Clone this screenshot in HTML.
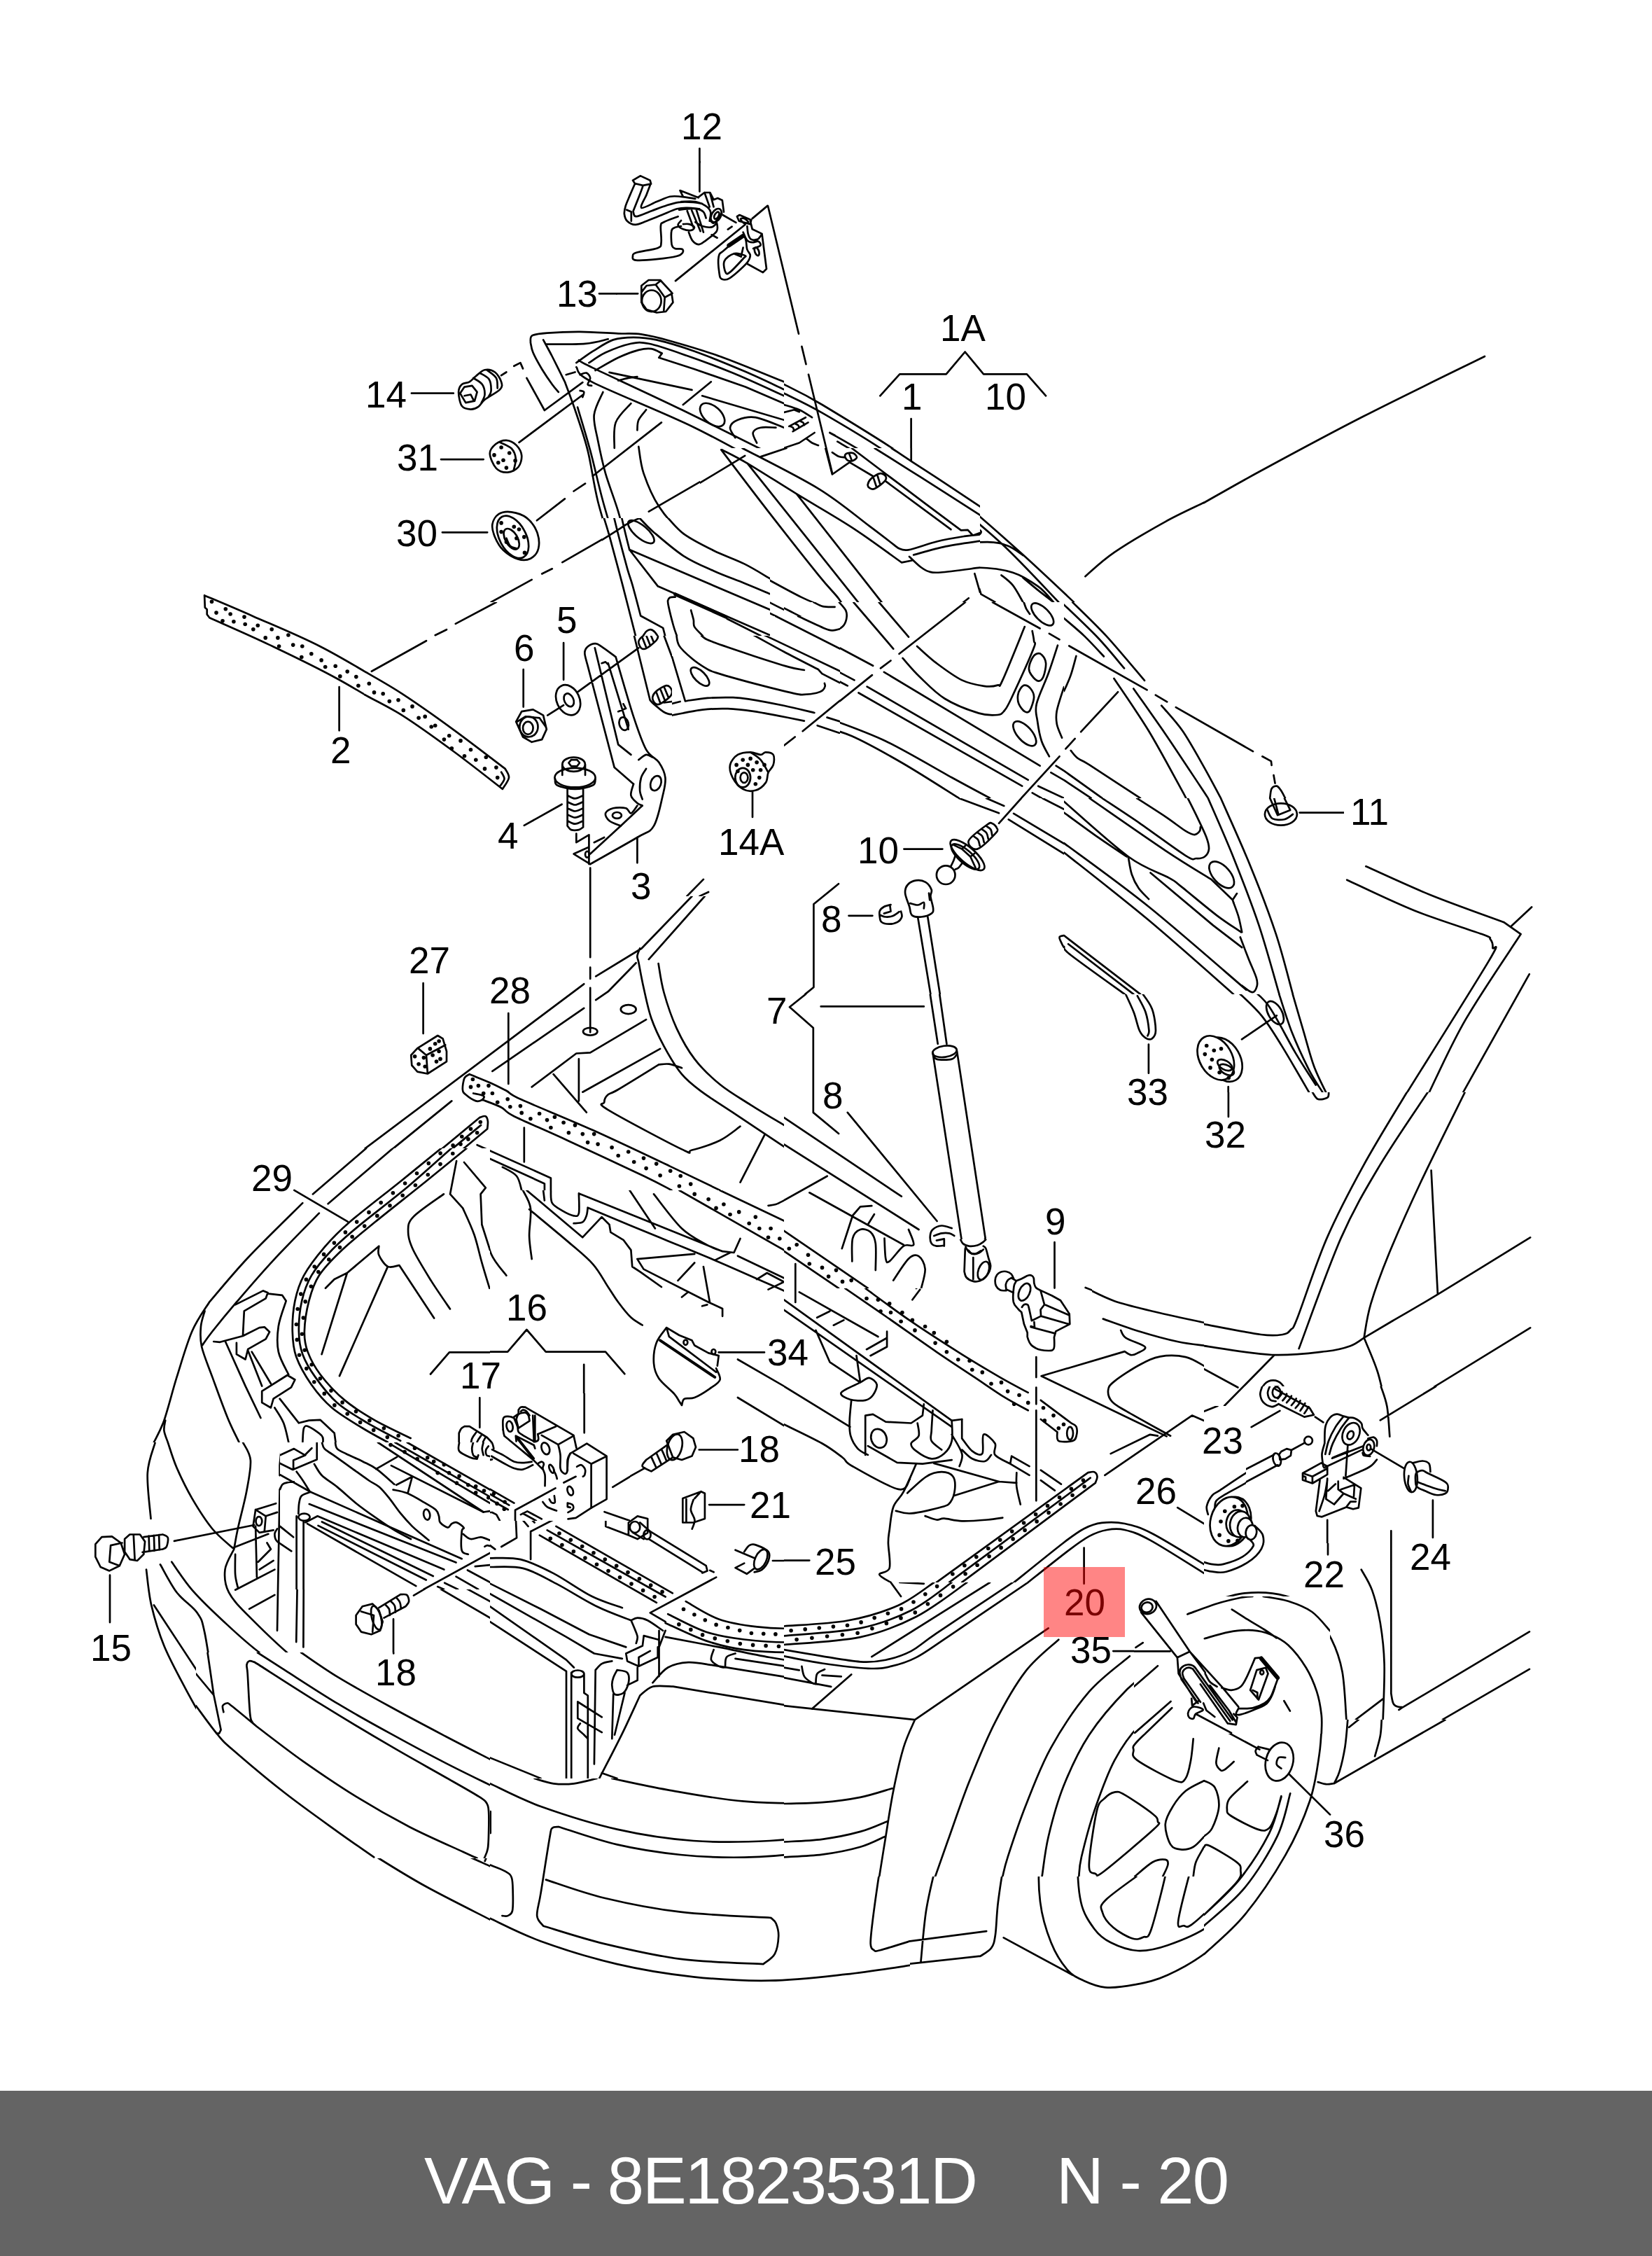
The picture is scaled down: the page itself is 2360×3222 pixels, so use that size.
<!DOCTYPE html>
<html lang="en">
<head>
<meta charset="utf-8">
<title>VAG - 8E1823531D N - 20</title>
<style>
html,body{margin:0;padding:0;background:#fff;}
body{width:2360px;height:3222px;position:relative;overflow:hidden;font-family:"Liberation Sans",sans-serif;}
#diagram{position:absolute;left:0;top:0;width:2360px;height:2986px;display:block;}
#diagram path{fill:none;stroke:#000;stroke-linecap:round;stroke-linejoin:round;}
#diagram text{font-family:"Liberation Sans",sans-serif;font-size:53px;fill:#000;}
#hl{position:absolute;left:1491px;top:2238px;width:116px;height:100px;background:rgba(255,0,0,.48);}
#footer{position:absolute;left:0;top:2986px;width:2360px;height:236px;background:#646464;color:#fff;}
#footer span{position:absolute;top:75px;font-size:94px;line-height:108px;white-space:pre;}
</style>
</head>
<body>
<svg id="diagram" viewBox="0 0 2360 2986" width="2360" height="2986">
<g>
<clipPath id="c0"><rect x="240" y="800" width="400" height="280"/></clipPath>
<rect x="240" y="800" width="400" height="280" fill="#fff" stroke="none"/>
<g clip-path="url(#c0)">
<path d="M292.1 850.4C303.6 855.3 333.4 867.7 361.1 879.9C388.7 892.1 425.6 906.9 457.9 923.5C490.2 940 524.4 961 554.8 979.2C585.1 997.3 625.8 1023.6 640 1032.4M299.3 882.3C313.6 888.8 354.8 906.5 385.3 921.1C415.7 935.6 449.8 951.7 482.1 969.5C514.4 987.2 552.7 1011.3 579 1027.6C605.3 1043.9 629.8 1060.9 640 1067.6M292.1 850.4L292.8 867.8L295.7 870.2L295.7 877.5L299.3 882.3" stroke-width="2.7"/>
<circle cx="302.5" cy="859.3" r="2.8" fill="#000"/>
<circle cx="322.3" cy="869.7" r="2.8" fill="#000"/>
<circle cx="309" cy="875.1" r="2.8" fill="#000"/>
<circle cx="329.1" cy="877" r="2.8" fill="#000"/>
<circle cx="318" cy="886.7" r="2.8" fill="#000"/>
<circle cx="333.9" cy="887.7" r="2.8" fill="#000"/>
<circle cx="349" cy="881.1" r="2.8" fill="#000"/>
<circle cx="350.2" cy="891.5" r="2.8" fill="#000"/>
<circle cx="361.8" cy="898.8" r="2.8" fill="#000"/>
<circle cx="368.3" cy="893.2" r="2.8" fill="#000"/>
<circle cx="388.2" cy="898.8" r="2.8" fill="#000"/>
<circle cx="379.2" cy="910.9" r="2.8" fill="#000"/>
<circle cx="396.9" cy="910.9" r="2.8" fill="#000"/>
<circle cx="411.9" cy="907" r="2.8" fill="#000"/>
<circle cx="398.6" cy="923" r="2.8" fill="#000"/>
<circle cx="418.7" cy="921.1" r="2.8" fill="#000"/>
<circle cx="431.8" cy="923" r="2.8" fill="#000"/>
<circle cx="430.8" cy="938.5" r="2.8" fill="#000"/>
<circle cx="444.8" cy="933.7" r="2.8" fill="#000"/>
<circle cx="459.1" cy="942.9" r="2.8" fill="#000"/>
<circle cx="464.7" cy="952.5" r="2.8" fill="#000"/>
<circle cx="479.2" cy="951.3" r="2.8" fill="#000"/>
<circle cx="485.8" cy="965.9" r="2.8" fill="#000"/>
<circle cx="496.2" cy="959.1" r="2.8" fill="#000"/>
<circle cx="508.8" cy="966.6" r="2.8" fill="#000"/>
<circle cx="511.9" cy="979.2" r="2.8" fill="#000"/>
<circle cx="527.7" cy="975.5" r="2.8" fill="#000"/>
<circle cx="533" cy="991.3" r="2.8" fill="#000"/>
<circle cx="548" cy="991.3" r="2.8" fill="#000"/>
<circle cx="556.7" cy="1002.2" r="2.8" fill="#000"/>
<circle cx="569.8" cy="1000.5" r="2.8" fill="#000"/>
<circle cx="576.6" cy="1014.3" r="2.8" fill="#000"/>
<circle cx="587.9" cy="1008.2" r="2.8" fill="#000"/>
<circle cx="589.4" cy="1021.5" r="2.8" fill="#000"/>
<circle cx="606.8" cy="1023.2" r="2.8" fill="#000"/>
<circle cx="608" cy="1037.8" r="2.8" fill="#000"/>
<circle cx="620.6" cy="1037.8" r="2.8" fill="#000"/>
<circle cx="635.2" cy="1042.6" r="2.8" fill="#000"/>
<circle cx="634.2" cy="1055.4" r="2.8" fill="#000"/>
<path d="M484.6 981.1L484.6 1043.3M530.6 959.8L608 915.7M620.6 907.7L637.1 898.8" stroke-width="2.7"/>
</g>
<clipPath id="c45"><rect x="520" y="440" width="600" height="420"/></clipPath>
<rect x="520" y="440" width="600" height="420" fill="#fff" stroke="none"/>
<g clip-path="url(#c45)">
<path d="M587.9 561.7L647.8 561.7M630 656.1L690.7 656.1M631.9 760.3L696.2 760.3M655.1 559.9C655.1 554.7 657.2 551.4 659.8 549C662.4 546.5 667.4 547.3 670.7 545.3C674.1 543.4 676.2 540.2 679.8 537.3C683.4 534.5 688 529.2 692.5 528.3C697.1 527.3 703.1 528.7 707 531.5C711 534.4 714.9 541.2 716.1 545.3C717.3 549.4 718.2 552 714.3 556.2C710.4 560.5 697.7 566.6 692.5 570.8C687.4 574.9 686.8 578.6 683.4 580.9C680.1 583.2 676.5 584.7 672.5 584.6C668.6 584.4 662.7 583.9 659.8 579.8C656.9 575.7 655.1 565 655.1 559.9ZM676.2 539.9C678.3 541.4 686.2 545 688.9 549C691.6 552.9 692.7 559.1 692.5 563.5C692.3 567.8 688.6 573.2 687.8 575.1M685.3 532.6C687.5 534.1 696 537.5 698.7 541.7C701.4 545.9 701.7 553.9 701.6 558C701.5 562.2 698.6 565 698 566.4M696.2 529C698.3 530.8 706.4 535.6 708.9 539.9C711.3 544.1 710.4 552 710.7 554.4M657.3 561.7L663.5 552.6L674.4 550.8L681.6 559.9L678 572.6L665.3 575.1ZM663.5 565.3L672.5 563.5L676.2 570.8M716.1 536.2L723.4 531.5M734.3 522.8L743.4 518.1L747 526.4M752.4 539.9L777.9 586L832.3 546.1M741.5 631.8L833.1 563.5M828.7 535.2C830.2 534.7 835.4 531.8 837.8 532.6C840.2 533.4 842.9 537.2 843.2 539.9C843.5 542.6 839.3 547.1 839.6 549C839.9 550.8 844.2 550.5 845.1 550.8M828.7 558C829.6 558.3 833.6 558.3 834.2 559.9C834.8 561.4 832.7 565.9 832.3 567.1M767 743.3L806.9 712.4M819.6 701.5L836 690.6M846.9 679.7L944.9 603.4M975.8 578L1015.8 545.3M699.8 647.7C699.7 642 704.2 637.5 708.1 634.3C712.1 631.2 718.4 628.6 723.4 628.9C728.4 629.2 734.3 632.5 737.9 636.1C741.5 639.8 744.8 645.5 745.2 650.7C745.6 655.8 743.8 663 740.5 667C737.1 671 730.5 674.3 725.2 674.6C719.9 674.9 713.1 673.3 708.9 668.8C704.6 664.3 699.9 653.5 699.8 647.7ZM714.3 631.8C717 633.2 726.9 636.6 730.7 640.5C734.4 644.4 736.3 649.7 736.8 655C737.3 660.3 734.1 669.5 733.6 672.4" stroke-width="2.7"/>
<circle cx="706" cy="649.9" r="2.8" fill="#000"/>
<circle cx="716.1" cy="639" r="2.8" fill="#000"/>
<circle cx="727.7" cy="647" r="2.8" fill="#000"/>
<circle cx="719" cy="657.2" r="2.8" fill="#000"/>
<circle cx="723.4" cy="668.1" r="2.8" fill="#000"/>
<circle cx="736.1" cy="657.9" r="2.8" fill="#000"/>
<circle cx="711.8" cy="660.8" r="2.8" fill="#000"/>
<path d="M703.4 748.7C704.3 743.3 708 737.1 712.5 734.2C717 731.3 724 730.4 730.7 731.3C737.3 732.2 746.4 734.9 752.4 739.6C758.5 744.4 764.2 752.3 767 759.6C769.8 766.9 770.7 776.9 769.2 783.2C767.6 789.6 762.8 795.2 757.9 797.7C753 800.3 746.2 800.5 739.7 798.5C733.3 796.5 724.5 791 719 785.8C713.6 780.5 709.6 773.1 707 766.9C704.4 760.7 702.5 754.2 703.4 748.7Z" stroke-width="2.7"/>
<ellipse cx="732.5" cy="766.9" rx="18.9" ry="32.7" transform="rotate(-28 732.5 766.9)" fill="none" stroke="#000" stroke-width="2.7"/>
<ellipse cx="730.7" cy="769.8" rx="8.7" ry="16.3" transform="rotate(-30 730.7 769.8)" fill="none" stroke="#000" stroke-width="2.7"/>
<path d="M723.4 768.7C724.3 770.5 726.4 777.2 728.8 779.6C731.3 782 736.4 782.6 737.9 783.2" stroke-width="2.7"/>
<circle cx="716.1" cy="746.9" r="2.8" fill="#000"/>
<circle cx="734.3" cy="752.3" r="2.8" fill="#000"/>
<circle cx="748.8" cy="766.9" r="2.8" fill="#000"/>
<circle cx="723.4" cy="774.1" r="2.8" fill="#000"/>
<circle cx="737.9" cy="768.7" r="2.8" fill="#000"/>
<circle cx="716.1" cy="759.6" r="2.8" fill="#000"/>
<circle cx="749.5" cy="789.4" r="2.8" fill="#000"/>
<circle cx="741.5" cy="756" r="2.8" fill="#000"/>
<path d="M701.6 859.9L759.7 827.9M774.2 819.5L788.8 812.3M803.3 803.2L910.4 741.5M926.8 730.6L1064.8 650.7M757.9 489C758.3 487.4 756.5 481.5 760.4 479.2C764.4 477 770.1 476.5 781.5 475.6C792.9 474.7 811.8 473.7 828.7 473.8C845.7 473.9 868.7 475.7 883.2 476.3C897.7 476.9 903.8 475.7 915.9 477.4C928 479.1 937.1 481.2 955.8 486.5C974.6 491.8 1001.1 499.2 1028.5 509C1055.8 518.8 1104.7 539.3 1120 545.3M823.3 518.1C827.2 515.4 838.1 507.2 846.9 501.7C855.7 496.3 866.2 488.7 875.9 485.4C885.6 482.1 894.7 481.8 905 481.8C915.3 481.8 923.1 482.1 937.7 485.4C952.2 488.7 971 494.2 992.2 501.7C1013.3 509.3 1043.5 521.7 1064.8 530.8C1086.1 539.9 1110.8 552 1120 556.2M841.4 518.1C845.4 515.7 855 508.1 865 503.6C875 499 891.1 493 901.4 490.8C911.6 488.7 914.7 488.4 926.8 490.8C938.9 493.3 954 498.4 974 505.4C994 512.3 1022.3 522.6 1046.6 532.6C1071 542.6 1107.8 559.9 1120 565.3M850.5 529C856 526 872.9 515.7 883.2 510.8C893.5 506 904.4 502 912.3 499.9C920.1 497.8 924.8 497.3 930.4 498.1C936 498.9 943.1 503.6 945.7 504.6M945.7 504.6L941.3 510.8L992.2 527.2L1064.8 552.6L1120 576.2M757.9 489C758.5 491.5 758.8 497.2 761.5 503.6C764.2 509.9 769.7 519.6 774.2 527.2C778.8 534.7 784.8 543.5 788.8 549C792.7 554.4 796.3 558 797.8 559.9M776.1 485.4C778.2 489.3 783.6 499 788.8 509C793.9 519 803.9 539.3 806.9 545.3M779.7 491.6C789.1 491.5 821.2 492.1 836 490.8C850.8 489.6 863.2 485.4 868.7 484.3M826.9 514.5C830.2 516.3 822.4 513.5 846.9 525.4C871.4 537.2 928.5 563.2 974 585.3C1019.5 607.4 1095.7 645.8 1120 657.9M823.3 524.3C827.2 527.9 818.7 531.6 846.9 546.1C875 560.5 946.6 588.4 992.2 610.7C1037.7 633 1098.7 668.2 1120 679.7M870.5 531.9L988.5 556.9M1003.1 565.3L1120 599.8M883.2 543.5C885.6 542.9 893.2 540.8 897.7 539.9C902.3 539 908.3 538.4 910.4 538.1M806.9 545.3C809.3 552 816 568.9 821.5 585.3C826.9 601.6 834.2 621.6 839.6 643.4C845.1 665.2 847.5 689.4 854.1 716C860.8 742.7 873.2 779.2 879.6 803.2C885.9 827.2 890.2 850.4 892.3 859.9M825.1 581.6C828.1 591.9 837.2 621 843.2 643.4C849.3 665.8 854.1 689.4 861.4 716C868.7 742.7 880.2 779.2 886.8 803.2C893.5 827.2 898.9 850.4 901.4 859.9M808.7 535.2L821.5 531.5M861.4 559.9C859.3 565.3 849.9 581 848.7 592.5C847.5 604 851.4 614.9 854.1 628.9C856.9 642.8 860.2 659.1 865 676.1C869.9 693 877.7 712.4 883.2 730.6C888.6 748.7 895.3 776 897.7 785M901.4 576.2C897.7 580.7 883.5 592.8 879.6 603.4C875.6 614 878.1 633.7 877.7 639.8M923.1 585.3C921.3 587.7 914.4 595 912.3 599.8C910.1 604.6 910.7 611.9 910.4 614.3M912.3 637.9C913.5 644.3 914.7 661.9 919.5 676.1C924.4 690.3 932.2 709.4 941.3 723.3C950.4 737.2 959.5 748.7 974 759.6C988.5 770.5 1004.1 776.6 1028.5 788.7C1052.8 800.8 1104.7 825 1120 832.3M897.7 785L941.3 835.9L955.8 839.5L1120 859.9" stroke-width="2.7"/>
<ellipse cx="1017.6" cy="592.5" rx="21.1" ry="12" transform="rotate(42 1017.6 592.5)" fill="none" stroke="#000" stroke-width="2.7"/>
<path d="M1050.3 625.2C1049.1 622.8 1042.4 614.9 1043 610.7C1043.6 606.5 1047.8 602.2 1053.9 599.8C1060 597.4 1068.3 594.4 1079.3 596.2C1090.3 598 1113.2 608.3 1120 610.7M1081.1 632.5C1080.2 630.1 1074.8 621.6 1075.7 618C1076.6 614.3 1081.1 611.9 1086.6 610.7C1092 609.5 1104.7 610.7 1108.4 610.7" stroke-width="2.7"/>
<ellipse cx="914.1" cy="759.6" rx="22.5" ry="12" transform="rotate(42 914.1 759.6)" fill="none" stroke="#000" stroke-width="2.7"/>
<path d="M1030.3 641.6L1120 748.7M1064.8 657.9L1120 716M955.8 852.2C957.7 851.9 963.1 849.1 966.7 850.4C970.4 851.7 975.8 858.3 977.6 859.9" stroke-width="2.7"/>
</g>
<clipPath id="c74"><rect x="1120" y="440" width="600" height="420"/></clipPath>
<rect x="1120" y="440" width="600" height="420" fill="#fff" stroke="none"/>
<g clip-path="url(#c74)">
<path d="M1257.3 565.3L1285.3 534.4L1351.7 534.4L1378.6 502.5L1405.1 534.4L1466.9 534.4L1494.1 565.3M1301.6 598L1301.6 657.9M1189 676.1L1212.6 657.9M1185.4 618L1192.6 621.6M1189 647C1190.5 647.9 1194.8 651.3 1198.1 652.5C1201.4 653.7 1207.2 654 1209 654.3M1207.2 650.7C1207.5 648.4 1210.5 645.8 1212.6 645.2C1214.7 644.6 1218.1 645.5 1219.9 647C1221.7 648.5 1223.8 652 1223.5 654.3C1223.2 656.6 1220.2 660 1218.1 660.8C1215.9 661.6 1212.6 660.7 1210.8 659C1209 657.3 1206.9 653 1207.2 650.7ZM1213.7 647L1217.3 659.7M1239.9 690.6C1239.6 688.3 1242 685.8 1245.3 683.3C1248.6 680.9 1256.5 676.4 1259.8 676.1C1263.2 675.8 1265 679.4 1265.3 681.5C1265.6 683.6 1264.7 686.2 1261.6 688.8C1258.6 691.4 1250.8 696.8 1247.1 697.1C1243.5 697.4 1240.2 692.9 1239.9 690.6ZM1247.1 684.1L1252.6 694.2M1252.6 680.4L1258 691.3M1215.2 661.5L1241.7 677.9M1263.5 690.6L1356.1 756M1120 549C1129.1 553.8 1144.2 559.9 1174.5 578C1204.7 596.2 1268.3 634.9 1301.6 657.9C1334.9 680.9 1347.6 693.6 1374.2 716C1400.9 738.4 1434.8 768.3 1461.4 792.3C1488 816.3 1521.9 848.6 1534 859.9M1120 561.7C1129.1 566.3 1150.3 575.7 1174.5 589.6C1198.7 603.6 1235.6 625 1265.3 645.2C1294.9 665.4 1324.6 688.5 1352.4 710.6C1380.3 732.7 1405.7 752.9 1432.3 777.8C1459 802.7 1498.9 846.2 1512.3 859.9M1185.4 618C1192.6 622.2 1212.6 633.1 1229 643.4C1245.3 653.7 1265.3 667.6 1283.4 679.7C1301.6 691.8 1320.4 704.2 1337.9 716C1355.5 727.8 1378.2 743.4 1388.8 750.5C1399.4 757.7 1400.6 756.3 1401.5 758.9C1402.4 761.4 1398.8 764.3 1394.2 765.8C1389.7 767.2 1383.6 766.5 1374.2 767.6C1364.9 768.7 1348.8 770.3 1337.9 772.3C1327 774.3 1318.2 777.8 1308.9 779.6C1299.5 781.4 1286.2 782.6 1281.6 783.2M1196.3 630.7C1204.7 635.8 1229.6 649.7 1247.1 661.5C1264.7 673.4 1286.5 690 1301.6 701.5C1316.7 713 1328.2 721.6 1337.9 730.6C1347.6 739.5 1356.1 751.1 1359.7 755.3M1359.7 755.3L1381.5 757.8L1388.8 764.3M1120 578C1123.6 579.2 1135.1 582.3 1141.8 585.3C1148.5 588.3 1156.9 594.4 1160 596.2M1120 588.9L1134.5 585.3L1141.8 588.2M1127.3 608.9L1150.9 596.2M1132.7 616.2L1154.5 603.4M1129.1 608.9C1129.7 609.2 1131.8 609.7 1132.7 610.7C1133.6 611.7 1134.2 614.3 1134.5 615.1M1136.3 605.3C1136.9 605.6 1139.1 606.2 1140 607.1C1140.9 608 1141.5 610.1 1141.8 610.7M1143.6 601.6C1144.2 601.9 1146.3 602.5 1147.2 603.4C1148.1 604.3 1148.8 606.5 1149.1 607.1M1152.7 627C1153.9 628 1157.2 631 1160 632.5C1162.7 634 1167.5 635.5 1169 636.1M1120 639.8L1141.8 632.5L1163.6 618M1120 657.9C1132.1 665.2 1171.5 687 1192.6 701.5C1213.8 716 1232.3 731.5 1247.1 745.1C1261.9 758.7 1268.9 771.7 1281.6 783.2C1294.3 794.7 1312.8 808.6 1323.4 814.1C1334 819.5 1333.1 816.5 1345.2 815.9C1357.3 815.3 1379.1 810.2 1396 810.5C1413 810.8 1432.3 813.2 1446.9 817.7C1461.4 822.3 1473.5 830.7 1483.2 837.7C1492.9 844.7 1501.4 856.2 1505 859.9M1120 677.9L1287.1 803.2L1305.2 801.4M1305.2 792.3C1313.7 790.2 1338.5 782.6 1356.1 779.6C1373.6 776.6 1396.6 774.1 1410.6 774.1C1424.5 774.1 1431.1 776.4 1439.6 779.6C1448.1 782.7 1457.8 790.8 1461.4 793M1392.4 819.5L1401.5 848.6L1421.5 859.9M1430.5 821.4C1433.3 823.8 1441.7 829.5 1446.9 835.9C1452 842.3 1459 855.9 1461.4 859.9M1461.4 825C1465 828 1475.9 837.3 1483.2 843.1C1490.5 849 1501.4 857.1 1505 859.9M1374.2 859.9L1385.1 853.3M1550.4 823.2C1557.3 817.4 1573.1 801.7 1592.2 788.7C1611.2 775.7 1643.5 756.9 1664.8 745.1C1686.1 733.3 1710.8 722.4 1720 717.8" stroke-width="2.7"/>
</g>
<clipPath id="c79"><rect x="520" y="860" width="600" height="420"/></clipPath>
<rect x="520" y="860" width="600" height="420" fill="#fff" stroke="none"/>
<g clip-path="url(#c79)">
<path d="M530.9 958.8L609 915.2M621.7 907.2L638 899.2M650.8 890.9L708.9 860M520 958.4C529.1 963.8 553.3 976.9 574.5 990.8C595.7 1004.6 622.6 1023.7 647.1 1041.6C671.6 1059.5 709.2 1088.5 721.6 1097.9M520 991.8C529.1 996.8 553.3 1008.2 574.5 1021.6C595.7 1035.1 623.2 1054.9 647.1 1072.5C671 1090 706.1 1117.9 717.9 1126.9M721.6 1097.9C722.5 1100 727.6 1105.8 727 1110.6C726.4 1115.4 719.5 1124.2 717.9 1126.9M716.1 1102.6C716.9 1104.2 720.7 1109.2 720.5 1112.4C720.2 1115.7 715.6 1120.6 714.7 1122.2" stroke-width="2.7"/>
<circle cx="527.3" cy="976.2" r="2.8" fill="#000"/>
<circle cx="534.5" cy="988.9" r="2.8" fill="#000"/>
<circle cx="547.2" cy="990.8" r="2.8" fill="#000"/>
<circle cx="556.3" cy="1001.6" r="2.8" fill="#000"/>
<circle cx="569" cy="999.8" r="2.8" fill="#000"/>
<circle cx="576.3" cy="1014.4" r="2.8" fill="#000"/>
<circle cx="589" cy="1008.9" r="2.8" fill="#000"/>
<circle cx="598.1" cy="1025.3" r="2.8" fill="#000"/>
<circle cx="607.2" cy="1023.4" r="2.8" fill="#000"/>
<circle cx="616.2" cy="1038" r="2.8" fill="#000"/>
<circle cx="621.7" cy="1036.2" r="2.8" fill="#000"/>
<circle cx="634.4" cy="1056.1" r="2.8" fill="#000"/>
<circle cx="641.7" cy="1050.7" r="2.8" fill="#000"/>
<circle cx="645.3" cy="1068.8" r="2.8" fill="#000"/>
<circle cx="658" cy="1057.9" r="2.8" fill="#000"/>
<circle cx="663.5" cy="1079.7" r="2.8" fill="#000"/>
<circle cx="672.5" cy="1070.7" r="2.8" fill="#000"/>
<circle cx="679.8" cy="1085.2" r="2.8" fill="#000"/>
<circle cx="694.3" cy="1081.5" r="2.8" fill="#000"/>
<circle cx="692.5" cy="1097.9" r="2.8" fill="#000"/>
<circle cx="708.9" cy="1096.1" r="2.8" fill="#000"/>
<circle cx="710.7" cy="1110.6" r="2.8" fill="#000"/>
<path d="M747.7 956.2L747.7 1009.6M805.1 918.1L805.1 970.8M748.8 1178.9L802.6 1148.7M910.4 1196L910.4 1232.3M843.2 1239.5L843.2 1279.9M1075 1130.6L1075 1166.9M737.2 1030.7L745.2 1016.2L761.5 1013.3L776.1 1021.6L780.8 1041.6L774.2 1056.1L759.7 1059.8L747 1052.5Z" stroke-width="2.7"/>
<ellipse cx="755.4" cy="1038" rx="13.1" ry="14.5" transform="rotate(0 755.4 1038)" fill="none" stroke="#000" stroke-width="2.7"/>
<ellipse cx="754.3" cy="1039.8" rx="7.3" ry="9.1" transform="rotate(0 754.3 1039.8)" fill="none" stroke="#000" stroke-width="2.7"/>
<path d="M739 1030.7L750.6 1023.4L770.6 1025.3L779.7 1038" stroke-width="2.7"/>
<ellipse cx="811.6" cy="999.8" rx="16.3" ry="22.5" transform="rotate(-25 811.6 999.8)" fill="none" stroke="#000" stroke-width="2.7"/>
<ellipse cx="812.7" cy="999.8" rx="6.5" ry="9.8" transform="rotate(-25 812.7 999.8)" fill="none" stroke="#000" stroke-width="2.7"/>
<path d="M782.2 1021.6L805.1 1007.1M824.4 988.9L912.3 925.4M912.3 916.3C912.6 913.6 914.4 911.6 917.7 909C921 906.4 928.6 901 932.2 900.7C935.9 900.4 938.6 904.9 939.5 907.2C940.4 909.5 940.4 911.3 937.7 914.5C935 917.6 926.8 924.3 923.1 926.1C919.5 927.9 917.7 927 915.9 925.4C914.1 923.7 911.9 919 912.3 916.3ZM917.7 910.8L923.1 924.6M923.1 907.2L928.6 921M928.6 904.3L934 917.4M932.2 996.2C932.5 993.3 934.3 990 937.7 987.1C941 984.3 948.6 979.4 952.2 979.1C955.8 978.8 958.6 982.8 959.5 985.3C960.4 987.8 960.4 991.1 957.7 994.4C954.9 997.7 946.8 1003.6 943.1 1005.3C939.5 1007 937.7 1006.1 935.9 1004.6C934 1003 931.9 999.1 932.2 996.2ZM937.7 988.9L943.1 1003.5M943.8 985.3L949.3 999.1M949.3 982.4L954.7 995.5M839.6 950.8C838.9 947.8 835.3 937.2 835.3 932.6C835.3 928.1 837.1 925.8 839.6 923.6C842.2 921.3 847.2 919.2 850.5 919.2C853.8 919.2 854.7 920.4 859.6 923.6C864.4 926.7 876.2 935.7 879.6 938.1M839.6 950.8L877.7 1096.1L905 1119.7M879.6 938.1C883.8 952.3 897.7 1001.3 905 1023.4C912.3 1045.5 917.1 1059.8 923.1 1070.7C929.2 1081.5 936.8 1082.2 941.3 1088.8C945.8 1095.5 949.5 1102.7 950.4 1110.6C951.3 1118.5 949.5 1124.5 946.8 1136C944 1147.5 940.1 1169.6 934 1179.6C928 1189.6 925.6 1186.9 910.4 1196C895.3 1205 854.4 1227.7 843.2 1234.1M849.8 925.4L883.2 1063.4L901.4 1077.9M868.7 947.2L897.7 1041.6M859.6 947.2L865 945.4L868.7 949M883.2 1016.2L894.1 1011.8L890.5 1005.3" stroke-width="2.7"/>
<ellipse cx="891.2" cy="1033.6" rx="6.5" ry="9.4" transform="rotate(-15 891.2 1033.6)" fill="none" stroke="#000" stroke-width="2.7"/>
<path d="M912.3 1085.2C914.1 1084 919.8 1078.5 923.1 1077.9C926.5 1077.3 930.7 1080.9 932.2 1081.5M905 1119.7C904.4 1122.4 900.4 1131.5 901.4 1136C902.3 1140.6 907.7 1144.5 910.4 1146.9C913.2 1149.3 916.5 1150 917.7 1150.6" stroke-width="2.7"/>
<ellipse cx="936.9" cy="1118.6" rx="7.3" ry="10.9" transform="rotate(20 936.9 1118.6)" fill="none" stroke="#000" stroke-width="2.7"/>
<path d="M923.1 1097.9C921.9 1100 917.4 1105.5 915.9 1110.6C914.4 1115.8 913.8 1123.6 914.1 1128.8C914.4 1133.9 917.1 1139.4 917.7 1141.5M910.4 1150.6C908.9 1152.4 904.1 1160.8 901.4 1161.5C898.6 1162.1 898.3 1155.4 894.1 1154.2C889.9 1153 880.8 1153 875.9 1154.2C871.1 1155.4 865.9 1158.4 865 1161.5C864.1 1164.5 866.9 1169.3 870.5 1172.3C874.1 1175.4 884.1 1178.4 886.8 1179.6" stroke-width="2.7"/>
<ellipse cx="881.4" cy="1164.4" rx="6.5" ry="4.4" transform="rotate(0 881.4 1164.4)" fill="none" stroke="#000" stroke-width="2.7"/>
<path d="M886.8 1179.6L917.7 1150.6M886.8 1179.6L843.2 1219.6M843.2 1234.1L819.6 1219.6L839.6 1210.5" stroke-width="2.7"/>
<ellipse cx="838.9" cy="1220.3" rx="2.9" ry="4.4" transform="rotate(0 838.9 1220.3)" fill="none" stroke="#000" stroke-width="2.7"/>
<path d="M848.7 1203.2L863.2 1196M823.3 1190.5L823.3 1203.2L841.4 1192.3L841.4 1234.1" stroke-width="2.7"/>
<ellipse cx="819.6" cy="1091.7" rx="16.3" ry="10.2" transform="rotate(0 819.6 1091.7)" fill="none" stroke="#000" stroke-width="2.7"/>
<path d="M803.3 1092.4L803.3 1107M836 1092.4L836 1107M812.4 1089.5L816 1085.2L824.4 1085.2L828 1089.5L824.4 1094.3L816 1094.3Z" stroke-width="2.7"/>
<ellipse cx="821.5" cy="1110.6" rx="29.1" ry="13.8" transform="rotate(0 821.5 1110.6)" fill="none" stroke="#000" stroke-width="2.7"/>
<path d="M793.1 1112.4C793.6 1113.9 791.3 1119.1 796 1121.5C800.8 1123.9 813 1126.9 821.5 1126.9C829.9 1126.9 842 1123.9 846.9 1121.5C851.7 1119.1 849.9 1113.9 850.5 1112.4M810.6 1126.9L810.6 1179.6M833.1 1125.1L833.1 1181.4M810.6 1179.6C811.5 1180.5 813.3 1184.2 816 1185.1C818.7 1186 824.1 1185.7 826.9 1185.1C829.7 1184.5 832 1182 833.1 1181.4M810.6 1136C812.4 1136.8 817.7 1140.4 821.5 1140.4C825.2 1140.4 831.1 1136.8 833.1 1136M810.6 1145.1C812.4 1145.8 817.7 1149.5 821.5 1149.5C825.2 1149.5 831.1 1145.8 833.1 1145.1M810.6 1154.2C812.4 1154.9 817.7 1158.5 821.5 1158.5C825.2 1158.5 831.1 1154.9 833.1 1154.2M810.6 1163.3C812.4 1164 817.7 1167.6 821.5 1167.6C825.2 1167.6 831.1 1164 833.1 1163.3M810.6 1172.3C812.4 1173.1 817.7 1176.7 821.5 1176.7C825.2 1176.7 831.1 1173.1 833.1 1172.3M894.1 860L928.6 999.8M928.6 999.8C929.8 1001 931.3 1003.8 935.9 1007.1C940.4 1010.4 946.5 1018.3 955.8 1019.8C965.2 1021.3 977 1018.6 992.2 1016.2C1007.3 1013.8 1025.3 1007.1 1046.6 1005.3C1067.9 1003.5 1107.8 1005.3 1120 1005.3M908.6 860L915.9 878.2L944.9 898.1L961.3 941.7M975.8 999.8C984.6 998.6 1010.6 994.1 1028.5 992.6C1046.3 991.1 1067.7 990.1 1083 990.8C1098.2 991.4 1113.8 995.3 1120 996.2M948.6 1003.5L975.8 999.8M955.8 874.5C957 880 959.5 897.5 963.1 907.2C966.7 916.9 966.7 924.8 977.6 932.6C988.5 940.5 1004.7 946.6 1028.5 954.4C1052.2 962.3 1104.7 975.6 1120 979.9M986.7 872.7C987.3 876 987.6 886.9 990.3 892.7C993.1 898.4 990.6 901.8 1003.1 907.2C1015.5 912.7 1045.3 920.2 1064.8 925.4C1084.3 930.5 1110.8 936 1120 938.1M988.5 860L1120 907.2M1021.2 860L1120 896.3" stroke-width="2.7"/>
<ellipse cx="1000.1" cy="966.1" rx="8" ry="15.3" transform="rotate(-35 1000.1 966.1)" fill="none" stroke="#000" stroke-width="2.7"/>
<path d="M1043 1092.4C1044.2 1087 1049.1 1080.9 1053.9 1077.9C1058.7 1074.9 1066.6 1074.3 1072.1 1074.3C1077.5 1074.3 1083 1077.9 1086.6 1077.9C1090.2 1077.9 1090.8 1074.3 1093.8 1074.3C1096.9 1074.3 1102.9 1074.9 1104.7 1077.9C1106.6 1080.9 1106 1088.2 1104.7 1092.4C1103.5 1096.7 1099.3 1099.1 1097.5 1103.3C1095.7 1107.6 1096.9 1113.6 1093.8 1117.9C1090.8 1122.1 1084.8 1127.3 1079.3 1128.8C1073.9 1130.3 1066.6 1130 1061.2 1126.9C1055.7 1123.9 1049.7 1116.4 1046.6 1110.6C1043.6 1104.9 1041.8 1097.9 1043 1092.4Z" stroke-width="2.7"/>
<ellipse cx="1061.2" cy="1110.6" rx="10.9" ry="13.8" transform="rotate(0 1061.2 1110.6)" fill="none" stroke="#000" stroke-width="2.7"/>
<ellipse cx="1063" cy="1110.6" rx="5.4" ry="7.3" transform="rotate(0 1063 1110.6)" fill="none" stroke="#000" stroke-width="2.7"/>
<path d="M1072.1 1074.3C1074.5 1076.1 1082.3 1080.3 1086.6 1085.2C1090.8 1090 1095.7 1100.3 1097.5 1103.3" stroke-width="2.7"/>
<circle cx="1052.1" cy="1092.4" r="2.8" fill="#000"/>
<circle cx="1061.2" cy="1085.2" r="2.8" fill="#000"/>
<circle cx="1072.1" cy="1083.4" r="2.8" fill="#000"/>
<circle cx="1081.1" cy="1088.8" r="2.8" fill="#000"/>
<circle cx="1086.6" cy="1099.7" r="2.8" fill="#000"/>
<circle cx="1084.8" cy="1110.6" r="2.8" fill="#000"/>
<circle cx="1079.3" cy="1119.7" r="2.8" fill="#000"/>
<circle cx="1053.9" cy="1101.5" r="2.8" fill="#000"/>
<circle cx="1068.4" cy="1092.4" r="2.8" fill="#000"/>
<circle cx="1075.7" cy="1099.7" r="2.8" fill="#000"/>
<circle cx="1092" cy="1092.4" r="2.8" fill="#000"/>
<path d="M981.3 1279.9L1004.9 1255.9M999.4 1279.9L1012.1 1274" stroke-width="2.7"/>
</g>
<clipPath id="c142"><rect x="520" y="1280" width="600" height="420"/></clipPath>
<rect x="520" y="1280" width="600" height="420" fill="#fff" stroke="none"/>
<g clip-path="url(#c142)">
<path d="M604.6 1404.2L604.6 1476.1M726.3 1447.1L726.3 1548M843.2 1280L843.2 1367.2M843.2 1381.7L843.2 1398M843.2 1410.8L843.2 1474.3" stroke-width="2.7"/>
<ellipse cx="843.2" cy="1473.2" rx="10.2" ry="5.4" transform="rotate(0 843.2 1473.2)" fill="none" stroke="#000" stroke-width="2.7"/>
<ellipse cx="897.7" cy="1441.6" rx="10.9" ry="6.5" transform="rotate(0 897.7 1441.6)" fill="none" stroke="#000" stroke-width="2.7"/>
<path d="M587.2 1507L596.3 1497.2L625.3 1479L632.6 1483.4L638 1501.5L638 1516.1L610.8 1533.5L596.3 1530.6L588.3 1521.5ZM598.1 1497.9L609 1507L610.8 1532.4M609 1507L636.2 1492.5" stroke-width="2.7"/>
<circle cx="592.6" cy="1508.8" r="2.8" fill="#000"/>
<circle cx="598.1" cy="1519.7" r="2.8" fill="#000"/>
<circle cx="605.4" cy="1510.6" r="2.8" fill="#000"/>
<circle cx="607.2" cy="1523.3" r="2.8" fill="#000"/>
<circle cx="614.4" cy="1497.9" r="2.8" fill="#000"/>
<circle cx="621.7" cy="1490.7" r="2.8" fill="#000"/>
<circle cx="627.1" cy="1487" r="2.8" fill="#000"/>
<circle cx="618.1" cy="1507" r="2.8" fill="#000"/>
<circle cx="627.1" cy="1501.5" r="2.8" fill="#000"/>
<circle cx="623.5" cy="1516.1" r="2.8" fill="#000"/>
<circle cx="629" cy="1512.4" r="2.8" fill="#000"/>
<path d="M520 1641.4L834.2 1405.3M851.2 1394.4L916.6 1354.5M520 1674.1L645.3 1572.4M703.4 1529.9L834.2 1439.8M851.2 1428.2L868.7 1416.2L908.6 1375.2M914.1 1354.5C913.5 1356.3 910.7 1362 910.4 1365.4C910.1 1368.7 910.7 1366.9 912.3 1374.4C913.8 1382 916.5 1397.4 919.5 1410.8C922.5 1424.1 925.6 1440.4 930.4 1454.3C935.3 1468.3 941.3 1481 948.6 1494.3C955.8 1507.6 964.9 1523.3 974 1534.2C983.1 1545.1 990.9 1550.6 1003.1 1559.7C1015.2 1568.7 1027.1 1575.7 1046.6 1588.7C1066.1 1601.7 1107.8 1629.6 1120 1637.7M940.6 1376.2C941.9 1383.2 944.2 1402.6 948.6 1418C952.9 1433.5 959.5 1453.1 966.7 1468.9C974 1484.6 981.9 1499.1 992.2 1512.4C1002.4 1525.8 1015.2 1537.9 1028.5 1548.8C1041.8 1559.7 1056.8 1568.1 1072.1 1577.8C1087.3 1587.5 1112 1602 1120 1606.9M988.5 1280L916.6 1354.5M1006.7 1280L926.8 1370.1M759.7 1552.4L823.3 1504.5L843.2 1503.4L923.1 1456.2M826.9 1512.4L826.9 1572.4M790.6 1534.2L837.8 1588.7M832.3 1559.7L943.1 1497.9M941.3 1520.4C943.7 1520.3 950.4 1518.9 955.8 1519.7C961.3 1520.5 971 1524.2 974 1525.2M941.3 1520.4C931.6 1526.4 895.3 1548.9 883.2 1556C871.1 1563.2 872 1560.3 868.7 1563.3C865.3 1566.3 863.2 1570.6 863.2 1574.2C863.2 1577.8 850.2 1573.9 868.7 1585.1C887.1 1596.3 954 1631.8 974 1641.4C994 1650.9 979.4 1644.6 988.5 1642.5C997.6 1640.4 1017 1634.3 1028.5 1628.7C1040 1623 1052.7 1612 1057.5 1608.7M1092 1621.4L1057.5 1688.6M670.7 1534.2C669.5 1535.1 665.1 1536.1 663.5 1539.7C661.8 1543.3 660.6 1552.1 660.9 1556C661.2 1560 662.1 1560.6 665.3 1563.3C668.4 1566 675.9 1571.2 679.8 1572.4C683.7 1573.6 687.1 1571.8 688.9 1570.6C690.7 1569.3 692.8 1566.6 690.7 1565.1C688.6 1563.6 678.6 1562.1 676.2 1561.5M670.7 1534.2C675.9 1536.4 692.8 1543 701.6 1546.9C710.4 1550.9 716.1 1553.9 723.4 1557.8C730.7 1561.8 724.6 1561.2 745.2 1570.6C765.8 1579.9 811.8 1598.4 846.9 1614.1C882 1629.9 925.6 1650.7 955.8 1665C986.1 1679.3 1016.4 1694 1028.5 1699.9M688.9 1570.6C693.4 1572.4 708.6 1577.5 716.1 1581.5C723.7 1585.4 718.5 1586.3 734.3 1594.2C750 1602 779.7 1614.4 810.6 1628.7C841.4 1642.9 894.7 1667.7 919.5 1679.5C944.3 1691.4 952.8 1696.5 959.5 1699.9" stroke-width="2.7"/>
<circle cx="675.4" cy="1541.5" r="2.8" fill="#000"/>
<circle cx="672.5" cy="1552.4" r="2.8" fill="#000"/>
<circle cx="683.4" cy="1550.6" r="2.8" fill="#000"/>
<circle cx="690.7" cy="1561.5" r="2.8" fill="#000"/>
<circle cx="698" cy="1550.6" r="2.8" fill="#000"/>
<circle cx="703.4" cy="1561.5" r="2.8" fill="#000"/>
<circle cx="710.7" cy="1574.2" r="2.8" fill="#000"/>
<circle cx="725.2" cy="1569.8" r="2.8" fill="#000"/>
<circle cx="728.8" cy="1580.7" r="2.8" fill="#000"/>
<circle cx="743.4" cy="1579.6" r="2.8" fill="#000"/>
<circle cx="745.2" cy="1589.4" r="2.8" fill="#000"/>
<circle cx="757.9" cy="1597.8" r="2.8" fill="#000"/>
<circle cx="770.6" cy="1590.5" r="2.8" fill="#000"/>
<circle cx="781.5" cy="1599.6" r="2.8" fill="#000"/>
<circle cx="786.9" cy="1610.5" r="2.8" fill="#000"/>
<circle cx="792.4" cy="1595.3" r="2.8" fill="#000"/>
<circle cx="805.1" cy="1603.2" r="2.8" fill="#000"/>
<circle cx="812.4" cy="1617.8" r="2.8" fill="#000"/>
<circle cx="821.5" cy="1606.9" r="2.8" fill="#000"/>
<circle cx="832.3" cy="1619.6" r="2.8" fill="#000"/>
<circle cx="848.7" cy="1619.6" r="2.8" fill="#000"/>
<circle cx="839.6" cy="1631.6" r="2.8" fill="#000"/>
<circle cx="854.1" cy="1634.1" r="2.8" fill="#000"/>
<circle cx="874.1" cy="1638.8" r="2.8" fill="#000"/>
<circle cx="883.2" cy="1650.5" r="2.8" fill="#000"/>
<circle cx="897.7" cy="1645" r="2.8" fill="#000"/>
<circle cx="905.7" cy="1659.5" r="2.8" fill="#000"/>
<circle cx="919.5" cy="1654.1" r="2.8" fill="#000"/>
<circle cx="923.1" cy="1668.6" r="2.8" fill="#000"/>
<circle cx="937.7" cy="1662.1" r="2.8" fill="#000"/>
<circle cx="943.1" cy="1678.8" r="2.8" fill="#000"/>
<circle cx="957.7" cy="1672.3" r="2.8" fill="#000"/>
<circle cx="972.2" cy="1679.5" r="2.8" fill="#000"/>
<circle cx="970.4" cy="1694" r="2.8" fill="#000"/>
<circle cx="986.7" cy="1691.1" r="2.8" fill="#000"/>
<path d="M748.8 1610.5L748.8 1659.5M560 1699.9L685.3 1596M685.3 1596C686.6 1595.7 691.7 1593.3 693.6 1594.2C695.5 1595.1 696.5 1598.4 696.9 1601.4C697.3 1604.5 696.3 1610.5 696.2 1612.3M696.2 1612.3L590.8 1699.9M574.5 1699.9L687.1 1606.9" stroke-width="2.7"/>
<circle cx="686.3" cy="1602.5" r="2.8" fill="#000"/>
<circle cx="672.5" cy="1612.3" r="2.8" fill="#000"/>
<circle cx="681.6" cy="1617.8" r="2.8" fill="#000"/>
<circle cx="659.8" cy="1623.2" r="2.8" fill="#000"/>
<circle cx="668.9" cy="1626.9" r="2.8" fill="#000"/>
<circle cx="647.1" cy="1635.9" r="2.8" fill="#000"/>
<circle cx="658" cy="1634.1" r="2.8" fill="#000"/>
<circle cx="632.6" cy="1642.5" r="2.8" fill="#000"/>
<circle cx="643.5" cy="1650.5" r="2.8" fill="#000"/>
<circle cx="610.8" cy="1661.4" r="2.8" fill="#000"/>
<circle cx="623.5" cy="1657.7" r="2.8" fill="#000"/>
<circle cx="619.9" cy="1671.5" r="2.8" fill="#000"/>
<circle cx="598.1" cy="1674.1" r="2.8" fill="#000"/>
<circle cx="607.2" cy="1679.5" r="2.8" fill="#000"/>
<circle cx="585.4" cy="1683.1" r="2.8" fill="#000"/>
<circle cx="596.3" cy="1686.8" r="2.8" fill="#000"/>
<circle cx="565.4" cy="1697.7" r="2.8" fill="#000"/>
<path d="M681.6 1635.2L786.9 1682.4L786.9 1699.9M678 1645L777.9 1690.4L777.9 1699.9M650.8 1659.5L645.3 1699.9M663.5 1660.6L694.3 1699.9M717.9 1666.8C721.3 1668.9 733.4 1674 737.9 1679.5C742.5 1685 744 1696.5 745.2 1699.9" stroke-width="2.7"/>
</g>
<clipPath id="c216"><rect x="1120" y="1420" width="600" height="420"/></clipPath>
<rect x="1120" y="1420" width="600" height="420" fill="#fff" stroke="none"/>
<g clip-path="url(#c216)">
<path d="M1150.9 1420L1128 1438.2L1161.8 1467.9L1161.8 1588.9L1198.1 1619M1172.7 1437.4L1319.8 1437.4M1328.8 1420L1339.7 1490.8M1342.3 1420L1352.4 1490.8" stroke-width="2.7"/>
<ellipse cx="1349.5" cy="1501.7" rx="17.4" ry="8" transform="rotate(-8 1349.5 1501.7)" fill="none" stroke="#000" stroke-width="2.7"/>
<path d="M1332.5 1503.5L1374.2 1774.1M1367 1500.6L1407.7 1768.7M1332.5 1503.5C1333.4 1505 1333.4 1511.1 1337.9 1512.6C1342.5 1514.1 1354.9 1513.8 1359.7 1512.6C1364.6 1511.4 1365.8 1506.6 1367 1505.4M1374.2 1774.1C1375.4 1775.3 1377.3 1780.5 1381.5 1781.4C1385.7 1782.3 1395.3 1781.7 1399.7 1779.6C1404 1777.4 1406.3 1770.5 1407.7 1768.7M1381.5 1783.2C1383.3 1784.1 1389.1 1788.3 1392.4 1788.6C1395.7 1788.9 1400 1785.6 1401.5 1785M1379.7 1786.8C1381.8 1783.8 1386 1783.8 1390.6 1783.2C1395.1 1782.6 1403.3 1780.2 1406.9 1783.2C1410.6 1786.2 1411.2 1795.9 1412.4 1801.4C1413.6 1806.8 1415.1 1811.6 1414.2 1815.9C1413.3 1820.1 1410.6 1824.7 1406.9 1826.8C1403.3 1828.9 1396.6 1829.8 1392.4 1828.6C1388.2 1827.4 1383.9 1824.1 1381.5 1819.5C1379.1 1815 1378.2 1806.8 1377.9 1801.4C1377.6 1795.9 1377.6 1789.9 1379.7 1786.8Z" stroke-width="2.7"/>
<ellipse cx="1405.1" cy="1814.1" rx="8" ry="12.7" transform="rotate(0 1405.1 1814.1)" fill="none" stroke="#000" stroke-width="2.7"/>
<path d="M1390.6 1795.9L1390.6 1823.1M1210.8 1588.9L1338.6 1744M1359.7 1754.1C1357.3 1753.5 1349.7 1750.2 1345.2 1750.5C1340.6 1750.8 1335.2 1753.5 1332.5 1756C1329.7 1758.4 1329.1 1761.7 1328.8 1765C1328.5 1768.4 1329.1 1773.5 1330.7 1775.9C1332.2 1778.4 1334.9 1779.1 1337.9 1779.6C1340.9 1780 1347 1779 1348.8 1778.8M1334.3 1765C1336.1 1764.4 1341.5 1762 1345.2 1761.4C1348.8 1760.8 1353.1 1760.8 1356.1 1761.4C1359.1 1762 1362.1 1764.4 1363.3 1765M1337.9 1771.6L1348.8 1769.4L1348.8 1779.6M1120 1596.2L1287.8 1708.7M1120 1634.3L1312.5 1756M1156.3 1703.3L1290.7 1777.7M1120 1714.2L1181.7 1679.7M1202.8 1783.2L1218.1 1736L1229 1723.3L1245.3 1722.2M1248.9 1734.2L1239.9 1748.7M1217.3 1801.4C1217.5 1795.9 1216.1 1776.2 1218.1 1768.7C1220 1761.1 1224.7 1757.5 1229 1756C1233.2 1754.4 1239.9 1756.3 1243.5 1759.6C1247.1 1762.9 1249.5 1766.9 1250.8 1775.9C1252 1785 1250.8 1807.7 1250.8 1814.1M1263.5 1768.7C1263.8 1773.5 1264.1 1792.3 1265.3 1797.7C1266.5 1803.2 1266.5 1804.4 1270.7 1801.4C1275 1798.3 1285 1783.5 1290.7 1779.6C1296.5 1775.6 1304 1781.7 1305.2 1777.7C1306.4 1773.8 1299.2 1759.6 1298 1756M1276.2 1828.6C1279.8 1823.5 1291.9 1803.5 1298 1797.7C1304 1792 1308.6 1791.7 1312.5 1794.1C1316.4 1796.5 1321 1804.6 1321.6 1812.3C1322.2 1819.9 1317 1835.3 1316.1 1839.9M1120 1757.8L1239.9 1839.9M1120 1786.8L1198.1 1839.9" stroke-width="2.7"/>
<circle cx="1127.3" cy="1783.2" r="2.8" fill="#000"/>
<circle cx="1138.2" cy="1777.7" r="2.8" fill="#000"/>
<circle cx="1154.5" cy="1792.3" r="2.8" fill="#000"/>
<circle cx="1156.3" cy="1805" r="2.8" fill="#000"/>
<circle cx="1174.5" cy="1810.4" r="2.8" fill="#000"/>
<circle cx="1183.6" cy="1823.1" r="2.8" fill="#000"/>
<circle cx="1194.5" cy="1814.1" r="2.8" fill="#000"/>
<circle cx="1203.5" cy="1830.4" r="2.8" fill="#000"/>
<circle cx="1216.2" cy="1828.6" r="2.8" fill="#000"/>
<path d="M1136.3 1805L1136.3 1839.9M1506.1 1775.2L1506.1 1839.9M1421.5 1839.9C1421.8 1837.1 1421.5 1827.1 1423.3 1823.1C1425.1 1819.2 1428.7 1816.5 1432.3 1815.9C1436 1815.3 1442 1817.1 1445.1 1819.5C1448.1 1821.9 1449.6 1828.6 1450.5 1830.4M1450.5 1830.4C1452.3 1829.8 1457.5 1828.3 1461.4 1826.8C1465.3 1825.3 1471.4 1819.2 1474.1 1821.3C1476.8 1823.5 1477.1 1836.8 1477.7 1839.9M1436 1839.9C1436.6 1838 1437.8 1829.9 1439.6 1828.6C1441.4 1827.3 1445.7 1831.6 1446.9 1832.2M1641.9 1490.8L1641.9 1533.3" stroke-width="2.7"/>
</g>
<clipPath id="c235"><rect x="1560" y="1000" width="800" height="560"/></clipPath>
<rect x="1560" y="1000" width="800" height="560" fill="#fff" stroke="none"/>
<g clip-path="url(#c235)">
<path d="M1951.3 1237.3C1966.8 1244.1 2011.4 1265.1 2044.3 1278.5C2077.1 1291.8 2131 1310.7 2148.4 1317.2M2148.4 1317.2L2172.6 1334.1M2158.1 1323.5L2188.1 1295.4M1924.2 1256.7C1940.1 1263.9 1987.9 1287.3 2020 1300.2C2052.2 1313.2 2098.7 1327.3 2116.9 1334.1C2135.1 1341 2126.4 1338.2 2129 1341.4C2131.6 1344.6 2132.8 1348.3 2132.4 1353.5C2132 1358.8 2146.9 1338.5 2126.6 1372.9C2106.2 1407.3 2029.7 1528.7 2010.4 1559.8M2172.6 1334.1C2159.4 1354.5 2115.4 1418.6 2093.7 1456.2C2071.9 1493.8 2050.5 1542.5 2041.8 1559.8M2184.7 1391.3L2090.3 1559.8" stroke-width="2.7"/>
<ellipse cx="1821.5" cy="1446.5" rx="9.7" ry="18.4" transform="rotate(-30 1821.5 1446.5)" fill="none" stroke="#000" stroke-width="2.7"/>
<path d="M1774 1484.3L1823.9 1450.4" stroke-width="2.7"/>
<ellipse cx="1748.4" cy="1513.3" rx="23.2" ry="33.9" transform="rotate(-30 1748.4 1513.3)" fill="none" stroke="#000" stroke-width="2.7"/>
<ellipse cx="1736.8" cy="1510.9" rx="23.2" ry="33.9" transform="rotate(-30 1736.8 1510.9)" fill="#fff" stroke="#000" stroke-width="2.7"/>
<circle cx="1723.7" cy="1493.5" r="2.8" fill="#000"/>
<circle cx="1734.3" cy="1500.2" r="2.8" fill="#000"/>
<circle cx="1721.3" cy="1505.6" r="2.8" fill="#000"/>
<circle cx="1731.4" cy="1513.3" r="2.8" fill="#000"/>
<circle cx="1729" cy="1524.9" r="2.8" fill="#000"/>
<circle cx="1742.1" cy="1531.7" r="2.8" fill="#000"/>
<circle cx="1755.2" cy="1539.5" r="2.8" fill="#000"/>
<circle cx="1744.5" cy="1497.8" r="2.8" fill="#000"/>
<ellipse cx="1749.8" cy="1521.1" rx="11.6" ry="6.3" transform="rotate(30 1749.8 1521.1)" fill="none" stroke="#000" stroke-width="2.7"/>
<ellipse cx="1752.3" cy="1527.8" rx="11.6" ry="6.3" transform="rotate(30 1752.3 1527.8)" fill="none" stroke="#000" stroke-width="2.7"/>
<path d="M1754.7 1552.1L1754.7 1559.8M1606.5 1416.5C1608.7 1421.3 1616 1436.3 1619.6 1445.5C1623.1 1454.7 1625 1465.5 1627.8 1471.7C1630.6 1477.8 1633.5 1480.4 1636.5 1482.3C1639.5 1484.3 1643.3 1485.1 1645.7 1483.3C1648.1 1481.5 1651 1478.8 1651 1471.7C1651 1464.6 1649.2 1449.9 1645.7 1440.7C1642.2 1431.5 1632.8 1420.5 1630.2 1416.5M1624.9 1422.3C1626.8 1426.2 1633.8 1437.3 1636.5 1445.5C1639.3 1453.8 1640.9 1466 1641.4 1471.7C1641.8 1477.3 1639.7 1478.1 1639.4 1479.4M1640.9 1491.5L1640.9 1532.7M1846.7 1419.9C1849.3 1429 1857.6 1457.4 1862.7 1474.6C1867.7 1491.8 1871.9 1508.8 1877.2 1523C1882.4 1537.2 1891.3 1553.7 1894.1 1559.8M1827.3 1419.9C1830.4 1429 1838.6 1456.6 1845.7 1474.6C1852.8 1492.6 1862.7 1513.6 1869.9 1527.8C1877.2 1542.1 1886.1 1554.5 1889.3 1559.8M1780.3 1406.8C1785.6 1411.6 1800.1 1419.7 1811.8 1435.8C1823.5 1452 1839.3 1484.7 1850.6 1503.6C1861.9 1522.6 1874.8 1542 1879.6 1549.6M1768.2 1416.5C1773.9 1422.1 1791.6 1437.4 1802.1 1450.4C1812.6 1463.3 1819.9 1475.7 1831.2 1493.9C1842.5 1512.2 1863.5 1548.8 1869.9 1559.8" stroke-width="2.7"/>
</g>
<clipPath id="c255"><rect x="1720" y="1560" width="640" height="448"/></clipPath>
<rect x="1720" y="1560" width="640" height="448" fill="#fff" stroke="none"/>
<g clip-path="url(#c255)">
<path d="M1754.9 1560L1754.9 1594.9M1875 1560C1876.3 1561.6 1879.2 1568.4 1882.7 1569.7C1886.3 1571 1893.7 1569.4 1896.3 1567.7C1898.9 1566.1 1897.9 1561.3 1898.2 1560M2009.8 1560C1999.5 1577.4 1966.8 1629.9 1947.8 1664.6C1928.7 1699.3 1911.2 1732.3 1895.5 1768.4C1879.8 1804.6 1862.2 1859.8 1853.7 1881.5C1845.1 1903.3 1847.5 1894.9 1844 1899C1840.4 1903.1 1839.5 1904.8 1832.3 1906C1825.2 1907.1 1820.1 1908.4 1801.4 1906C1782.6 1903.5 1733.6 1893.7 1720 1891.2M2039.6 1560C2028.2 1577.4 1991.7 1629.9 1971 1664.6C1950.4 1699.3 1934.9 1724.8 1915.6 1768.4C1896.4 1812 1865.6 1899.8 1855.6 1926.1M2092.7 1560C2082.2 1581.3 2048.1 1649.1 2029.9 1687.8C2011.7 1726.6 1995.4 1763.4 1983.4 1792.4C1971.5 1821.5 1964.1 1842.5 1958.3 1862.2C1952.4 1881.9 1950.2 1902.5 1948.6 1910.6M2044.6 1671.6L2053.9 1848.6M2186.1 1767.3C2164 1780.8 2086.4 1828.9 2053.9 1848.6C2021.5 1868.3 2008.7 1875.1 1991.2 1885.4C1973.6 1895.8 1955.7 1906.4 1948.6 1910.6M1948.6 1910.6C1945.3 1912.5 1938.2 1919 1929.2 1922.2C1920.2 1925.5 1913.1 1927.8 1894.3 1930C1875.6 1932.1 1845.9 1936.3 1816.9 1935C1787.8 1933.7 1736.1 1924.4 1720 1922.2M1948.6 1910.6C1951.8 1918.7 1962.8 1942.8 1967.9 1959C1973.1 1975.2 1977.6 1999.7 1979.6 2007.8M2186.1 1896.3L2004.7 2007.8M1820 1935.8L1749.1 2007.8M1720 1955.2L1768.4 1981.5" stroke-width="2.7"/>
<ellipse cx="1818.8" cy="1990" rx="17.4" ry="18.6" transform="rotate(0 1818.8 1990)" fill="none" stroke="#000" stroke-width="2.7"/>
<ellipse cx="1823.8" cy="1992" rx="9.7" ry="11.6" transform="rotate(0 1823.8 1992)" fill="none" stroke="#000" stroke-width="2.7"/>
<path d="M1832.3 1984.2L1869.2 1999.7M1828.5 2001.6L1855.6 2007.8" stroke-width="2.7"/>
</g>
<clipPath id="c263"><rect x="520" y="1700" width="600" height="420"/></clipPath>
<rect x="520" y="1700" width="600" height="420" fill="#fff" stroke="none"/>
<g clip-path="url(#c263)">
<path d="M614.4 1962.2L641.7 1930.6L725.2 1930.6L752.4 1899L779.7 1930.6L865 1930.6L892.3 1962.2M834.2 1948.8L834.2 2045.8M686 1986.9L686 2037.8M998.7 2070.5L1053.9 2070.5M1026.7 1931.4L1092 1931.4M687.1 1700C687.7 1707.3 688.3 1728.5 690.7 1743.6C693.1 1758.7 696.2 1777.8 701.6 1790.8C707 1803.8 719.8 1816.5 723.4 1821.7M645.3 1703.6C648.6 1709.1 659.5 1723 665.3 1736.3C671 1749.6 674.7 1766.6 679.8 1783.5C685 1800.5 693.4 1828.9 696.2 1838M747 1700C748.8 1704.2 756.4 1714.5 757.9 1725.4C759.4 1736.3 755.8 1753.3 756.1 1765.4C756.4 1777.5 759.1 1792.6 759.7 1798.1M756.1 1727.2C765.2 1734.8 795.4 1759.6 810.6 1772.6C825.7 1785.7 837.2 1794.4 846.9 1805.3C856.6 1816.2 862.6 1828.9 868.7 1838C874.7 1847.1 877.7 1852.5 883.2 1859.8C888.6 1867.1 895.6 1876.2 901.4 1881.6C907.1 1887 915 1890.7 917.7 1892.5M752.4 1700L832.3 1767.2M776.1 1700L777.9 1714.5M832.3 1767.2L859.6 1738.1L870.5 1749L872.3 1759.9L890.5 1770.8L901.4 1785.4L903.2 1809L914.1 1816.2L944.9 1838M786.9 1700C787.3 1703 786 1713.3 788.8 1718.2C791.5 1723 798.1 1726 803.3 1729.1C808.4 1732.1 815.7 1735.7 819.6 1736.3C823.6 1736.9 825.7 1738 826.9 1732.7C828.1 1727.4 826.9 1709.1 826.9 1704.4M826.9 1704.4L1032.1 1787.2M819.6 1747.2C821.8 1746.9 829.3 1747.2 832.3 1745.4C835.4 1743.6 836.6 1739.6 837.8 1736.3C839 1733 839.3 1727.2 839.6 1725.4M839.6 1724.7C852.9 1730.3 889.2 1745.6 919.5 1758.1C949.8 1770.6 987.8 1785.7 1021.2 1799.9C1054.6 1814.1 1103.5 1836.2 1120 1843.5M910.4 1798.1L992.2 1790.8M910.4 1798.1L919.5 1812.6L1012.1 1859.8L1032.1 1868.9L1032.1 1879.8M899.5 1700L935.9 1754.5M934 1705.4C940.7 1713.6 961.3 1742.4 974 1754.5C986.7 1766.6 1000.6 1772.6 1010.3 1778.1C1020 1783.5 1028.5 1785.7 1032.1 1787.2M1032.1 1787.2L1048.5 1789L1057.5 1769M1021.2 1799.9L1043 1789M970.4 1700L1120 1785.4M1028.5 1700L1120 1743.6" stroke-width="2.7"/>
<circle cx="992.2" cy="1705.4" r="2.8" fill="#000"/>
<circle cx="1012.1" cy="1712.7" r="2.8" fill="#000"/>
<circle cx="1023" cy="1725.4" r="2.8" fill="#000"/>
<circle cx="1033.9" cy="1720" r="2.8" fill="#000"/>
<circle cx="1043" cy="1734.5" r="2.8" fill="#000"/>
<circle cx="1055.7" cy="1730.9" r="2.8" fill="#000"/>
<circle cx="1070.2" cy="1747.2" r="2.8" fill="#000"/>
<circle cx="1079.3" cy="1738.1" r="2.8" fill="#000"/>
<circle cx="1084.8" cy="1754.5" r="2.8" fill="#000"/>
<circle cx="1097.5" cy="1767.2" r="2.8" fill="#000"/>
<circle cx="1101.1" cy="1754.5" r="2.8" fill="#000"/>
<circle cx="1113.8" cy="1769" r="2.8" fill="#000"/>
<path d="M1097.5 1721.8C1099.3 1721.5 1104.6 1721.2 1108.4 1720C1112.1 1718.8 1118.1 1715.4 1120 1714.5M1053.9 1793.7L1120 1825.3M1081.1 1827.1L1095.7 1818L1120 1830.8M1097.5 1841.6L1120 1830.8M968.5 1828.9L992.2 1803.5M1004.9 1809L1013.9 1859.8M974 1852.5L983.1 1845.3M1003.1 1865.3L1010.3 1863.4M952.2 1896.1C949.8 1899.8 940.7 1909.4 937.7 1917.9C934.6 1926.4 933.4 1938.5 934 1947C934.6 1955.4 936.5 1961.5 941.3 1968.8C946.2 1976 958.3 1985.1 963.1 1990.6C967.9 1996 968.5 1998.7 970.4 2001.5C972.2 2004.2 973.4 2006 974 2006.9M974 2006.9C974.6 2005.4 974.6 1999.6 977.6 1997.8C980.7 1996 986.1 1998.4 992.2 1996C998.2 1993.6 1007.9 1987.5 1013.9 1983.3C1020 1979.1 1027 1975.4 1028.5 1970.6C1030 1965.7 1023.9 1957 1023 1954.2M952.2 1896.1L955.8 1908.8L1023 1959.7M952.2 1896.1L970.4 1907L988.5 1914.3L992.2 1921.5L1012.1 1932.4L1026.7 1936.1L1024.8 1950.6" stroke-width="2.7"/>
<ellipse cx="979.4" cy="1917.2" rx="2.9" ry="3.6" transform="rotate(0 979.4 1917.2)" fill="none" stroke="#000" stroke-width="2.7"/>
<ellipse cx="1019.4" cy="1930.6" rx="2.9" ry="3.6" transform="rotate(0 1019.4 1930.6)" fill="none" stroke="#000" stroke-width="2.7"/>
<path d="M943.1 1914.3L1021.2 1966.9" stroke-width="4"/>
<path d="M1053.9 1941.5L1120 1979.7M1053.9 1996L1120 2036M719 2025.1C719.8 2024.2 720.2 2020.2 723.4 2019.6C726.5 2019 735.5 2021.1 737.9 2021.4M737.9 2021.4L743.4 2011.6L752.4 2011.6L781.5 2028.7L821.5 2050.5L823.3 2066.8M719 2025.1L721.6 2048.7L730.7 2063.2L745.2 2070.5" stroke-width="2.7"/>
<ellipse cx="727.7" cy="2038.5" rx="5.1" ry="7.3" transform="rotate(0 727.7 2038.5)" fill="none" stroke="#000" stroke-width="2.7"/>
<path d="M740.5 2019.6L740.5 2028.7" stroke-width="2.7"/>
<ellipse cx="747" cy="2021.4" rx="6.5" ry="3.6" transform="rotate(0 747 2021.4)" fill="none" stroke="#000" stroke-width="2.7"/>
<path d="M753.5 2021.4L753.5 2030.5M759.7 2019.6L763.3 2057.7M776.1 2043.2L790.6 2036M767 2059.6L774.2 2045L796 2063.2L797.8 2075.9L810.6 2103.1" stroke-width="2.7"/>
<ellipse cx="779.7" cy="2068.6" rx="5.1" ry="7.3" transform="rotate(0 779.7 2068.6)" fill="none" stroke="#000" stroke-width="2.7"/>
<path d="M796 2063.2L821.5 2050.5M821.5 2074.1L837.8 2061.4L865 2077.7L865 2119.9M821.5 2074.1L843.2 2090.4L865 2077.7M843.2 2090.4L843.2 2119.9M821.5 2074.1L816 2085L803.3 2099.5M826.9 2094.1C828.1 2094.4 833 2094.1 834.2 2095.9C835.4 2097.7 835.1 2103.1 834.2 2105C833.3 2106.8 829.6 2106.5 828.7 2106.8M737.2 2050.5L763.3 2059.6M737.2 2054.1L774.2 2092.3M774.2 2092.3C775.4 2092.6 778.8 2091.6 781.5 2094.1C784.2 2096.5 788.2 2102.5 790.6 2106.8C793 2111.1 795.1 2117.7 796 2119.9" stroke-width="2.7"/>
<ellipse cx="788" cy="2095.9" rx="2.9" ry="5.1" transform="rotate(0 788 2095.9)" fill="none" stroke="#000" stroke-width="2.7"/>
<path d="M808.7 2114L821.5 2108.6M701.6 2070.5C703.4 2072.9 706.4 2080.8 712.5 2085C718.5 2089.2 730 2094.7 737.9 2095.9C745.8 2097.1 754.3 2094.1 759.7 2092.3C765.2 2090.4 768.8 2086.2 770.6 2085M657.3 2045C658.5 2040.8 660.3 2039 663.5 2037.8C666.6 2036.6 672.8 2036.6 676.2 2037.8C679.5 2039 681.9 2040.8 683.4 2045C685 2049.3 685.6 2057.7 685.3 2063.2C685 2068.6 684 2074.7 681.6 2077.7C679.2 2080.8 674.4 2081.7 670.7 2081.4C667.1 2081.1 662.3 2078.9 659.8 2075.9C657.4 2072.9 656.6 2068.3 656.2 2063.2C655.8 2058.1 656.1 2049.3 657.3 2045ZM676.2 2054.1C677.1 2053.2 679.5 2049.3 681.6 2048.7C683.7 2048.1 687.1 2048.7 688.9 2050.5C690.7 2052.3 692.2 2055 692.5 2059.6C692.8 2064.1 691.9 2073.8 690.7 2077.7C689.5 2081.7 687.1 2082.6 685.3 2083.2C683.4 2083.8 680.7 2081.7 679.8 2081.4M692.5 2059.6C693.4 2059.3 696.5 2057.1 698 2057.7C699.5 2058.4 701 2059.9 701.6 2063.2C702.2 2066.5 702.5 2074.4 701.6 2077.7C700.7 2081.1 697.1 2082.3 696.2 2083.2M952.2 2057.7L961.3 2048.7L977.6 2045L990.3 2054.1L994 2066.8L988.5 2079.5L974 2085L961.3 2081.4Z" stroke-width="2.7"/>
<ellipse cx="963.8" cy="2066.8" rx="10.2" ry="18.9" transform="rotate(15 963.8 2066.8)" fill="none" stroke="#000" stroke-width="2.7"/>
<path d="M923.1 2085L954 2063.2M930.4 2101.3L961.3 2081.4M923.1 2085C922.2 2086.5 916.5 2091.3 917.7 2094.1C918.9 2096.8 928.3 2100.1 930.4 2101.3M930.4 2080.6C931 2082 932.8 2086 934 2088.6C935.3 2091.3 937.1 2095.3 937.7 2096.6M937.7 2075.2C938.3 2076.5 940.1 2080.4 941.3 2083.2C942.5 2085.9 944.3 2090.1 944.9 2091.5M944.9 2069.7C945.5 2071.1 947.4 2074.9 948.6 2077.7C949.8 2080.5 951.6 2085 952.2 2086.4M879.6 2119.9L921.3 2096.6M520 2021.4L690.7 2114M520 2032.3L672.5 2119.9M520 2041.4L658 2119.9" stroke-width="2.7"/>
<circle cx="594.7" cy="2068.2" r="2.8" fill="#000"/>
<circle cx="606" cy="2074.5" r="2.8" fill="#000"/>
<circle cx="617.4" cy="2080.9" r="2.8" fill="#000"/>
<circle cx="628.7" cy="2087.3" r="2.8" fill="#000"/>
<circle cx="640.1" cy="2093.6" r="2.8" fill="#000"/>
<circle cx="651.4" cy="2100" r="2.8" fill="#000"/>
<circle cx="662.8" cy="2106.3" r="2.8" fill="#000"/>
<circle cx="674.1" cy="2112.7" r="2.8" fill="#000"/>
<circle cx="597.3" cy="2080.4" r="2.8" fill="#000"/>
<circle cx="606.6" cy="2085.9" r="2.8" fill="#000"/>
<circle cx="616" cy="2091.3" r="2.8" fill="#000"/>
<circle cx="625.3" cy="2096.8" r="2.8" fill="#000"/>
<circle cx="634.7" cy="2102.2" r="2.8" fill="#000"/>
<circle cx="644" cy="2107.7" r="2.8" fill="#000"/>
<circle cx="653.3" cy="2113.1" r="2.8" fill="#000"/>
<path d="M534.5 2097.7L567.2 2079.5M558.1 2092.3L589 2108.6L587.2 2119.9" stroke-width="2.7"/>
</g>
<clipPath id="c311"><rect x="100" y="1640" width="600" height="420"/></clipPath>
<rect x="100" y="1640" width="600" height="420" fill="#fff" stroke="none"/>
<g clip-path="url(#c311)">
<path d="M420.3 1699.9L496.6 1744.6M523.1 1640L446.9 1705.4M432.3 1718.1C419.3 1731.1 376.5 1772.6 354.2 1796.2C332 1819.8 308.2 1849.1 299 1859.7M561.3 1640L468.6 1719.2M455.9 1732.6C445 1743.8 410.2 1778.6 390.6 1799.8C370.9 1821 352.4 1842.8 337.9 1859.7C323.4 1876.7 311.6 1891.2 303.4 1901.5C295.2 1911.8 291.3 1918.1 288.9 1921.5M299 1859.7C294.9 1866.7 282.1 1883.6 274.3 1901.5C266.6 1919.4 259.2 1945.7 252.5 1966.9C245.9 1988.1 239.8 2013.1 234.4 2028.6C228.9 2044.1 222.3 2054.6 219.9 2059.9M292.5 1872.4C291.6 1876.1 287.8 1885.8 287 1894.2C286.3 1902.7 285.4 1911.2 288.1 1923.3C290.9 1935.4 297.2 1949.9 303.4 1966.9C309.6 1983.8 318.8 2009.5 325.2 2025C331.5 2040.5 338.8 2054 341.5 2059.9M236.2 2028.6C235.9 2031 233.8 2037.9 234.4 2043.1C235 2048.4 238.9 2057.1 239.8 2059.9M630.3 1640C620.6 1647.9 593.9 1669.7 572.2 1687.2C550.4 1704.8 517.7 1729.6 499.5 1745.3C481.4 1761.1 474.1 1768.9 463.2 1781.6C452.3 1794.4 441.1 1808.9 434.1 1821.6C427.2 1834.3 424.2 1844.6 421.4 1857.9C418.7 1871.2 417.5 1888.2 417.8 1901.5C418.1 1914.8 418.7 1925.1 423.2 1937.8C427.8 1950.5 436.6 1965.7 445 1977.8C453.5 1989.9 462 2000.2 474.1 2010.5C486.2 2020.8 504.4 2031.3 517.7 2039.5C531 2047.7 547.9 2056.5 554 2059.9M644.8 1640C634.5 1649.1 605.4 1675.7 583.1 1694.5C560.7 1713.2 528.6 1737.5 510.4 1752.6C492.3 1767.7 485 1773.8 474.1 1785.3C463.2 1796.8 452.2 1809.5 445 1821.6C437.9 1833.7 434.3 1844.6 431.2 1857.9C428.2 1871.2 426.7 1888.8 426.9 1901.5C427.1 1914.2 428.4 1923.3 432.3 1934.2C436.3 1945.1 442.3 1955.4 450.5 1966.9C458.7 1978.4 468.9 1992.3 481.4 2003.2C493.8 2014.1 509.8 2023.2 524.9 2032.3C540.1 2041.3 564.3 2053.4 572.2 2057.7M666.6 1640C656.9 1647.9 630.3 1669.7 608.5 1687.2C586.7 1704.8 555.8 1729 535.8 1745.3C515.9 1761.7 501.9 1772.6 488.6 1785.3C475.3 1798 463.8 1809.5 455.9 1821.6C448.1 1833.7 444.9 1844.6 441.4 1857.9C437.9 1871.2 435.2 1889.4 434.9 1901.5C434.6 1913.6 435.8 1920.3 439.6 1930.6C443.4 1940.8 449 1951.7 457.7 1963.2C466.5 1974.7 479.2 1988.7 492.3 1999.6C505.3 2010.5 520.1 2019.5 535.8 2028.6C551.6 2037.7 578.2 2049.8 586.7 2054" stroke-width="2.7"/>
<circle cx="629.1" cy="1647.1" r="2.8" fill="#000"/>
<circle cx="612.3" cy="1661.4" r="2.8" fill="#000"/>
<circle cx="595.5" cy="1675.7" r="2.8" fill="#000"/>
<circle cx="578.6" cy="1690" r="2.8" fill="#000"/>
<circle cx="561.4" cy="1703.8" r="2.8" fill="#000"/>
<circle cx="544.2" cy="1717.6" r="2.8" fill="#000"/>
<circle cx="527" cy="1731.4" r="2.8" fill="#000"/>
<circle cx="509.7" cy="1745.1" r="2.8" fill="#000"/>
<circle cx="493.4" cy="1759.9" r="2.8" fill="#000"/>
<circle cx="477.4" cy="1775.1" r="2.8" fill="#000"/>
<circle cx="462.6" cy="1791.4" r="2.8" fill="#000"/>
<circle cx="449.2" cy="1809" r="2.8" fill="#000"/>
<circle cx="437.4" cy="1827.4" r="2.8" fill="#000"/>
<circle cx="429.8" cy="1848.1" r="2.8" fill="#000"/>
<circle cx="425.2" cy="1869.5" r="2.8" fill="#000"/>
<circle cx="423.4" cy="1891.5" r="2.8" fill="#000"/>
<circle cx="424.3" cy="1913.4" r="2.8" fill="#000"/>
<circle cx="427.5" cy="1935.2" r="2.8" fill="#000"/>
<circle cx="437.8" cy="1954.6" r="2.8" fill="#000"/>
<circle cx="448.8" cy="1973.7" r="2.8" fill="#000"/>
<circle cx="463.3" cy="1990.4" r="2.8" fill="#000"/>
<circle cx="477.9" cy="2006.9" r="2.8" fill="#000"/>
<circle cx="496.2" cy="2019.2" r="2.8" fill="#000"/>
<circle cx="514.6" cy="2031.4" r="2.8" fill="#000"/>
<circle cx="533.7" cy="2042.4" r="2.8" fill="#000"/>
<circle cx="553.3" cy="2052.6" r="2.8" fill="#000"/>
<circle cx="646.8" cy="1647.5" r="2.8" fill="#000"/>
<circle cx="629" cy="1662.6" r="2.8" fill="#000"/>
<circle cx="611.3" cy="1677.7" r="2.8" fill="#000"/>
<circle cx="593.4" cy="1692.7" r="2.8" fill="#000"/>
<circle cx="575.2" cy="1707.3" r="2.8" fill="#000"/>
<circle cx="557" cy="1721.8" r="2.8" fill="#000"/>
<circle cx="538.8" cy="1736.4" r="2.8" fill="#000"/>
<circle cx="520.7" cy="1751.1" r="2.8" fill="#000"/>
<circle cx="503.1" cy="1766.3" r="2.8" fill="#000"/>
<circle cx="485.5" cy="1781.6" r="2.8" fill="#000"/>
<circle cx="469.8" cy="1798.8" r="2.8" fill="#000"/>
<circle cx="454.8" cy="1816.6" r="2.8" fill="#000"/>
<circle cx="444.4" cy="1837.2" r="2.8" fill="#000"/>
<circle cx="436.2" cy="1858.9" r="2.8" fill="#000"/>
<circle cx="433.3" cy="1882.1" r="2.8" fill="#000"/>
<circle cx="431.5" cy="1905.2" r="2.8" fill="#000"/>
<circle cx="435.3" cy="1928.2" r="2.8" fill="#000"/>
<circle cx="445.2" cy="1949" r="2.8" fill="#000"/>
<circle cx="457.4" cy="1968.8" r="2.8" fill="#000"/>
<circle cx="473" cy="1986.1" r="2.8" fill="#000"/>
<circle cx="489.1" cy="2002.9" r="2.8" fill="#000"/>
<circle cx="508.5" cy="2015.8" r="2.8" fill="#000"/>
<circle cx="527.9" cy="2028.8" r="2.8" fill="#000"/>
<circle cx="548.4" cy="2039.8" r="2.8" fill="#000"/>
<circle cx="569.1" cy="2050.5" r="2.8" fill="#000"/>
<path d="M652.1 1658.2L643 1705.4L661.1 1725.4M661.1 1725.4C663.9 1731.7 672.9 1750.5 677.5 1763.5C682 1776.5 684.7 1790.7 688.4 1803.4C692 1816.2 697.5 1833.7 699.3 1839.8M663 1660L693.8 1696.3L686.6 1705.4L688.4 1749L700 1785.3M633.9 1705.4C626.6 1710.8 598.8 1729 590.3 1738.1C581.8 1747.1 583.1 1752 583.1 1759.9C583.1 1767.7 584.9 1773.8 590.3 1785.3C595.8 1796.8 607 1814.8 615.7 1828.9C624.5 1842.9 638.4 1862.8 643 1869.5M465 1839.8L477.7 1827L495.9 1818L541.3 1779.8M495.9 1818L459.6 1934.2M541.3 1779.8C541.3 1781.9 539.2 1787.7 541.3 1792.5C543.4 1797.4 549.2 1806.5 554 1808.9C558.8 1811.3 567.6 1807.4 570.3 1807.1M554 1808.9L485 1965.1M570.3 1807.1L620.1 1882.6M336.1 1863.4L376 1843.4L382.6 1846.3L379.7 1854.3L348.8 1872.4L347 1906.9M383.3 1847.7L403.3 1849.9L408.7 1857.9M408.7 1857.9C406.9 1864 399.6 1882.1 397.8 1894.2C396 1906.3 395.4 1919.1 397.8 1930.6C400.2 1942.1 409.9 1957.8 412.3 1963.2M305.2 1916L314.3 1916.8L347 1908L370.6 1896.1L377.8 1895.3L385.1 1902.2L379.7 1912.4L354.2 1926.9L350.6 1941.5L337.9 1934.2L337.9 1917.8M322.3 1916.8L350.6 1979.6L372.4 2025M354.2 1928.7L374.2 1979.6M359.7 1930.6L386.9 1976M374.2 1986.9L410.5 1964L421.4 1970.5L416 1981.4L390.6 1997.7L386.9 2010.5L374.2 2003.2ZM392.4 2010.5C394.5 2014.1 401.8 2024 405.1 2032.3C408.4 2040.5 411.1 2055.3 412.3 2059.9M399.6 1997.7L426.9 2032.3M426.9 2032.3L441.4 2028.6L457.7 2027.9L477.7 2046.8L479.5 2059.9M432.3 2059.9C432.6 2056.5 432.6 2043.2 434.1 2039.5C435.7 2035.8 437.2 2035.9 441.4 2037.7C445.6 2039.5 456.2 2046.7 459.6 2050.4C462.9 2054.1 461.1 2058.3 461.4 2059.9M615 1962.5L641.9 1931.3L700 1931.3M685.5 1996.7L685.5 2037.7M655.7 2059.9C656.3 2057.1 657.5 2046.8 659.3 2043.1C661.1 2039.5 663 2038 666.6 2037.7C670.2 2037.4 675.5 2038.9 681.1 2041.3C686.7 2043.8 696.9 2050.4 700 2052.2" stroke-width="2.7"/>
</g>
<clipPath id="c368"><rect x="700" y="2120" width="600" height="420"/></clipPath>
<rect x="700" y="2120" width="600" height="420" fill="#fff" stroke="none"/>
<g clip-path="url(#c368)">
<path d="M1013.1 2149.1L1063.2 2149.1M1103.9 2229L1123.1 2229M975.3 2140L1001.5 2130.2L1006.9 2132.7L1006.9 2169L990.6 2174.5L975.3 2174.5ZM980.4 2141.1L980.4 2172.7M990.6 2141.8C990 2144.2 986.6 2151.5 986.9 2156.3C987.2 2161.2 992.1 2166.3 992.4 2170.8C992.7 2175.4 989.3 2181.4 988.7 2183.6M1001.5 2130.2L992.4 2140M1063.2 2216.2C1064.4 2214.7 1067.7 2208.8 1070.5 2207.2C1073.2 2205.5 1075 2204.9 1079.5 2206.4C1084.1 2208 1094.7 2212.5 1097.7 2216.2C1100.7 2220 1099.2 2224.7 1097.7 2229C1096.2 2233.2 1091.9 2238.9 1088.6 2241.7C1085.3 2244.4 1079.5 2244.7 1077.7 2245.3" stroke-width="2.7"/>
<ellipse cx="1086.8" cy="2227.1" rx="8" ry="15.3" transform="rotate(25 1086.8 2227.1)" fill="none" stroke="#000" stroke-width="2.7"/>
<path d="M1050.5 2213.7L1077.7 2225.3M1063.2 2232.6L1050.5 2239.1L1066.8 2247.8L1077.7 2239.9M700 2129.1L732.7 2145.4M703.6 2141.8L725.4 2152.7M736.3 2156.3L810.8 2120M736.3 2156.3L738.1 2196.3L716.3 2209M758.1 2187.2L818 2156.3L818 2147.2M758.1 2187.2L758.1 2227.1M818 2156.3L818 2169L838 2160L845.3 2154.5L845.3 2120M867.1 2120L865.3 2145.4L819.9 2169" stroke-width="2.7"/>
<ellipse cx="815.5" cy="2129.1" rx="2.9" ry="5.1" transform="rotate(0 815.5 2129.1)" fill="none" stroke="#000" stroke-width="2.7"/>
<path d="M787.2 2136.3C786.9 2137.9 784.4 2143 785.4 2145.4C786.3 2147.8 791.4 2150 792.6 2150.9M810.8 2147.2C812 2147.5 816.8 2147.5 818 2149.1C819.2 2150.6 818 2155.1 818 2156.3M743.6 2167.2L754.5 2179.9M750.8 2161.8L763.6 2174.5M700 2207.2L707.3 2212.6M865.3 2160L865.3 2179.9L897.9 2192.6M865.3 2160C866.2 2159.6 865.3 2156.3 870.7 2158.1C876.2 2160 893.4 2168.7 897.9 2170.8M897.9 2174.5L910.7 2165.4L925.2 2169L925.2 2189L910.7 2198.1L897.9 2192.6Z" stroke-width="2.7"/>
<ellipse cx="907" cy="2181" rx="7.3" ry="8" transform="rotate(0 907 2181)" fill="none" stroke="#000" stroke-width="2.7"/>
<path d="M914.3 2174.5L928.8 2187.2M903.4 2188.3L919.7 2198.1" stroke-width="2.7"/>
<ellipse cx="924.5" cy="2191.9" rx="5.1" ry="6.5" transform="rotate(0 924.5 2191.9)" fill="none" stroke="#000" stroke-width="2.7"/>
<path d="M928.8 2187.2L1008.7 2236.2M927 2198.1L1003.3 2245.3M1008.7 2236.2L1010.5 2243.5L1003.3 2246.4M1014.2 2242.8L1019.6 2245.3M770.8 2192.6L937.9 2288.9M781.7 2185.4L950.6 2280.5M794.4 2179.9L960.8 2275.4" stroke-width="2.7"/>
<circle cx="786.3" cy="2197.3" r="2.8" fill="#000"/>
<circle cx="802.9" cy="2206.5" r="2.8" fill="#000"/>
<circle cx="819.4" cy="2215.8" r="2.8" fill="#000"/>
<circle cx="835.9" cy="2225.1" r="2.8" fill="#000"/>
<circle cx="852.5" cy="2234.3" r="2.8" fill="#000"/>
<circle cx="869" cy="2243.6" r="2.8" fill="#000"/>
<circle cx="885.5" cy="2252.8" r="2.8" fill="#000"/>
<circle cx="902" cy="2262.1" r="2.8" fill="#000"/>
<circle cx="918.6" cy="2271.4" r="2.8" fill="#000"/>
<circle cx="935.1" cy="2280.6" r="2.8" fill="#000"/>
<circle cx="799" cy="2190" r="2.8" fill="#000"/>
<circle cx="815.3" cy="2199.3" r="2.8" fill="#000"/>
<circle cx="831.7" cy="2208.5" r="2.8" fill="#000"/>
<circle cx="848" cy="2217.8" r="2.8" fill="#000"/>
<circle cx="864.3" cy="2227.1" r="2.8" fill="#000"/>
<circle cx="880.7" cy="2236.3" r="2.8" fill="#000"/>
<circle cx="897" cy="2245.6" r="2.8" fill="#000"/>
<circle cx="913.4" cy="2254.8" r="2.8" fill="#000"/>
<circle cx="929.7" cy="2264.1" r="2.8" fill="#000"/>
<circle cx="946.1" cy="2273.4" r="2.8" fill="#000"/>
<path d="M928.8 2303.4L1023.2 2252.6M928.8 2303.4L950.6 2316.1M979.7 2287.1C987.5 2291.3 1009.9 2306.4 1026.9 2312.5C1043.8 2318.5 1063.2 2321.3 1081.4 2323.4C1099.5 2325.5 1117.7 2326.4 1135.8 2325.2C1154 2324 1172.2 2320.1 1190.3 2316.1C1208.5 2312.2 1226.5 2307.3 1244.8 2301.6C1263.1 2295.8 1290.8 2285 1300 2281.6M954.2 2305.2C963.3 2309.5 990.6 2324.6 1008.7 2330.7C1026.9 2336.7 1042 2339.1 1063.2 2341.5C1084.4 2344 1111.6 2346.4 1135.8 2345.2C1160 2344 1187.3 2338.8 1208.5 2334.3C1229.7 2329.7 1247.7 2323.4 1263 2317.9C1278.2 2312.5 1293.8 2304.3 1300 2301.6M950.6 2317.9C960.3 2322.2 990 2337 1008.7 2343.4C1027.5 2349.7 1042 2353.4 1063.2 2356.1C1084.4 2358.8 1111.6 2360.3 1135.8 2359.7C1160 2359.1 1187.3 2356.1 1208.5 2352.4C1229.7 2348.8 1247.7 2343.1 1263 2337.9C1278.2 2332.8 1293.8 2324.3 1300 2321.6" stroke-width="2.7"/>
<circle cx="976.5" cy="2298.2" r="2.8" fill="#000"/>
<circle cx="991.9" cy="2306" r="2.8" fill="#000"/>
<circle cx="1007.3" cy="2313.7" r="2.8" fill="#000"/>
<circle cx="1023.1" cy="2320.4" r="2.8" fill="#000"/>
<circle cx="1039.9" cy="2324.5" r="2.8" fill="#000"/>
<circle cx="1056.7" cy="2328.6" r="2.8" fill="#000"/>
<circle cx="1073.4" cy="2332.5" r="2.8" fill="#000"/>
<circle cx="1090.7" cy="2333.2" r="2.8" fill="#000"/>
<circle cx="1107.9" cy="2333.9" r="2.8" fill="#000"/>
<circle cx="1125.2" cy="2334.6" r="2.8" fill="#000"/>
<circle cx="1142.4" cy="2334" r="2.8" fill="#000"/>
<circle cx="1159.4" cy="2331.4" r="2.8" fill="#000"/>
<circle cx="1176.5" cy="2328.7" r="2.8" fill="#000"/>
<circle cx="1193.5" cy="2326.1" r="2.8" fill="#000"/>
<circle cx="1210.3" cy="2322.1" r="2.8" fill="#000"/>
<circle cx="1226.9" cy="2317.3" r="2.8" fill="#000"/>
<circle cx="1243.5" cy="2312.6" r="2.8" fill="#000"/>
<circle cx="1259.9" cy="2307.2" r="2.8" fill="#000"/>
<circle cx="1275.9" cy="2300.9" r="2.8" fill="#000"/>
<circle cx="1292" cy="2294.6" r="2.8" fill="#000"/>
<circle cx="969.9" cy="2319.9" r="2.8" fill="#000"/>
<circle cx="986.8" cy="2327.4" r="2.8" fill="#000"/>
<circle cx="1003.6" cy="2334.9" r="2.8" fill="#000"/>
<circle cx="1021.3" cy="2339.9" r="2.8" fill="#000"/>
<circle cx="1039.3" cy="2343.7" r="2.8" fill="#000"/>
<circle cx="1057.3" cy="2347.6" r="2.8" fill="#000"/>
<circle cx="1075.6" cy="2349.4" r="2.8" fill="#000"/>
<circle cx="1094.1" cy="2350.4" r="2.8" fill="#000"/>
<circle cx="1112.5" cy="2351.3" r="2.8" fill="#000"/>
<circle cx="1130.9" cy="2352.2" r="2.8" fill="#000"/>
<circle cx="1149.2" cy="2350.8" r="2.8" fill="#000"/>
<circle cx="1167.5" cy="2348.5" r="2.8" fill="#000"/>
<circle cx="1185.8" cy="2346.2" r="2.8" fill="#000"/>
<circle cx="1204.1" cy="2343.9" r="2.8" fill="#000"/>
<circle cx="1222" cy="2339.5" r="2.8" fill="#000"/>
<circle cx="1239.7" cy="2334.4" r="2.8" fill="#000"/>
<circle cx="1257.4" cy="2329.3" r="2.8" fill="#000"/>
<circle cx="1274.6" cy="2322.7" r="2.8" fill="#000"/>
<circle cx="1291.5" cy="2315.4" r="2.8" fill="#000"/>
<path d="M950.6 2337.9C963.3 2340.3 1002.1 2347.6 1026.9 2352.4C1051.7 2357.3 1075.3 2362.7 1099.5 2367C1123.7 2371.2 1151 2375.4 1172.2 2377.9C1193.3 2380.3 1211.5 2382.1 1226.6 2381.5C1241.8 2380.9 1250.7 2378.2 1263 2374.2C1275.2 2370.3 1293.8 2360.6 1300 2357.9M1246.6 2365.2L1300 2334.3M932.4 2403.3C936.1 2399.7 945.8 2386.3 954.2 2381.5C962.7 2376.7 973 2374.8 983.3 2374.2C993.6 2373.6 1010.5 2377.3 1016 2377.9M1016 2377.9L1150.4 2399.7L1186.7 2408.7M1019.6 2356.1C1019 2358.5 1014.8 2366.7 1016 2370.6C1017.2 2374.5 1023.8 2377.9 1026.9 2379.7C1029.9 2381.5 1032.9 2381.2 1034.1 2381.5M1050.5 2361.5C1048.4 2362.4 1040.2 2363.6 1037.8 2367C1035.4 2370.3 1036.3 2379.1 1036 2381.5M1050.5 2368.8L1146.7 2383.3M1146.7 2379.7C1146.4 2381.8 1143.1 2388.5 1144.9 2392.4C1146.7 2396.3 1154.3 2401.2 1157.6 2403.3C1161 2405.4 1163.7 2404.8 1164.9 2405.1M1181.2 2383.3C1179.1 2384.2 1171.2 2385.1 1168.5 2388.8C1165.8 2392.4 1165.5 2402.4 1164.9 2405.1M1172.2 2390.6L1201.2 2394.2M1215.7 2390.6L1159.4 2441.4M914.3 2421.5C917.3 2419.3 924.6 2410.9 932.4 2408.7C940.3 2406.6 956.7 2408.7 961.5 2408.7M961.5 2408.7L1159.4 2441.4L1300 2454.1M914.3 2421.5C910 2430.5 898.5 2456.2 888.9 2475.9C879.2 2495.7 861.6 2529.2 856.2 2539.9M941.5 2328.8L941.5 2394.2M950.6 2328.8L941.5 2352.4M894.3 2361.5L917.9 2350.6L919.7 2336.1L939.7 2341.5M894.3 2361.5L896.1 2372.4L912.5 2379.7L939.7 2367L939.7 2352.4M912.5 2379.7L912.5 2367L928.8 2357.9M910.7 2381.5L910.7 2399.7L896.1 2406.9M901.6 2314.3C902.5 2316.4 905.5 2323.1 907 2327C908.5 2331 910.4 2334.6 910.7 2337.9C911 2341.2 909.1 2345.5 908.8 2347M901.6 2314.3C903.1 2313.7 906.7 2310.7 910.7 2310.7C914.6 2310.7 919.1 2311.3 925.2 2314.3C931.2 2317.3 943.3 2326.4 947 2328.8M881.6 2385.1C884 2385.7 893.4 2385.7 896.1 2388.8C898.8 2391.8 898.8 2398.5 897.9 2403.3C897 2408.1 894 2415.1 890.7 2417.8C887.3 2420.5 880.7 2421.5 878 2419.6C875.2 2417.8 874.6 2410.9 874.3 2406.9C874 2403 874.9 2399.7 876.2 2396C877.4 2392.4 880.7 2386.9 881.6 2385.1M876.2 2419.6L874.3 2483.2M892.5 2417.8L878 2477.7M700 2225.3C707.3 2225.6 728.5 2223.5 743.6 2227.1C758.7 2230.8 773.8 2238.3 790.8 2247.1C807.7 2255.9 828.9 2271.6 845.3 2279.8C861.6 2288 881.6 2293.4 888.9 2296.2M700 2238C707.9 2238.3 731.5 2235.9 747.2 2239.9C763 2243.8 776.9 2252.6 794.4 2261.6C812 2270.7 834.7 2285.6 852.5 2294.3C870.4 2303.1 893.4 2311 901.6 2314.3M700 2261.6L772.6 2298L841.6 2334.3L894.3 2352.4M700 2276.2L809 2337.9L848.9 2361.5L888.9 2368.8M700 2294.3L809 2370.6L819.9 2381.5M700 2316.1L809 2386.9M809 2386.9L809 2539.9M816.2 2388.8L816.2 2539.9" stroke-width="2.7"/>
<ellipse cx="825.3" cy="2390.6" rx="9.1" ry="5.1" transform="rotate(0 825.3 2390.6)" fill="none" stroke="#000" stroke-width="2.7"/>
<path d="M834.4 2392.4L834.4 2417.8L839.8 2421.5L839.8 2539.9M850.7 2385.1L848.9 2519.5M850.7 2385.1C852.2 2383.6 855.9 2378.2 859.8 2376.1C863.7 2373.9 871.9 2373 874.3 2372.4M825.3 2430.5L859.8 2452.3M825.3 2430.5L825.3 2454.1L859.8 2474.1M828.9 2461.4C828.3 2462.6 824.4 2465.9 825.3 2468.7C826.2 2471.4 832 2475.3 834.4 2477.7C836.8 2480.2 838.9 2482.3 839.8 2483.2M700 2510.4L772.6 2539.9M859.8 2532.2L881.6 2539.9M1281.1 2141.8C1280.5 2144.2 1278.7 2147.8 1277.5 2156.3C1276.3 2164.8 1275.1 2180.5 1273.8 2192.6C1272.6 2204.7 1273.2 2219.9 1270.2 2229C1267.2 2238 1253.9 2242.3 1255.7 2247.1C1257.5 2252 1275.7 2252.6 1281.1 2258C1286.6 2263.5 1287.2 2276.2 1288.4 2279.8M1300 2465C1298.1 2471.1 1291.5 2488.9 1288.4 2501.4C1285.2 2513.8 1282.3 2533.4 1281.1 2539.9" stroke-width="2.7"/>
</g>
<clipPath id="c444"><rect x="1120" y="1840" width="600" height="420"/></clipPath>
<rect x="1120" y="1840" width="600" height="420" fill="#fff" stroke="none"/>
<g clip-path="url(#c444)">
<path d="M1120 2228.6L1156.3 2228.6M1682.2 2153.1L1720 2176M1548.6 2210.5L1548.6 2259.9M1480.3 1938.1L1480.3 1967.1M1480.3 1981.6L1480.3 2005.3M1480.3 2014.3L1480.3 2143.3M1236.2 1840C1247.1 1847.9 1278.6 1871.5 1301.6 1887.2C1324.6 1903 1353.1 1921.1 1374.2 1934.4C1395.4 1947.7 1413 1958 1428.7 1967.1C1444.5 1976.2 1462 1985.3 1468.7 1988.9M1486.8 1999.8L1530.4 2032.5M1207.2 1840C1216.9 1846.7 1243.5 1864.8 1265.3 1880C1287.1 1895.1 1316.7 1916.3 1337.9 1930.8C1359.1 1945.3 1376.1 1956.2 1392.4 1967.1C1408.7 1978 1423.3 1988.3 1436 1996.2C1448.7 2004 1463.2 2011.3 1468.7 2014.3M1486.8 2027L1510.4 2045.2M1530.4 2032.5C1531.6 2033.4 1536.5 2034.9 1537.7 2037.9C1538.9 2041 1538.6 2047.3 1537.7 2050.7C1536.8 2054 1536.5 2056.7 1532.2 2057.9C1528 2059.1 1515.9 2060 1512.3 2057.9C1508.6 2055.8 1510.7 2047.3 1510.4 2045.2" stroke-width="2.7"/>
<ellipse cx="1528.6" cy="2047" rx="4.4" ry="9.1" transform="rotate(0 1528.6 2047)" fill="none" stroke="#000" stroke-width="2.7"/>
<circle cx="1238" cy="1854.5" r="2.8" fill="#000"/>
<circle cx="1254.4" cy="1856.3" r="2.8" fill="#000"/>
<circle cx="1270.7" cy="1861.8" r="2.8" fill="#000"/>
<circle cx="1258" cy="1872.7" r="2.8" fill="#000"/>
<circle cx="1272.5" cy="1874.5" r="2.8" fill="#000"/>
<circle cx="1288.9" cy="1874.5" r="2.8" fill="#000"/>
<circle cx="1287.1" cy="1887.2" r="2.8" fill="#000"/>
<circle cx="1303.4" cy="1885.4" r="2.8" fill="#000"/>
<circle cx="1307" cy="1899.9" r="2.8" fill="#000"/>
<circle cx="1321.6" cy="1894.5" r="2.8" fill="#000"/>
<circle cx="1334.3" cy="1903.6" r="2.8" fill="#000"/>
<circle cx="1336.1" cy="1918.1" r="2.8" fill="#000"/>
<circle cx="1352.4" cy="1916.3" r="2.8" fill="#000"/>
<circle cx="1352.4" cy="1930.8" r="2.8" fill="#000"/>
<circle cx="1368.8" cy="1941.7" r="2.8" fill="#000"/>
<circle cx="1385.1" cy="1943.5" r="2.8" fill="#000"/>
<circle cx="1388.8" cy="1956.2" r="2.8" fill="#000"/>
<circle cx="1403.3" cy="1959.9" r="2.8" fill="#000"/>
<circle cx="1416" cy="1976.2" r="2.8" fill="#000"/>
<circle cx="1430.5" cy="1974.4" r="2.8" fill="#000"/>
<circle cx="1439.6" cy="1987.1" r="2.8" fill="#000"/>
<circle cx="1456" cy="1992.5" r="2.8" fill="#000"/>
<circle cx="1448.7" cy="2005.3" r="2.8" fill="#000"/>
<circle cx="1468.7" cy="2003.4" r="2.8" fill="#000"/>
<circle cx="1490.5" cy="2010.7" r="2.8" fill="#000"/>
<circle cx="1505" cy="2021.6" r="2.8" fill="#000"/>
<circle cx="1492.3" cy="2028.9" r="2.8" fill="#000"/>
<circle cx="1512.3" cy="2039.8" r="2.8" fill="#000"/>
<circle cx="1519.5" cy="2034.3" r="2.8" fill="#000"/>
<path d="M1120 1856.3L1359.7 2028.9L1374.2 2027M1120 1870.9L1359.7 2037.9M1141.8 1845.4L1254.4 1909M1136.3 1840L1136.3 1860M1167.2 1881.8L1185.4 1872.7M1190.8 1892.7L1205.4 1885.4M1238 1927.2L1267.1 1910.8L1267.1 1901.7M1243.5 1936.2L1267.1 1923.5L1267.1 1910.8M1165.4 1899.9L1185.4 1945.3L1229 1974.4L1223.5 1936.2M1229 1974.4C1222.3 1977.9 1204.1 1984.9 1201.7 1988.9C1199.3 1993 1208.7 1996.9 1214.4 1998.7C1220.2 2000.5 1230.8 2000.8 1236.2 1999.8C1241.7 1998.8 1244.4 1996.3 1247.1 1992.5C1249.8 1988.8 1253.5 1981.4 1252.6 1977.3C1251.7 1973.2 1245.6 1968.3 1241.7 1967.8C1237.7 1967.4 1235.6 1970.9 1229 1974.4ZM1216.2 1999.8C1215.8 2004.6 1213.9 2020.4 1213.7 2028.9C1213.5 2037.3 1213.2 2044 1215.2 2050.7C1217.1 2057.3 1221.2 2064.3 1225.3 2068.8C1229.4 2073.4 1237.4 2076.4 1239.9 2077.9M1120 1979.8L1214.4 2037.9M1120 2034.3C1129.1 2038.8 1160.6 2053.7 1174.5 2061.5C1188.4 2069.4 1196.3 2076.1 1203.5 2081.5C1210.8 2087 1204.7 2086.7 1218.1 2094.2C1231.4 2101.8 1269.8 2123.9 1283.4 2126.9C1297.1 2130 1297.1 2114.8 1299.8 2112.4M1236.2 2077.9L1236.2 2021.6L1247.1 2019.8L1265.3 2030.7L1301.6 2032.5L1317.9 2021.6L1319.8 2005.3M1239.9 2065.2L1281.6 2088.8L1317.9 2090.6L1359.7 2085.2" stroke-width="2.7"/>
<ellipse cx="1255.5" cy="2054.3" rx="10.9" ry="13.8" transform="rotate(-20 1255.5 2054.3)" fill="none" stroke="#000" stroke-width="2.7"/>
<path d="M1310.7 2032.5C1311 2035.5 1314 2045.8 1312.5 2050.7C1311 2055.5 1302.2 2057.9 1301.6 2061.5C1301 2065.2 1304 2068.8 1308.9 2072.4C1313.7 2076.1 1324 2082.7 1330.7 2083.3C1337.3 2083.9 1344 2080.3 1348.8 2076.1C1353.7 2071.8 1357.9 2065.8 1359.7 2057.9C1361.5 2050 1359.7 2033.7 1359.7 2028.9M1332.5 2014.3C1332.2 2019.2 1331 2036.1 1330.7 2043.4C1330.4 2050.7 1328.2 2053.4 1330.7 2057.9C1333.1 2062.5 1342.8 2068.5 1345.2 2070.6M1374.2 2027L1374.2 2054.3M1359.7 2048.8C1362.1 2053.4 1372.4 2068.5 1374.2 2076.1C1376.1 2083.6 1371.2 2091.2 1370.6 2094.2M1374.2 2054.3C1376.7 2057.3 1383.9 2068.8 1388.8 2072.4C1393.6 2076.1 1400.6 2080 1403.3 2076.1C1406 2072.1 1402.1 2051.3 1405.1 2048.8C1408.1 2046.4 1418.7 2056.7 1421.5 2061.5C1424.2 2066.4 1417.8 2073.1 1421.5 2077.9C1425.1 2082.7 1439.6 2088.5 1443.2 2090.6M1443.2 2090.6L1445.1 2079.7L1470.5 2094.2M1443.2 2090.6L1470.5 2106.9M1374.2 2070.6C1376.7 2072.7 1383.3 2080.6 1388.8 2083.3C1394.2 2086.1 1402.4 2087.9 1406.9 2087C1411.5 2086.1 1414.5 2079.4 1416 2077.9M1334.3 2089.9L1426.9 2116L1452.3 2117.8M1363.3 2136L1426.9 2116M1452.3 2103.3C1452.3 2106.6 1451.4 2115.7 1452.3 2123.3C1453.2 2130.9 1456.9 2144.5 1457.8 2148.7M1296.2 2132.4C1300.7 2128.4 1315.2 2113.8 1323.4 2108.8C1331.6 2103.7 1338.8 2102.2 1345.2 2102.2C1351.5 2102.2 1358.4 2104.6 1361.5 2108.8C1364.7 2112.9 1364.7 2120.9 1364.1 2126.9C1363.5 2133 1361 2140.8 1357.9 2145.1C1354.7 2149.3 1354.6 2149.6 1345.2 2152.3C1335.8 2155.1 1312.5 2160.5 1301.6 2161.4C1290.7 2162.3 1283.4 2158.4 1279.8 2157.8M1308.9 2090.6C1305.8 2097.3 1296.2 2120.3 1290.7 2130.6C1285.3 2140.8 1279.5 2143.3 1276.2 2152.3C1272.8 2161.4 1271.9 2176.6 1270.7 2185C1269.5 2193.5 1268.9 2194.1 1268.9 2203.2C1268.9 2212.3 1272.8 2231.9 1270.7 2239.5C1268.6 2247.1 1255.9 2245.2 1256.2 2248.6C1256.5 2252 1269.8 2258 1272.5 2259.9M1321.6 2165.1C1324.3 2166 1333.4 2169.9 1337.9 2170.5C1342.5 2171.1 1342.8 2168.4 1348.8 2168.7C1354.9 2169 1363.9 2172 1374.2 2172.3C1384.5 2172.6 1400.9 2171.3 1410.6 2170.5C1420.2 2169.7 1428.7 2168.1 1432.3 2167.6M1486.8 2099.7L1515.9 2119.7M1486.8 2114.2L1506.8 2128.7M1337.9 2259.9L1554 2103.3M1554 2103.3C1555.5 2103.1 1560.9 2101.3 1563.1 2102.2C1565.3 2103.1 1567.2 2106.2 1567.5 2108.8C1567.8 2111.4 1565.3 2116.3 1564.9 2117.8M1564.9 2117.8L1374.2 2259.9M1356.1 2259.9L1557.7 2110.6" stroke-width="2.7"/>
<circle cx="1360.9" cy="2248" r="2.8" fill="#000"/>
<circle cx="1377.9" cy="2235.8" r="2.8" fill="#000"/>
<circle cx="1394.8" cy="2223.6" r="2.8" fill="#000"/>
<circle cx="1411.8" cy="2211.5" r="2.8" fill="#000"/>
<circle cx="1428.7" cy="2199.3" r="2.8" fill="#000"/>
<circle cx="1445.7" cy="2187.1" r="2.8" fill="#000"/>
<circle cx="1462.6" cy="2175" r="2.8" fill="#000"/>
<circle cx="1479.6" cy="2162.8" r="2.8" fill="#000"/>
<circle cx="1496.5" cy="2150.6" r="2.8" fill="#000"/>
<circle cx="1513.5" cy="2138.5" r="2.8" fill="#000"/>
<circle cx="1530.4" cy="2126.3" r="2.8" fill="#000"/>
<circle cx="1547.4" cy="2114.1" r="2.8" fill="#000"/>
<circle cx="1379.1" cy="2247.8" r="2.8" fill="#000"/>
<circle cx="1396.1" cy="2235.3" r="2.8" fill="#000"/>
<circle cx="1413.1" cy="2222.8" r="2.8" fill="#000"/>
<circle cx="1430.1" cy="2210.4" r="2.8" fill="#000"/>
<circle cx="1447.1" cy="2197.9" r="2.8" fill="#000"/>
<circle cx="1464.1" cy="2185.4" r="2.8" fill="#000"/>
<circle cx="1481.1" cy="2172.9" r="2.8" fill="#000"/>
<circle cx="1498.1" cy="2160.4" r="2.8" fill="#000"/>
<circle cx="1515.1" cy="2148" r="2.8" fill="#000"/>
<circle cx="1532.1" cy="2135.5" r="2.8" fill="#000"/>
<circle cx="1549.1" cy="2123" r="2.8" fill="#000"/>
<path d="M1578.4 2106.9L1702.9 2021.6L1720 2028.9M1586.7 2076.1L1643 2048.8L1653.9 2050.7M1448.7 2259.9C1460.5 2250.4 1502.9 2216 1519.5 2203.2C1536.2 2190.4 1539.5 2187.9 1548.6 2183.2C1557.7 2178.5 1564.3 2176.1 1574 2174.9C1583.7 2173.7 1594.6 2173.4 1606.7 2176C1618.8 2178.6 1627.7 2180.8 1646.6 2190.5C1665.5 2200.2 1707.8 2226.8 1720 2234.1M1468.7 2259.9C1478.4 2252.2 1512.3 2225 1526.8 2214.1C1541.3 2203.1 1546.8 2199 1555.8 2194.1C1564.9 2189.3 1572.8 2186.5 1581.3 2185C1589.7 2183.5 1596.4 2182.6 1606.7 2185C1617 2187.5 1624.1 2189.3 1643 2199.6C1661.9 2209.9 1707.2 2238.9 1720 2246.8" stroke-width="2.7"/>
<ellipse cx="1463.2" cy="1847.3" rx="8" ry="10.9" transform="rotate(20 1463.2 1847.3)" fill="none" stroke="#000" stroke-width="2.7"/>
<path d="M1448.7 1840C1448.7 1842.4 1447.2 1850.3 1448.7 1854.5C1450.2 1858.8 1455.4 1861.8 1457.8 1865.4C1460.2 1869.1 1461.4 1868.5 1463.2 1876.3C1465 1884.2 1465.9 1904.5 1468.7 1912.6C1471.4 1920.8 1474.7 1922.6 1479.6 1925.4C1484.4 1928.1 1493.4 1929 1497.7 1929C1502.1 1929 1504.4 1929.3 1505.7 1925.4C1507 1921.4 1505.7 1908.7 1505.7 1905.4M1505.7 1905.4L1526.8 1894.5L1528.6 1876.3L1515.9 1856.3L1490.5 1843.6L1483.2 1840M1490.5 1843.6L1490.5 1867.2L1477.7 1887.2L1479.6 1896.3L1505.7 1905.4M1490.5 1867.2L1528.6 1876.3M1477.7 1887.2L1523.1 1874.5M1428.7 1840L1439.6 1841.8L1445.1 1845.4M1552.2 1840C1558.9 1843 1576.4 1852.7 1592.2 1858.2C1607.9 1863.6 1625.3 1867.5 1646.6 1872.7C1667.9 1877.8 1707.8 1886.3 1720 1889M1575.8 1883.6C1584.6 1886.6 1610.6 1896.3 1628.5 1901.7C1646.3 1907.2 1667.7 1912.9 1683 1916.3C1698.2 1919.6 1713.8 1920.8 1720 1921.7M1601.2 1899.9C1602.4 1901.7 1602.7 1906.9 1608.5 1910.8C1614.2 1914.8 1633 1919.9 1635.7 1923.5C1638.5 1927.2 1628.2 1930.7 1624.8 1932.6C1621.5 1934.6 1618.8 1935.6 1615.8 1935.2C1612.7 1934.7 1608.2 1930.9 1606.7 1930.1M1606.7 1930.1L1487.6 1965.3M1487.6 1965.3L1666.6 2051.4M1720 1950.8C1715.6 1948.7 1704.3 1940.3 1693.8 1938.1C1683.4 1935.8 1668.4 1935.5 1657.5 1937.3C1646.6 1939.2 1639.4 1943.1 1628.5 1949C1617.6 1954.8 1599.7 1966.5 1592.2 1972.6C1584.6 1978.6 1583.7 1980.4 1583.1 1985.3C1582.5 1990.1 1584 1996.5 1588.5 2001.6C1593.1 2006.8 1596.4 2008 1610.3 2016.2C1624.2 2024.3 1661.8 2044.9 1672.1 2050.7M1308.9 1840L1317.9 1832.7M1303.4 1856.3L1314.3 1841.8" stroke-width="2.7"/>
</g>
<clipPath id="c508"><rect x="1720" y="2008" width="640" height="448"/></clipPath>
<rect x="1720" y="2008" width="640" height="448" fill="#fff" stroke="none"/>
<g clip-path="url(#c508)">
<path d="M1789 2037.1L1829.2 2017.7M1813 2008C1818.8 2009.4 1837.8 2014.1 1847.8 2016.5C1857.9 2019 1868.8 2021.7 1873 2022.7M1836.2 2008L1875 2022.7M1816.9 2013.8L1824.6 2008M1832.3 2017.7L1840.1 2009.9M1847.8 2020.4L1855.6 2012.6M1861.4 2023.5L1869.2 2015M1878.8 2025.4L1890.5 2031.2M1897 2170.7L1897 2220.3M2046.6 2142.8L2046.6 2196.7M1962.1 2070L2006.7 2097.1" stroke-width="2.7"/>
<ellipse cx="2020.2" cy="2109.5" rx="13.6" ry="21.3" transform="rotate(0 2020.2 2109.5)" fill="none" stroke="#000" stroke-width="2.7"/>
<path d="M2018.3 2091.3C2020.2 2090.6 2026.1 2087.4 2029.9 2087.4C2033.8 2087.4 2039 2089 2041.5 2091.3C2044.1 2093.6 2044.8 2099.4 2045.4 2101M2026.1 2095.2C2029.9 2096.1 2042.8 2097.4 2049.3 2101C2055.8 2104.5 2061.6 2112 2064.8 2116.5C2068 2121 2069.3 2124.9 2068.7 2128.1C2068 2131.3 2065.4 2135.5 2060.9 2135.8C2056.4 2136.2 2047.4 2132 2041.5 2130C2035.7 2128.1 2028.6 2125.2 2026.1 2124.2M2035.7 2114.5C2038 2115.8 2044.8 2119.7 2049.3 2122.3C2053.8 2124.9 2060.6 2128.7 2062.9 2130M1892.4 2031.2C1894 2029.6 1898.5 2023.5 1902.1 2021.6C1905.6 2019.6 1909.8 2019 1913.7 2019.6C1917.6 2020.3 1920.5 2023.5 1925.3 2025.4C1930.2 2027.4 1938.2 2027.7 1942.8 2031.2C1947.3 2034.8 1949.5 2042.2 1952.4 2046.7C1955.4 2051.3 1958.9 2056.4 1960.2 2058.4" stroke-width="2.7"/>
<ellipse cx="1929.2" cy="2049.8" rx="10.8" ry="14.7" transform="rotate(20 1929.2 2049.8)" fill="none" stroke="#000" stroke-width="2.7"/>
<ellipse cx="1929.2" cy="2049.8" rx="4.6" ry="6.2" transform="rotate(0 1929.2 2049.8)" fill="none" stroke="#000" stroke-width="2.7"/>
<ellipse cx="1954.4" cy="2068" rx="5.8" ry="8.5" transform="rotate(20 1954.4 2068)" fill="none" stroke="#000" stroke-width="2.7"/>
<path d="M1946.6 2058.4C1948.2 2057.4 1953.1 2052.6 1956.3 2052.6C1959.5 2052.6 1964.4 2055.5 1966 2058.4C1967.6 2061.3 1967.3 2066.4 1966 2070C1964.7 2073.5 1959.5 2078.1 1958.3 2079.7M1892.4 2031.2C1892.1 2036.4 1891.4 2051.9 1890.5 2062.2C1889.5 2072.6 1887.2 2088.1 1886.6 2093.2M1861.4 2102.9L1890.5 2089.4L1921.5 2099L1921.5 2106.8L1875 2122.3L1861.4 2116.5ZM1875 2122.3L1875 2108.7L1861.4 2102.9M1875 2108.7L1921.5 2099M1886.6 2120.3L1880.8 2161L1886.6 2166.1L1923.4 2151.3L1931.1 2155.2L1940.8 2152.1L1943.9 2124.2L1929.2 2114.5L1913.7 2118.4M1898.2 2116.5C1897.9 2119.7 1897.6 2129.4 1896.3 2135.8C1895 2142.3 1891.4 2152 1890.5 2155.2M1896.3 2137.8L1906 2147.5L1917.6 2135.8L1935 2141.7M1913.7 2118.4L1911.8 2128.1L1917.6 2135.8M1913.7 2033.2C1911.8 2037.4 1905.6 2049.6 1902.1 2058.4C1898.5 2067.1 1894 2081 1892.4 2085.5M1929.2 2066.1L1923.4 2112.6M1902.1 2079.7L1925.3 2071.9L1906 2085.5L1948.6 2071.9M1948.6 2071.9C1949.2 2073.5 1949.9 2079.3 1952.4 2081.6C1955 2083.9 1962.1 2084.8 1964.1 2085.5M1921.5 2112.6C1924.7 2111.3 1935 2107.4 1940.8 2104.9C1946.6 2102.3 1952.1 2100.3 1956.3 2097.1C1960.5 2093.9 1964.4 2087.4 1966 2085.5" stroke-width="2.7"/>
<ellipse cx="1869.2" cy="2058.4" rx="5.8" ry="5.8" transform="rotate(0 1869.2 2058.4)" fill="none" stroke="#000" stroke-width="2.7"/>
<path d="M1864.1 2062.2L1844 2073.9M1818.8 2077.7C1819.1 2075.8 1820.7 2075.2 1824.6 2073.9C1828.5 2072.6 1838.8 2069.7 1842 2070C1845.3 2070.3 1846.2 2072.9 1844 2075.8C1841.7 2078.7 1832 2085.8 1828.5 2087.4C1824.9 2089 1824.3 2087.1 1822.7 2085.5C1821 2083.9 1818.5 2079.7 1818.8 2077.7ZM1822.7 2075.8L1826.5 2089.4M1818.8 2079.7C1812 2083.9 1790.7 2096.8 1778.1 2104.9C1765.5 2112.9 1751 2122.9 1743.2 2128.1C1735.5 2133.3 1734.9 2132 1731.6 2135.8C1728.4 2139.7 1724.8 2146.8 1723.9 2151.3C1722.9 2155.9 1725.5 2161 1725.8 2163M1826.5 2087.4C1819.1 2092.3 1794.6 2108.7 1782 2116.5C1769.4 2124.2 1758.4 2129.4 1751 2133.9C1743.6 2138.4 1740 2140 1737.4 2143.6C1734.9 2147.1 1735.8 2153.3 1735.5 2155.2" stroke-width="2.7"/>
<ellipse cx="1760.3" cy="2173" rx="26.3" ry="35.6" transform="rotate(15 1760.3 2173)" fill="none" stroke="#000" stroke-width="2.7"/>
<ellipse cx="1755.6" cy="2173" rx="26.3" ry="35.6" transform="rotate(15 1755.6 2173)" fill="#fff" stroke="#000" stroke-width="2.7"/>
<circle cx="1763.4" cy="2151.7" r="2.8" fill="#000"/>
<circle cx="1775" cy="2150.6" r="2.8" fill="#000"/>
<circle cx="1744" cy="2173" r="2.8" fill="#000"/>
<circle cx="1742.1" cy="2192.4" r="2.8" fill="#000"/>
<circle cx="1754.9" cy="2200.9" r="2.8" fill="#000"/>
<circle cx="1756.4" cy="2183.9" r="2.8" fill="#000"/>
<circle cx="1749.8" cy="2158.3" r="2.8" fill="#000"/>
<circle cx="1768" cy="2200.2" r="2.8" fill="#000"/>
<ellipse cx="1766.5" cy="2175" rx="14.7" ry="18.6" transform="rotate(10 1766.5 2175)" fill="#fff" stroke="#000" stroke-width="2.7"/>
<ellipse cx="1771.9" cy="2176.9" rx="14.7" ry="18.6" transform="rotate(10 1771.9 2176.9)" fill="#fff" stroke="#000" stroke-width="2.7"/>
<ellipse cx="1778.9" cy="2181.6" rx="10.8" ry="13.9" transform="rotate(10 1778.9 2181.6)" fill="#fff" stroke="#000" stroke-width="2.7"/>
<ellipse cx="1787.4" cy="2188.5" rx="7.7" ry="10.5" transform="rotate(10 1787.4 2188.5)" fill="#fff" stroke="#000" stroke-width="2.7"/>
<path d="M1792.4 2178.8C1794.4 2181.1 1802.5 2186.9 1804.1 2192.4C1805.7 2197.9 1805.7 2205.3 1802.1 2211.8C1798.6 2218.2 1791.2 2225.7 1782.8 2231.1C1774.4 2236.6 1760.2 2242.4 1751.8 2244.7C1743.4 2247 1737.7 2245.2 1732.4 2244.7C1727.1 2244.3 1722.1 2242.4 1720 2242M1785.9 2199C1786.6 2200.5 1792.3 2203.8 1790.5 2207.9C1788.7 2212 1782.1 2219.1 1775 2223.4C1767.9 2227.7 1755 2232.1 1747.9 2233.9C1740.8 2235.7 1737 2234.7 1732.4 2234.2C1727.7 2233.8 1722.1 2231.7 1720 2231.1M1720 2015.7L1739.4 2008M1971.8 2027.4L2006.7 2008M1977.6 2008C1978.6 2011.9 1982.1 2024.1 1983.4 2031.2C1984.7 2038.3 1985.1 2047.4 1985.4 2050.6M1987.3 2186.2L1987.3 2418.7M1987.3 2418.7C1988 2421.2 1988.6 2430.9 1991.2 2434.2C1993.8 2437.4 1998.9 2438.3 2002.8 2438C2006.7 2437.7 1984.1 2450.2 2014.4 2432.2C2044.8 2414.3 2156.5 2347.3 2184.9 2330.3M2060.9 2455.8L2184.9 2383.8M1944.7 2241.6C1947.3 2246.6 1955.7 2258.7 1960.2 2271.4C1964.7 2284.2 1968.9 2300.5 1971.8 2317.9C1974.7 2335.4 1977 2353.1 1977.6 2376C1978.3 2399 1976 2442.5 1975.7 2455.8M1720 2290.8C1729.7 2288.2 1758.7 2277.2 1778.1 2275.3C1797.5 2273.4 1820.1 2274.7 1836.2 2279.2C1852.4 2283.7 1864 2292.1 1875 2302.4C1885.9 2312.8 1895 2327 1902.1 2341.2C1909.2 2355.4 1914 2368.5 1917.6 2387.7C1921.1 2406.8 1922.4 2444.5 1923.4 2455.8M1720 2341.2C1727.7 2338.9 1751.6 2328.9 1766.5 2327.6C1781.3 2326.3 1796.2 2328.6 1809.1 2333.4C1822 2338.3 1833.6 2346.3 1844 2356.7C1854.3 2367 1864.3 2382.5 1871.1 2395.4C1877.9 2408.3 1882.1 2424.1 1884.6 2434.2C1887.2 2444.2 1886.3 2452.2 1886.6 2455.8M1758.7 2298.6L1847.8 2348.9M1936.9 2455.8L1975.7 2426.4M1834.3 2428.3L1842 2443.8M1787.8 2414.8L1795.5 2368.3L1814.9 2379.9L1824.6 2395.4L1811 2430.3ZM1791.7 2412.8L1802.1 2379.1" stroke-width="2.7"/>
<ellipse cx="1801.4" cy="2389.6" rx="3.1" ry="4.6" transform="rotate(0 1801.4 2389.6)" fill="none" stroke="#000" stroke-width="2.7"/>
<path d="M1720 2399.3C1722.6 2401.2 1729 2408.6 1735.5 2410.9C1742 2413.2 1752.3 2414.1 1758.7 2412.8C1765.2 2411.6 1769.7 2407.7 1774.2 2403.2C1778.8 2398.6 1783.9 2388.6 1785.9 2385.7M1720 2414.8L1758.7 2441.9L1809.1 2434.2M1720 2430.3L1751 2453.5M1743.2 2455.8L1762.6 2443.8" stroke-width="2.7"/>
</g>
<clipPath id="c538"><rect x="1300" y="2600" width="640" height="386"/></clipPath>
<rect x="1300" y="2600" width="640" height="386" fill="#fff" stroke="none"/>
<g clip-path="url(#c538)">
<path d="M1356.2 2600C1353.3 2609.7 1344.2 2636.8 1338.7 2658.1C1333.3 2679.4 1327.1 2704 1323.2 2727.8C1319.4 2751.7 1316.8 2789.2 1315.5 2801.5M1455 2600C1451.7 2609.7 1440.4 2638.7 1435.6 2658.1C1430.8 2677.5 1428.2 2698.8 1425.9 2716.2C1423.6 2733.7 1423.6 2751.7 1422 2762.7C1420.4 2773.7 1419.8 2776.9 1416.2 2782.1C1412.7 2787.2 1403.3 2791.8 1400.7 2793.7M1400.7 2793.7L1300 2804.6M1300 2772.4L1409.2 2758.1M1501.5 2600C1498.9 2608.4 1488.5 2631 1486 2650.4C1483.4 2669.7 1483.4 2695.6 1486 2716.2C1488.5 2736.9 1495 2758.2 1501.5 2774.3C1507.9 2790.5 1516.9 2804 1524.7 2813.1C1532.4 2822.1 1538.9 2824.4 1547.9 2828.6C1557 2832.8 1566.7 2837.3 1578.9 2838.3C1591.2 2839.2 1606.7 2837.3 1621.5 2834.4C1636.4 2831.5 1650.6 2828.9 1668 2820.8C1685.5 2812.8 1706.8 2801.5 1726.2 2786C1745.5 2770.5 1766.2 2749.2 1784.3 2727.8C1802.3 2706.5 1821.7 2679.4 1834.6 2658.1C1847.5 2636.8 1857.2 2609.7 1861.7 2600M1433.7 2767.4L1532.4 2820.8M1553.8 2600C1551.5 2608.4 1541.8 2631 1540.2 2650.4C1538.6 2669.7 1540.2 2698.8 1544.1 2716.2C1547.9 2733.7 1556.3 2745.3 1563.4 2755C1570.5 2764.6 1576.4 2769.2 1586.7 2774.3C1597 2779.5 1611.9 2785.3 1625.4 2786C1639 2786.6 1651.3 2784 1668 2778.2C1684.8 2772.4 1706.8 2764.6 1726.2 2751.1C1745.5 2737.5 1766.8 2715.6 1784.3 2696.9C1801.7 2678.1 1819.8 2654.9 1830.8 2638.7C1841.7 2622.6 1846.9 2606.5 1850.1 2600M1567.3 2600C1565.4 2606.5 1557.6 2628.4 1555.7 2638.7C1553.8 2649.1 1554.1 2655.9 1555.7 2662C1557.3 2668.1 1562.1 2673.6 1565.4 2675.5C1568.6 2677.5 1561.2 2683 1575.1 2673.6C1588.9 2664.2 1635.8 2631 1648.7 2619.4C1661.6 2607.7 1652.2 2607.1 1652.5 2603.9C1652.9 2600.6 1650.9 2600.6 1650.6 2600M1664.2 2656.2C1665.8 2657.6 1671.3 2647.5 1668 2663.9C1664.8 2680.4 1650.6 2737.9 1644.8 2755C1639 2772.1 1637.7 2764.3 1633.2 2766.6C1628.7 2768.8 1624.8 2770.8 1617.7 2768.5C1610.6 2766.3 1597.7 2759.2 1590.6 2753C1583.5 2746.9 1576.7 2738.5 1575.1 2731.7C1573.4 2724.9 1568.6 2724 1580.9 2712.3C1593.1 2700.7 1635.8 2671.5 1648.7 2662C1661.6 2652.5 1655.8 2656.4 1658.4 2655.4C1660.9 2654.4 1662.6 2654.8 1664.2 2656.2ZM1726.2 2636.8C1734.2 2640 1757.1 2652.6 1764.9 2658.1C1772.6 2663.6 1772.6 2664.6 1772.6 2669.7C1772.6 2674.9 1775.9 2676.5 1764.9 2689.1C1753.9 2701.7 1719 2735.1 1706.8 2745.3C1694.5 2755.5 1695.2 2751 1691.3 2750.3C1687.4 2749.7 1681 2758.1 1683.5 2741.4C1686.1 2724.7 1701.3 2667.5 1706.8 2650.4C1712.3 2633.3 1713.2 2641 1716.5 2638.7C1719.7 2636.5 1718.1 2633.6 1726.2 2636.8ZM1664.2 2600C1664.2 2603.9 1662.2 2616.8 1664.2 2623.2C1666.1 2629.7 1671.3 2635.8 1675.8 2638.7C1680.3 2641.6 1685.5 2642 1691.3 2640.7C1697.1 2639.4 1704.2 2636.5 1710.7 2631C1717.1 2625.5 1726.2 2612.9 1730 2607.7C1733.9 2602.6 1733.3 2601.3 1733.9 2600M1770.7 2600C1774.9 2602.3 1789.1 2611.6 1795.9 2613.6C1802.7 2615.5 1807.2 2613.9 1811.4 2611.6C1815.6 2609.4 1819.5 2601.9 1821.1 2600" stroke-width="2.7"/>
</g>
<clipPath id="c543"><rect x="700" y="2540" width="600" height="420"/></clipPath>
<rect x="700" y="2540" width="600" height="420" fill="#fff" stroke="none"/>
<g clip-path="url(#c543)">
<path d="M874.3 2540C887.7 2542.7 922.8 2550.9 954.2 2556.3C985.7 2561.8 1026.9 2569.7 1063.2 2572.7C1099.5 2575.7 1143.1 2575.7 1172.2 2574.5C1201.2 2573.3 1220.6 2568.8 1237.5 2565.4C1254.5 2562.1 1267.8 2556.3 1273.8 2554.5M700 2547.3C712.1 2552.7 742.4 2569.1 772.6 2580C802.9 2590.8 845.3 2604.5 881.6 2612.6C917.9 2620.8 954.2 2626.3 990.6 2629C1026.9 2631.7 1066.2 2630.8 1099.5 2629C1132.8 2627.2 1162.5 2622.9 1190.3 2618.1C1218.2 2613.2 1253.9 2603 1266.6 2599.9M798.1 2609C812 2613.2 852.5 2627.8 881.6 2634.4C910.7 2641.1 942.1 2645.9 972.4 2649C1002.7 2652 1032.9 2653.2 1063.2 2652.6C1093.5 2652 1126.8 2649 1154 2645.3C1181.2 2641.7 1208.5 2634.6 1226.6 2630.8C1244.8 2627 1256.9 2624.1 1263 2622.8M1281.1 2540C1279.3 2547.9 1274.5 2564.2 1270.2 2587.2C1266 2610.2 1259.6 2652 1255.7 2678C1251.8 2704 1248.6 2727 1246.6 2743.4C1244.6 2759.7 1243.4 2769.1 1243.7 2776.1C1244 2783 1246.1 2783.6 1248.4 2785.2C1250.7 2786.7 1248.9 2787.3 1257.5 2785.2C1266.1 2783 1292.9 2774.6 1300 2772.4M798.1 2609C796.5 2609.3 791.1 2608.4 789 2610.8C786.9 2613.2 788.1 2608.1 785.4 2623.5C782.6 2639 775.7 2684.7 772.6 2703.4C769.6 2722.2 766.6 2728.3 767.2 2736.1C767.8 2744 774.8 2748.2 776.3 2750.7M776.3 2750.7C790.8 2754.9 830.8 2768.2 863.4 2776.1C896.1 2783.9 934.6 2793 972.4 2797.9C1010.2 2802.7 1070.8 2803.9 1090.4 2805.1M1090.4 2805.1C1093.2 2802.7 1103.1 2797.3 1106.8 2790.6C1110.4 2783.9 1111.9 2772.4 1112.2 2765.2C1112.5 2757.9 1110.4 2751.4 1108.6 2747C1106.8 2742.7 1102.5 2740.4 1101.3 2739M779.9 2684.6C793.8 2688.9 831.4 2703 863.4 2710.7C895.5 2718.4 932.7 2726 972.4 2730.7C1012 2735.4 1079.8 2737.6 1101.3 2739M700 2739.8C712.1 2745.2 742.4 2761.5 772.6 2772.4C802.9 2783.3 845.3 2796.7 881.6 2805.1C917.9 2813.6 954.2 2819.4 990.6 2823.3C1026.9 2827.2 1063.2 2829.3 1099.5 2828.7C1135.8 2828.1 1175.1 2823.3 1208.5 2819.7C1241.9 2816 1284.7 2809.1 1300 2806.9M700 2663.5C703.6 2665 716.6 2669.5 721.8 2672.6C726.9 2675.6 729.1 2676.5 730.9 2681.6C732.7 2686.8 732.5 2695.6 732.7 2703.4C732.9 2711.3 733.2 2723.4 732 2728.9C730.8 2734.3 727.8 2734.9 725.4 2736.1C723 2737.3 718.8 2736.1 717.4 2736.1M700.7 2587.2L700.7 2618.1M763.6 2540C768.1 2541.2 781.4 2546.1 790.8 2547.3C800.2 2548.5 809.6 2548.5 819.9 2547.3C830.1 2546.1 847.1 2541.2 852.5 2540" stroke-width="2.7"/>
</g>
<clipPath id="c548"><rect x="1000" y="640" width="400" height="280"/></clipPath>
<rect x="1000" y="640" width="400" height="280" fill="#fff" stroke="none"/>
<g clip-path="url(#c548)">
<path d="M1273.6 640C1278.5 643.2 1289.7 650.9 1302.7 659.4C1315.6 667.8 1334.9 680.2 1351.1 690.8C1367.3 701.5 1391.8 718.1 1400 723.5M1249.4 640C1260.3 646.9 1289.7 665.2 1314.8 681.2C1339.9 697.1 1385.8 726.6 1400 735.6M1216.7 640C1229 649.3 1264.5 676.1 1290.6 695.7C1316.6 715.3 1359.2 747.1 1372.9 757.4M1372.9 757.4L1382.6 756.9L1389.8 764.7L1400 761.1M1265.1 687.2L1358.4 756.2M1283.3 782.9C1285.7 783.3 1288.5 786.9 1297.8 785.3C1307.1 783.7 1325.7 776.4 1339 773.2C1352.3 769.9 1367.6 767.5 1377.7 765.9C1387.9 764.3 1396.3 763.9 1400 763.5M1305.1 792.5C1312.8 790.5 1335.3 783.7 1351.1 780.4C1366.9 777.1 1391.8 774 1400 772.7M1060.5 640C1078.7 649.7 1139.2 679.5 1169.5 698.1C1199.8 716.7 1223.2 737.3 1242.1 751.4C1261.1 765.5 1276.4 777.6 1283.3 782.9M1031.5 642.4C1037.5 645.6 1050 651.3 1067.8 661.8C1085.6 672.3 1113 690 1138 705.4C1163 720.7 1192.9 737.5 1217.9 753.8C1242.9 770.1 1276.4 795.2 1288.1 803.4M1288.1 803.4L1302.7 800.5M1299 795C1301.7 797.4 1310.1 805.9 1314.8 809.5C1319.4 813 1322 814.9 1326.9 816.3C1331.7 817.6 1331.6 818.4 1343.8 817.5C1356 816.6 1390.6 811.8 1400 810.7M1179.2 640L1188.9 677.5L1213.1 660.6M1207 650.9C1207 649.2 1208.6 647.9 1210.7 647.3C1212.7 646.7 1216.9 646.3 1219.1 647.3C1221.3 648.3 1224.2 651.5 1224 653.3C1223.8 655.1 1220.1 657.5 1217.9 658.2C1215.7 658.8 1212.5 658.6 1210.7 657.4C1208.8 656.2 1207 652.6 1207 650.9ZM1213.1 647.7L1216.7 657.4M1188.9 646.1C1190.5 647.1 1195.5 650.9 1198.5 652.1C1201.6 653.3 1205.6 653.1 1207 653.3M1214.3 660.6L1247 680M1239.7 692.1C1240.1 689.8 1241.7 686.2 1244.6 683.6C1247.4 681 1253.2 676.9 1256.7 676.3C1260.1 675.7 1263.9 678.1 1265.1 680C1266.3 681.8 1266.5 684.2 1263.9 687.2C1261.3 690.2 1253 696.5 1249.4 698.1C1245.8 699.7 1243.7 697.9 1242.1 696.9C1240.5 695.9 1239.3 694.3 1239.7 692.1ZM1248.2 683.6L1251.8 694.5M1253.8 680L1257.1 690.8M1000 689.6L1064.2 650.9M1087.2 652.1L1123.5 640M1030.3 642.4C1041.4 656.9 1073.6 699.7 1096.9 729.6C1120.1 759.5 1152.5 800.6 1169.5 821.6C1186.4 842.6 1192 846.6 1198.5 855.5C1205.1 864.4 1207.5 868.6 1208.7 874.9C1209.9 881.1 1208.3 888.8 1205.8 893C1203.3 897.3 1198.1 899.4 1193.7 900.3C1189.3 901.2 1195.3 905.5 1179.2 898.6C1163 891.7 1126.7 874.4 1096.9 859.1C1067 843.9 1016.1 815.7 1000 807.1M1000 776.8C1012.1 783.1 1048.4 801.6 1072.6 814.3C1096.9 827 1127.5 844.4 1145.3 853.1C1163 861.8 1171.3 864.2 1179.2 866.4C1187 868.6 1190.3 866.4 1192.5 866.4M1000 827.7L1191.3 919.9M1000 859.1L1121.1 919.9M1000 864L1036.3 882.1M1000 906.3L1026.6 919.9M1067.8 661.8L1273.6 919.9M1138 705.4L1297.8 908.8M1392.3 819.2L1400 845.8M1383.8 854.3L1300.2 919.9M1301.7 640L1301.7 658.4" stroke-width="2.7"/>
</g>
<clipPath id="c553"><rect x="100" y="2060" width="600" height="420"/></clipPath>
<rect x="100" y="2060" width="600" height="420" fill="#fff" stroke="none"/>
<g clip-path="url(#c553)">
<path d="M157 2249.6L157 2317.1M562 2312.4L562 2360.7M248.9 2200.9L363.3 2178M591 2278.6L700 2214.4M136.3 2205.3L145.4 2195.1L159.9 2194.4L172.6 2203.5L178.1 2219.8L170.8 2236.2L156.3 2243.4L143.6 2238L136.3 2223.4ZM158.1 2207.1L174.5 2203.5M156.3 2230.7L170.8 2236.2M158.1 2207.1L156.3 2230.7M178.1 2198L185.4 2191.5L199.9 2191.5L207.1 2201.6L205.3 2219.8L196.2 2228.9L185.4 2227.1L178.1 2216.2ZM190.8 2192.6L192.6 2227.8M205.3 2195.1L232.6 2191.5M232.6 2191.5C233.8 2192.3 238.9 2193.3 239.8 2196.2C240.7 2199.1 239.2 2206.2 238 2208.9C236.8 2211.6 233.5 2211.9 232.6 2212.5M232.6 2212.5L203.5 2216.9M212.6 2193.7L213.3 2215.4M219.9 2192.9L220.6 2214.7M227.1 2192.2L227.8 2213.6M508.6 2307L517.7 2294.3L532.2 2290.6L541.3 2299.7L546.7 2316.1L543.1 2328.8L530.4 2334.2L515.9 2330.6L508.6 2319.7Z" stroke-width="2.7"/>
<ellipse cx="537.7" cy="2310.6" rx="6.5" ry="17.4" transform="rotate(-15 537.7 2310.6)" fill="none" stroke="#000" stroke-width="2.7"/>
<path d="M515.9 2301.5L534 2307L532.2 2330.6M541.3 2296.1L572.2 2277.2M572.2 2277.2C573.7 2277.3 579.2 2276.3 581.2 2277.9C583.2 2279.6 584.4 2284.3 584.1 2287C583.8 2289.7 580.2 2293.1 579.4 2294.3M579.4 2294.3L548.5 2310.6M550.4 2291.7C551.3 2292.7 554.7 2295.4 555.8 2297.9C556.9 2300.4 556.7 2305.5 556.9 2307M558.4 2287C559.3 2288 562.7 2290.6 563.8 2293.2C564.9 2295.8 564.7 2301 564.9 2302.6M566.7 2282.3C567.5 2283.4 570.4 2286.2 571.4 2288.8C572.5 2291.4 572.6 2296.4 572.9 2297.9M221.7 2060C219.9 2067.3 211.8 2085.4 210.8 2103.6C209.7 2121.7 214.7 2158.1 215.5 2169M239.8 2060C241.9 2066.1 246.8 2083 252.5 2096.3C258.3 2109.6 265.9 2125.4 274.3 2139.9C282.8 2154.4 293.7 2171.7 303.4 2183.5C313.1 2195.3 327.6 2206.2 332.4 2210.7M347 2060C348.8 2064.2 357 2073.9 357.9 2085.4C358.8 2096.9 355.4 2112.7 352.4 2129C349.4 2145.4 342.7 2169.6 339.7 2183.5C336.7 2197.4 335.2 2207.7 334.3 2212.5M334.3 2212.5C332.1 2217.4 322.8 2231.3 321.5 2241.6C320.3 2251.9 320.9 2262.8 327 2274.3C333.1 2285.8 341.2 2294 357.9 2310.6C374.5 2327.3 400.2 2353 426.9 2374.2C453.5 2395.4 488 2420.1 517.7 2437.7C547.3 2455.3 590.3 2472.8 604.8 2479.9M245.3 2230.7C250.1 2237.4 262.2 2256.7 274.3 2270.7C286.4 2284.6 301.6 2299.1 317.9 2314.2C334.3 2329.4 351.2 2345.7 372.4 2361.5C393.6 2377.2 417.8 2392.3 445 2408.7C472.3 2425 513.4 2447.7 535.8 2459.5C558.2 2471.4 572.2 2476.5 579.4 2479.9M228.9 2234.3C232.9 2241 243.8 2262.8 252.5 2274.3C261.3 2285.8 274.9 2293.7 281.6 2303.3C288.3 2313 288.3 2312.4 292.5 2332.4C296.7 2352.4 303.1 2399.6 307 2423.2C311 2446.8 314.6 2465.6 316.1 2474M209 2241.6C210.2 2250.1 212 2274.3 216.2 2292.4C220.5 2310.6 226.5 2331.2 234.4 2350.6C242.3 2369.9 253.8 2390.5 263.4 2408.7C273.1 2426.8 284.6 2448.3 292.5 2459.5C300.4 2470.7 306.7 2473.4 310.7 2475.9C314.6 2478.3 315.2 2474.3 316.1 2474M219.9 2292.4L303.4 2419.6M336.1 2219.8C336.1 2224.6 335.5 2241 336.1 2248.9C336.7 2256.7 339.1 2264 339.7 2267M336.1 2270.7L392.4 2241.6M356.1 2297.9L392.4 2277.9M332.4 2210.7L383.3 2190.8M365.1 2179.9L366.9 2252.5M381.5 2203.5L386.9 2212.5L368.8 2230.7M370.6 2241.6L390.6 2228.9M365.1 2156.2L394.2 2147.2M365.1 2156.2L361.5 2179.9L370.6 2188.9L390.6 2185.3" stroke-width="2.7"/>
<ellipse cx="369.9" cy="2172.6" rx="4.4" ry="6.5" transform="rotate(0 369.9 2172.6)" fill="none" stroke="#000" stroke-width="2.7"/>
<path d="M365.1 2156.2L379.7 2165.3L377.8 2187.1M379.7 2165.3L396 2159.9M399.6 2127.2C400.5 2125.7 402.4 2119.6 405.1 2118.1C407.8 2116.6 414.2 2118.1 416 2118.1M399.6 2127.2L396 2328.8M426.9 2141.7C427.8 2140.2 429.9 2134.5 432.3 2132.6C434.7 2130.8 439.9 2131.1 441.4 2130.8M426.9 2141.7L423.2 2345.1M434.1 2172.6L433.4 2352.4" stroke-width="2.7"/>
<ellipse cx="432.3" cy="2167.1" rx="8" ry="5.4" transform="rotate(0 432.3 2167.1)" fill="none" stroke="#000" stroke-width="2.7"/>
<path d="M396 2183.5C395.4 2184.7 392.4 2187.7 392.4 2190.8C392.4 2193.8 392.1 2198 396 2201.6C399.9 2205.3 412.7 2210.7 416 2212.5M439.6 2132.6L700 2268.8M443.2 2147.2L700 2287M452.3 2166.1L700 2310.6M437.8 2172.6L452.3 2166.1M401.5 2072.7L419.6 2063.6L421.4 2060M399.6 2092.7L401.5 2072.7L421.4 2085.4L421.4 2100ZM421.4 2085.4L452.3 2067.3L452.3 2085.4L421.4 2100M399.6 2092.7L399.6 2107.2L426.9 2123.6L445 2129M423.2 2101.8L445 2129M448.7 2090.9C451.1 2093.6 454.7 2100.9 463.2 2107.2C471.7 2113.6 484.4 2119.3 499.5 2129C514.6 2138.7 535.8 2153.8 554 2165.3C572.2 2176.8 593.3 2189.5 608.5 2198C623.6 2206.5 638.7 2213.1 644.8 2216.2M459.6 2060C463.2 2063.6 468.6 2075.1 481.4 2081.8C494.1 2088.5 520.7 2092.1 535.8 2100C551 2107.8 564.3 2121.7 572.2 2129C580 2136.3 581.8 2139.3 583.1 2143.5C584.3 2147.8 580 2152.6 579.4 2154.4M537.7 2096.3L566.7 2081.8M559.4 2094.5L588.5 2110.8L583.1 2130.8M570.3 2121L588.5 2110.8M561.3 2127.2C563.1 2129.9 567.9 2136.6 572.2 2143.5C576.4 2150.5 581.8 2161.7 586.7 2169C591.5 2176.2 594.6 2181.1 601.2 2187.1C607.9 2193.2 618.2 2200.4 626.6 2205.3C635.1 2210.1 647.8 2214.4 652.1 2216.2" stroke-width="2.7"/>
<ellipse cx="610.3" cy="2163.5" rx="5.1" ry="7.3" transform="rotate(0 610.3 2163.5)" fill="none" stroke="#000" stroke-width="2.7"/>
<path d="M601.2 2156.2C603.6 2155.6 611.8 2151.1 615.7 2152.6C619.7 2154.1 622.4 2161.4 624.8 2165.3C627.2 2169.3 626.9 2173.5 630.3 2176.2C633.6 2178.9 641.5 2181.7 644.8 2181.7C648.1 2181.7 647.5 2176.5 650.2 2176.2C653 2175.9 659 2177.4 661.1 2179.9C663.3 2182.3 663 2185.3 663 2190.8C663 2196.2 660.5 2208 661.1 2212.5C661.7 2217.1 663.3 2220.4 666.6 2218C669.9 2215.6 675.5 2201.9 681.1 2198C686.7 2194.1 696.9 2195 700 2194.4M479.5 2060C480.4 2061.8 480.4 2066.7 485 2070.9C489.5 2075.1 498.3 2080.9 506.8 2085.4C515.3 2090 531 2096 535.8 2098.1M541.3 2060L700 2150.8M557.6 2060L700 2138.1" stroke-width="2.7"/>
<circle cx="564.6" cy="2068.6" r="2.8" fill="#000"/>
<circle cx="582" cy="2078.5" r="2.8" fill="#000"/>
<circle cx="599.5" cy="2088.4" r="2.8" fill="#000"/>
<circle cx="617" cy="2098.3" r="2.8" fill="#000"/>
<circle cx="634.5" cy="2108.2" r="2.8" fill="#000"/>
<circle cx="651.9" cy="2118.1" r="2.8" fill="#000"/>
<circle cx="669.4" cy="2128" r="2.8" fill="#000"/>
<circle cx="686.9" cy="2137.9" r="2.8" fill="#000"/>
<path d="M681.1 2230.7L700 2238M657.5 2052.7C650.2 2056.1 656 2068.8 657.5 2072.7C659 2076.6 663.3 2076 666.6 2076.3C669.9 2076.6 675.1 2073.6 677.5 2074.5C679.9 2075.4 679 2080 681.1 2081.8C683.2 2083.6 686.9 2085.4 690.2 2085.4C693.5 2085.4 699.3 2087.2 701.1 2081.8C702.9 2076.3 708.4 2057.6 701.1 2052.7C693.8 2047.9 664.8 2049.4 657.5 2052.7ZM354.2 2376C353.9 2380.8 352.1 2394.1 352.4 2405C352.7 2415.9 354.5 2432.3 356.1 2441.4C357.6 2450.4 360.6 2456.5 361.5 2459.5M354.2 2376C354.8 2375.1 356.4 2371.1 357.9 2370.5C359.4 2369.9 362.4 2372 363.3 2372.3M363.3 2372.3L535.8 2479.9M319.7 2443.2C320 2441.7 320 2435.6 321.5 2434.1C323.1 2432.6 319.7 2426.5 328.8 2434.1C337.9 2441.7 368.2 2472.2 376 2479.9M361.5 2459.5L386.9 2479.9" stroke-width="2.7"/>
</g>
<clipPath id="c575"><rect x="1120" y="2260" width="600" height="420"/></clipPath>
<rect x="1120" y="2260" width="600" height="420" fill="#fff" stroke="none"/>
<g clip-path="url(#c575)">
<path d="M1590.3 2358.1L1672.1 2358.1M1548.6 2260L1548.6 2261.8M1120 2322.5C1135.1 2321.1 1183.6 2319.4 1210.8 2314.5C1238 2309.5 1262.9 2301.8 1283.4 2292.7C1304 2283.6 1325.8 2265.4 1334.3 2260M1120 2336.3C1138.2 2334.5 1198.7 2331.4 1229 2325.4C1259.2 2319.3 1279.8 2310.8 1301.6 2300C1323.4 2289.1 1350 2266.7 1359.7 2260M1120 2349C1138.2 2347.2 1197.5 2344.7 1229 2338.1C1260.4 2331.4 1283.4 2322 1308.9 2309C1334.3 2296 1369.4 2268.2 1381.5 2260" stroke-width="2.7"/>
<circle cx="1130.1" cy="2328.8" r="2.8" fill="#000"/>
<circle cx="1150.2" cy="2326.9" r="2.8" fill="#000"/>
<circle cx="1170.3" cy="2325" r="2.8" fill="#000"/>
<circle cx="1190.4" cy="2323.1" r="2.8" fill="#000"/>
<circle cx="1210.5" cy="2321.2" r="2.8" fill="#000"/>
<circle cx="1230.1" cy="2316.9" r="2.8" fill="#000"/>
<circle cx="1249.2" cy="2310.6" r="2.8" fill="#000"/>
<circle cx="1268.4" cy="2304.3" r="2.8" fill="#000"/>
<circle cx="1287.6" cy="2297.9" r="2.8" fill="#000"/>
<circle cx="1305" cy="2288" r="2.8" fill="#000"/>
<circle cx="1321.8" cy="2276.8" r="2.8" fill="#000"/>
<circle cx="1338.6" cy="2265.6" r="2.8" fill="#000"/>
<circle cx="1138.1" cy="2341.6" r="2.8" fill="#000"/>
<circle cx="1159.9" cy="2339.3" r="2.8" fill="#000"/>
<circle cx="1181.6" cy="2337" r="2.8" fill="#000"/>
<circle cx="1203.4" cy="2334.7" r="2.8" fill="#000"/>
<circle cx="1225.1" cy="2332.3" r="2.8" fill="#000"/>
<circle cx="1245.9" cy="2325.8" r="2.8" fill="#000"/>
<circle cx="1266.4" cy="2318.4" r="2.8" fill="#000"/>
<circle cx="1287" cy="2310.9" r="2.8" fill="#000"/>
<circle cx="1307.3" cy="2302.9" r="2.8" fill="#000"/>
<circle cx="1325.4" cy="2290.7" r="2.8" fill="#000"/>
<circle cx="1343.5" cy="2278.4" r="2.8" fill="#000"/>
<circle cx="1361.6" cy="2266.1" r="2.8" fill="#000"/>
<path d="M1120 2356.2C1129.1 2357.8 1156.3 2362.5 1174.5 2365.3C1192.6 2368.2 1213.8 2372.4 1229 2373.3C1244.1 2374.2 1253.2 2373.3 1265.3 2370.8C1277.4 2368.2 1289.5 2364.4 1301.6 2358.1C1313.7 2351.7 1313.7 2349 1337.9 2332.6C1362.1 2316.3 1428.7 2272.1 1446.9 2260M1120 2365.3C1129.1 2367 1154.5 2372.6 1174.5 2375.5C1194.5 2378.4 1223.5 2382 1239.9 2382.8C1256.2 2383.5 1261 2382.5 1272.5 2379.9C1284 2377.3 1294.9 2374.4 1308.9 2367.1C1322.8 2359.9 1329.4 2354.1 1356.1 2336.3C1382.7 2318.4 1449.9 2272.7 1468.7 2260M1245.3 2366.1L1414.2 2260M1272.5 2260L1287.1 2280M1285.3 2260L1319.8 2261.8M1307 2456.1L1497.7 2325.4M1120 2436.2L1307 2456.1M1307 2456.1C1304.3 2462.8 1295.8 2479.1 1290.7 2496.1C1285.6 2513 1280.4 2536.6 1276.2 2557.8C1271.9 2579 1268.6 2602.9 1265.3 2623.2C1261.9 2643.5 1257.7 2670.4 1256.2 2679.9M1120 2381.7L1141.8 2385.3M1120 2396.2L1187.2 2408.9M1145.4 2379.9C1146 2382.3 1146.6 2390.4 1149.1 2394.4C1151.5 2398.3 1156.9 2401.6 1160 2403.5C1163 2405.3 1166 2405 1167.2 2405.3M1178.1 2384.2C1176.3 2385.3 1169.3 2387.2 1167.2 2390.8C1165.1 2394.3 1165.7 2402.9 1165.4 2405.3M1174.5 2392.6L1201.7 2394.4M1216.2 2391.5L1160 2440.5M1120 2576C1129.1 2575.7 1156.3 2575.7 1174.5 2574.2C1192.6 2572.7 1212.3 2570.2 1229 2566.9C1245.6 2563.6 1266.8 2556.3 1274.4 2554.2M1120 2630.5C1129.1 2629.9 1156.3 2629.2 1174.5 2626.8C1192.6 2624.4 1213.5 2620.2 1229 2615.9C1244.4 2611.7 1260.7 2603.8 1267.1 2601.4M1120 2652.3C1129.1 2651.6 1156.3 2651 1174.5 2648.6C1192.6 2646.2 1214.1 2642 1229 2637.7C1243.8 2633.5 1257.7 2625.6 1263.5 2623.2M1512.3 2341.7C1504.4 2349.3 1480.2 2367.4 1465 2387.1C1449.9 2406.8 1434.8 2433.7 1421.5 2459.8C1408.1 2485.8 1396 2516.1 1385.1 2543.3C1374.2 2570.5 1364.2 2600.4 1356.1 2623.2C1347.9 2646 1339.4 2670.4 1336.1 2679.9M1613.9 2365.3C1604.3 2373.8 1574.6 2394.4 1555.8 2416.2C1537.1 2438 1516.5 2468.8 1501.4 2496.1C1486.2 2523.3 1475.3 2553.6 1465 2579.6C1454.7 2605.6 1445.1 2635.5 1439.6 2652.3C1434.2 2669 1433.6 2675.3 1432.3 2679.9M1653.9 2379.1C1646.6 2384.7 1626.7 2396.1 1610.3 2412.5C1594 2429 1571 2454.9 1555.8 2477.9C1540.7 2500.9 1529.2 2526.3 1519.5 2550.6C1509.8 2574.8 1502.9 2601.6 1497.7 2623.2C1492.6 2644.7 1490.2 2670.4 1488.6 2679.9M1673.9 2430.7C1666.3 2436.2 1642.1 2449.5 1628.5 2463.4C1614.9 2477.3 1603.1 2493.7 1592.2 2514.2C1581.3 2534.8 1571 2563.9 1563.1 2586.9C1555.2 2609.9 1548.6 2636.8 1544.9 2652.3C1541.3 2667.7 1541.9 2675.3 1541.3 2679.9M1623 2352.6L1632.8 2346.4" stroke-width="2.7"/>
<ellipse cx="1640.1" cy="2294.5" rx="11.6" ry="10.2" transform="rotate(0 1640.1 2294.5)" fill="none" stroke="#000" stroke-width="2.7"/>
<path d="M1630.3 2300L1683 2365.3M1651 2290.9L1701.1 2358.1M1683 2365.3L1701.1 2358.1M1683 2365.3L1684.8 2390.8L1704.7 2427.1M1701.1 2358.1L1720 2383.5M1686.6 2383.5C1687.2 2382.3 1687.8 2377.1 1690.2 2376.2C1692.6 2375.3 1696.2 2373.2 1701.1 2378C1706.1 2382.9 1716.9 2400.7 1720 2405.3M1688.4 2387.1L1710.2 2430.7M1710.2 2430.7C1708.7 2431.9 1702.9 2434.9 1701.1 2438C1699.3 2441 1698.1 2446.1 1699.3 2448.9C1700.5 2451.6 1706.9 2453.4 1708.4 2454.3M1704.7 2441.6C1706 2442.2 1709.5 2444.9 1712 2445.2C1714.6 2445.5 1718.7 2443.7 1720 2443.4M1695.7 2305.4L1720 2294.5M1673.9 2441.6C1665.7 2449.2 1633.9 2477.3 1624.8 2487C1615.8 2496.7 1619.4 2495.2 1619.4 2499.7C1619.4 2504.2 1614.9 2507 1624.8 2514.2C1634.8 2521.5 1667.8 2539.1 1679.3 2543.3C1690.8 2547.5 1690.2 2544.5 1693.8 2539.7C1697.5 2534.8 1699.3 2523.6 1701.1 2514.2C1702.9 2504.9 1704.1 2488.5 1704.7 2483.4M1577.6 2568.7C1581.9 2564.2 1587.3 2560.5 1592.2 2559.6C1597 2558.7 1597.6 2558.1 1606.7 2563.3C1615.8 2568.4 1638.8 2584.2 1646.6 2590.5C1654.5 2596.9 1653.6 2597.8 1653.9 2601.4C1654.2 2605 1661.2 2600.5 1648.5 2612.3C1635.7 2624.1 1591.5 2661.6 1577.6 2672.2C1563.7 2682.8 1568.5 2677.4 1564.9 2675.9C1561.3 2674.3 1555.5 2678 1555.8 2663.1C1556.1 2648.3 1563.1 2602.6 1566.7 2586.9C1570.4 2571.1 1573.4 2573.3 1577.6 2568.7ZM1720 2543.3C1715.6 2545.7 1701.2 2551.8 1693.8 2557.8C1686.5 2563.9 1680.5 2571.7 1675.7 2579.6C1670.8 2587.5 1665.4 2596 1664.8 2605C1664.2 2614.1 1668.4 2628 1672.1 2634.1C1675.7 2640.1 1681.1 2640.8 1686.6 2641.4C1692 2642 1699.2 2640.8 1704.7 2637.7C1710.3 2634.7 1717.5 2625.6 1720 2623.2M1720 2637.7C1718.1 2641.4 1710.9 2652.5 1708.4 2659.5C1705.8 2666.5 1705.4 2676.5 1704.7 2679.9M1621.2 2679.9C1625.4 2676.5 1639.4 2663.5 1646.6 2659.5C1653.9 2655.5 1661.2 2655.3 1664.8 2655.9C1668.4 2656.5 1669 2659.2 1668.4 2663.1C1667.8 2667.1 1662.4 2677.1 1661.2 2679.9" stroke-width="2.7"/>
</g>
<clipPath id="c607"><rect x="1720" y="2456" width="640" height="448"/></clipPath>
<rect x="1720" y="2456" width="640" height="448" fill="#fff" stroke="none"/>
<g clip-path="url(#c607)">
<path d="M1720 2456L1799.4 2498.6" stroke-width="2.7"/>
<ellipse cx="1827.7" cy="2516" rx="19.4" ry="27.9" transform="rotate(15 1827.7 2516)" fill="none" stroke="#000" stroke-width="2.7"/>
<path d="M1836.2 2510.2C1834.6 2510.2 1828.6 2508.6 1826.5 2510.2C1824.5 2511.9 1823.2 2517.3 1823.8 2519.9C1824.5 2522.5 1829.3 2524.8 1830.4 2525.7M1797.5 2494.7L1813 2498.6M1795.5 2506.4L1811 2514.1M1797.5 2494.7C1796.8 2495.7 1793.9 2498.6 1793.6 2500.6C1793.3 2502.5 1795.2 2505.4 1795.5 2506.4M1842 2534.3L1900.1 2591.6M1888.5 2456C1887.9 2464.4 1887.6 2487 1884.6 2506.4C1881.7 2525.7 1879.2 2548.3 1871.1 2572.2C1863 2596.1 1851.7 2622.6 1836.2 2649.7C1820.7 2676.8 1797.5 2711.4 1778.1 2734.9C1758.7 2758.5 1729.7 2781.7 1720 2791.1M1843.2 2561.4C1840.1 2571.6 1835.4 2600.1 1824.6 2622.6C1813.8 2645.1 1795.5 2674.9 1778.1 2696.2C1760.7 2717.5 1729.7 2741.4 1720 2750.4M1830.4 2565.2C1827.5 2574.2 1823 2598.8 1813 2618.7C1803 2638.6 1785.9 2665.2 1770.4 2684.6C1754.9 2703.9 1728.4 2726.5 1720 2734.9M1925.3 2456C1924.7 2462.5 1923.4 2482.5 1921.5 2494.7C1919.5 2507 1916.3 2520.9 1913.7 2529.6C1911.1 2538.3 1907.2 2544.1 1906 2547M1906 2547L2064.8 2456M1882.7 2545.1C1884.6 2545.6 1890.5 2547.9 1894.3 2548.2C1898.2 2548.5 1904 2547.2 1906 2547M1973.8 2456C1973.4 2459.9 1973.4 2470.5 1971.8 2479.2C1970.2 2488 1965.4 2503.5 1964.1 2508.3M1927.3 2466.8L1940.8 2456M1741.3 2496.7C1740.7 2500.2 1737.1 2512.8 1737.4 2518C1737.8 2523.2 1741.3 2526.1 1743.2 2527.7C1745.2 2529.3 1745.8 2529.6 1749.1 2527.7C1752.3 2525.7 1760.4 2518 1762.6 2516M1782 2544.3C1777.8 2548.3 1761.6 2561.8 1756.8 2568.3C1752 2574.9 1752.6 2579.6 1752.9 2583.8C1753.3 2588 1751.3 2588.7 1758.7 2593.5C1766.2 2598.4 1788.4 2610 1797.5 2612.9C1806.5 2615.8 1808.8 2614.5 1813 2611C1817.2 2607.4 1819.8 2599 1822.7 2591.6C1825.6 2584.2 1829.1 2570.6 1830.4 2566.4M1720 2543.2C1722.6 2544.8 1731.9 2546.7 1735.5 2552.9C1739 2559 1742 2570.3 1741.3 2580C1740.7 2589.7 1735.2 2603.9 1731.6 2611C1728.1 2618.1 1721.9 2620.6 1720 2622.6M1720 2638.1C1721.3 2637.8 1720 2632.6 1727.7 2636.1C1735.5 2639.7 1759.1 2653.6 1766.5 2659.4C1773.9 2665.2 1772.3 2666.2 1772.3 2671C1772.3 2675.9 1775.2 2677.8 1766.5 2688.4C1757.8 2699.1 1727.7 2727.2 1720 2734.9" stroke-width="2.7"/>
</g>
<clipPath id="c614"><rect x="100" y="2480" width="600" height="420"/></clipPath>
<rect x="100" y="2480" width="600" height="420" fill="#fff" stroke="none"/>
<g clip-path="url(#c614)">
<path d="M312.5 2480C316.4 2483.6 323.1 2490.3 336.1 2501.8C349.1 2513.3 369.4 2532.1 390.6 2549C411.7 2566 439 2586.5 463.2 2603.5C487.4 2620.4 511.6 2635.6 535.8 2650.7C560 2665.8 581.1 2679.2 608.5 2694.3C635.8 2709.4 684.7 2733.6 700 2741.5M383.3 2480C390.6 2485.4 407.5 2499.4 426.9 2512.7C446.2 2526 475.3 2545.1 499.5 2559.9C523.7 2574.7 547.9 2588.4 572.2 2601.7C596.4 2615 623.5 2629.2 644.8 2639.8C666.1 2650.4 690.8 2661 700 2665.2M521.3 2480C529.8 2484.5 551.6 2496.3 572.2 2507.2C592.7 2518.1 625.4 2535.4 644.8 2545.4C664.2 2555.4 679.6 2561.4 688.4 2567.2C697.2 2572.9 695.8 2573.2 697.5 2579.9C699.2 2586.5 698.5 2596.5 698.5 2607.1C698.5 2617.7 698.4 2635 697.5 2643.4C696.5 2651.9 693.5 2655.5 692.7 2658M561.3 2480C569.1 2484.2 591.5 2496.9 608.5 2505.4C625.4 2513.9 647.7 2523.9 663 2530.8C678.2 2537.8 693.8 2544.5 700 2547.2M628.5 2480C634.2 2482.7 651 2490.9 663 2496.3C674.9 2501.8 693.8 2510 700 2512.7" stroke-width="2.7"/>
</g>
<clipPath id="c619"><rect x="1120" y="860" width="400" height="280"/></clipPath>
<rect x="1120" y="860" width="400" height="280" fill="#fff" stroke="none"/>
<g clip-path="url(#c619)">
<path d="M1198.7 860C1200.3 862 1206.6 868.1 1208.4 872.1C1210.1 876.1 1209.9 880.4 1209.1 884.2C1208.3 888 1206.3 892.5 1203.5 895.1C1200.8 897.7 1196.9 899.5 1192.6 900C1188.4 900.4 1190.2 902.8 1178.1 897.5C1166 892.3 1129.7 873.3 1120 868.5M1162.4 860C1164.6 861 1170.6 864.9 1175.7 866.1C1180.7 867.2 1189.8 866.7 1192.6 866.8M1120 883L1247.1 950.8M1219.3 860L1276.2 926.6M1255.6 860L1298 909.6M1379.1 860L1284.6 933.8M1272.5 943.5L1258 954.4M1245.9 964.1L1146.6 1044M1135.7 1052.5L1120 1064.6M1120 918.1L1220.5 971.4M1120 927.8C1124 930 1136.1 936.3 1144.2 941.1C1152.3 946 1157.3 950.5 1168.4 956.9C1179.5 963.2 1203.7 975.6 1210.8 979.4M1120 948.4L1148.6 956.4M1120 985.9C1123.2 986.7 1132.1 989.9 1139.4 990.8C1146.6 991.6 1157.3 991.8 1163.6 990.8C1169.8 989.7 1174.5 986.9 1176.9 984.7C1179.3 982.5 1177.9 978.6 1178.1 977.4M1120 1006.5L1162.4 1017.9M1120 1021.7L1149.1 1029.5M1262.9 959.8L1485.6 1093.7M1238.6 980.6L1468.7 1113.8M1226.5 989.5L1460.2 1122.7M1181.7 1025.4C1195.7 1030.9 1235.2 1044.1 1265.3 1058.5C1295.3 1073 1337.3 1098.3 1362.1 1111.8C1386.9 1125.4 1405.5 1135.2 1414.2 1139.9M1168.4 1036.8C1176.5 1039.2 1196.7 1042.4 1216.9 1051.3C1237 1060.2 1264 1075.3 1289.5 1090C1315 1104.8 1356.5 1131.6 1369.9 1139.9M1310.1 923C1314.7 927 1327.2 939.1 1337.9 947.2C1348.6 955.2 1362.9 965.9 1374.2 971.4C1385.5 976.8 1397.2 978.6 1405.7 979.9C1414.2 981.1 1420.6 980.1 1425.1 978.6C1429.5 977.2 1425.9 985.3 1432.3 971.4C1438.8 957.5 1458.6 907.8 1463.8 895.1M1289.5 939.9C1293.5 944.3 1303.6 956.9 1313.7 966.5C1323.8 976.2 1335.9 989.3 1350 998C1364.1 1006.7 1385.9 1014.8 1398.5 1018.6C1411 1022.4 1419 1021.6 1425.1 1021C1431.1 1020.4 1431.5 1018.8 1434.8 1015C1438 1011.1 1437.6 1012.5 1444.5 998C1451.3 983.5 1470.5 941.5 1475.9 927.8C1481.4 914.1 1477.3 920.1 1477.1 915.7C1476.9 911.3 1475.1 903.6 1474.7 901.2" stroke-width="2.7"/>
<ellipse cx="1489.2" cy="877.4" rx="20.6" ry="9.2" transform="rotate(45 1489.2 877.4)" fill="none" stroke="#000" stroke-width="2.7"/>
<path d="M1417.8 860L1485.6 897.5M1462.6 860C1463.2 861.6 1464.8 866.9 1466.2 869.7C1467.7 872.5 1470.3 875.7 1471.1 876.9M1498.9 904.8L1513.5 913.3M1480.8 933.8C1483 933 1485.8 932.8 1488 935.1C1490.3 937.3 1493.7 941.9 1494.1 947.2C1494.5 952.4 1492.3 962.3 1490.5 966.5C1488.6 970.8 1486 973 1483.2 972.6C1480.4 972.2 1475.7 967.1 1473.5 964.1C1471.3 961.1 1469.7 958.5 1469.9 954.4C1470.1 950.4 1472.9 943.3 1474.7 939.9C1476.5 936.5 1478.6 934.7 1480.8 933.8ZM1463.8 978.6C1466.2 978.6 1470.1 980.7 1472.3 983.5C1474.5 986.3 1477.3 990.3 1477.1 995.6C1476.9 1000.8 1473.3 1011.5 1471.1 1015C1468.9 1018.4 1466.4 1017.8 1463.8 1016.2C1461.2 1014.6 1457 1009.1 1455.4 1005.3C1453.7 1001.4 1453.7 996.8 1454.1 993.2C1454.5 989.5 1456.2 985.9 1457.8 983.5C1459.4 981.1 1461.4 978.6 1463.8 978.6Z" stroke-width="2.7"/>
<ellipse cx="1463.8" cy="1047.7" rx="21.8" ry="10.2" transform="rotate(48 1463.8 1047.7)" fill="none" stroke="#000" stroke-width="2.7"/>
<path d="M1511 921.7C1508.8 928.4 1502.8 947.8 1497.7 961.7C1492.7 975.6 1483.4 994 1480.8 1005.3C1478.2 1016.6 1480.8 1020.6 1482 1029.5C1483.2 1038.4 1485.2 1050.1 1488 1058.5C1490.9 1067 1497.1 1076.7 1498.9 1080.3M1520 981.1C1518.3 986.7 1511.5 1006.1 1509.8 1015C1508.1 1023.8 1508.6 1027.9 1509.8 1034.3C1511 1040.8 1515.9 1050.5 1517.1 1053.7M1513.5 1080.3L1459 1139.9M1508.6 1093.7L1520 1100.9M1501.4 1103.3L1520 1114.2M1483.2 1122.7L1520 1139.9M1474.7 1132.4L1488 1139.9" stroke-width="2.7"/>
</g>
<clipPath id="c628"><rect x="1520" y="860" width="400" height="280"/></clipPath>
<rect x="1520" y="860" width="400" height="280" fill="#fff" stroke="none"/>
<g clip-path="url(#c628)">
<path d="M1532.1 860C1540.2 868.1 1563.4 889.8 1580.5 908.4C1597.7 927.1 1625.9 961.3 1635 971.9M1520 863.6C1528.1 871.5 1554.1 895.7 1568.4 910.8C1582.8 926 1599.7 947.2 1606 954.4M1520 883C1524.8 887.2 1539.6 899.3 1549.1 908.4C1558.5 917.5 1572.3 932.6 1576.9 937.5M1527.3 922.5L1638.6 985.4M1650.8 992.7L1667.2 1002.4M1679.8 1010.1L1790 1073.1M1803.3 1080.3L1815.9 1087.1L1816.6 1092.9M1819.5 1107L1821.5 1118.6M1537.4 937C1536.1 941.5 1532.6 955.8 1529.7 964.1C1526.8 972.5 1521.6 983.3 1520 987.1M1591.4 969C1599.7 981.5 1625.1 1017.8 1641.1 1044C1657 1070.3 1678.2 1110.4 1687.1 1126.3C1695.9 1142.3 1693.1 1137.6 1694.3 1139.9M1619.3 983.5C1626.9 994.4 1649.5 1025.9 1665.3 1048.9C1681 1071.9 1703.6 1106.3 1713.7 1121.5C1723.8 1136.7 1723.8 1136.8 1725.8 1139.9M1659.2 1007.7C1664.3 1013.8 1679.2 1029.1 1689.5 1044C1699.8 1059 1711.9 1081.3 1721 1097.3C1730 1113.3 1740.1 1132.8 1744 1139.9M1597 988.3L1544.2 1045.2M1535.7 1054.9L1522.4 1069.4M1529.7 1071.9C1531.3 1073.7 1534.9 1079.3 1539.4 1082.8C1543.8 1086.2 1541.4 1082.9 1556.3 1092.4C1571.3 1102 1616.9 1132 1629 1139.9M1520 1100.9L1574.5 1139.9M1520 1114.2L1558.7 1139.9M1814.2 1139.9C1814.6 1137.6 1815 1129.2 1816.6 1126.3C1818.2 1123.5 1821.7 1122.3 1823.9 1122.7C1826.1 1123.1 1827.9 1125.9 1829.9 1128.8C1831.9 1131.6 1835 1138 1836 1139.9" stroke-width="2.7"/>
</g>
<clipPath id="c633"><rect x="1120" y="1140" width="400" height="280"/></clipPath>
<rect x="1120" y="1140" width="400" height="280" fill="#fff" stroke="none"/>
<g clip-path="url(#c633)">
<path d="M1291.4 1212.6L1346.4 1212.6M1212.5 1307.8L1246.4 1307.8M1198 1262.3L1162.4 1291.3L1162.4 1410L1150.3 1419.9M1409.1 1140L1434.3 1150.9M1369.9 1140L1427 1161.3M1448.1 1161.8L1520 1204.9M1440.8 1170.3L1520 1219.4M1489.2 1140L1520 1155.7M1459 1140L1427 1175.8M1383.9 1200.5C1386.3 1194.7 1404.9 1181.6 1410.6 1177.5C1416.2 1173.5 1415.6 1175.5 1417.8 1176.3C1420 1177.1 1423.1 1180.2 1423.9 1182.4C1424.7 1184.6 1427.3 1184.6 1422.7 1189.6C1418 1194.7 1402.5 1210.8 1396 1212.6C1389.6 1214.5 1381.5 1206.4 1383.9 1200.5ZM1391.2 1194.5C1392.2 1195.3 1395.8 1197.1 1397.2 1199.3C1398.7 1201.5 1399.3 1206.4 1399.7 1207.8M1397.2 1189.6C1398.2 1190.4 1401.9 1192.3 1403.3 1194.5C1404.7 1196.7 1405.3 1201.5 1405.7 1203M1403.3 1184.8C1404.3 1185.6 1407.9 1187.4 1409.3 1189.6C1410.8 1191.9 1411.4 1196.7 1411.8 1198.1M1409.3 1180C1410.4 1180.8 1414.1 1182.6 1415.4 1184.8C1416.7 1187 1417 1191.9 1417.3 1193.3" stroke-width="2.7"/>
<ellipse cx="1382" cy="1221.1" rx="31" ry="10.9" transform="rotate(41 1382 1221.1)" fill="none" stroke="#000" stroke-width="2.7"/>
<ellipse cx="1379.1" cy="1223.5" rx="25.4" ry="9.2" transform="rotate(41 1379.1 1223.5)" fill="none" stroke="#000" stroke-width="2.7"/>
<path d="M1362.1 1206.6L1374.2 1212.6L1379.1 1207.8M1374.2 1212.6L1386.3 1223.5L1392.4 1218.7M1386.3 1223.5L1393.6 1239.3M1364.6 1222.3C1364.1 1223.5 1363.1 1227.2 1362.1 1229.6C1361.1 1232 1359.1 1235.6 1358.5 1236.9M1374.2 1233.2C1373.4 1234.2 1371 1237.9 1369.4 1239.3C1367.8 1240.7 1365.4 1241.3 1364.6 1241.7" stroke-width="2.7"/>
<ellipse cx="1351.2" cy="1249.7" rx="13.3" ry="13.3" transform="rotate(0 1351.2 1249.7)" fill="none" stroke="#000" stroke-width="2.7"/>
<path d="M1293.1 1275.6C1292.7 1270.3 1294.1 1266.5 1296.8 1263.5C1299.4 1260.5 1304.6 1258 1308.9 1257.4C1313.1 1256.8 1318.5 1257.6 1322.2 1259.9C1325.8 1262.1 1329.4 1267.3 1330.7 1270.8C1331.9 1274.2 1329 1276 1329.4 1280.4C1329.8 1284.9 1332.9 1293.3 1333.1 1297.4C1333.3 1301.4 1333.5 1302.6 1330.7 1304.6C1327.8 1306.7 1320.8 1309.1 1316.1 1309.5C1311.5 1309.9 1305.6 1309.5 1302.8 1307.1C1300 1304.6 1300.8 1300.2 1299.2 1295C1297.6 1289.7 1293.5 1280.8 1293.1 1275.6ZM1300.4 1290.1C1302.2 1290.5 1308.1 1292.7 1311.3 1292.5C1314.5 1292.3 1318.3 1288.1 1319.8 1288.9C1321.2 1289.7 1319.8 1296 1319.8 1297.4M1327 1275.6 L1328.2 1285.3M1311.3 1310.7L1329.4 1419.9M1325.3 1309.5L1342.8 1419.9M1272.5 1292.1C1270.9 1292.5 1265.5 1293.5 1262.9 1295C1260.2 1296.5 1257.8 1298.6 1256.8 1301C1255.8 1303.4 1256.4 1306.9 1256.8 1309.5C1257.2 1312.1 1257 1315.1 1259.2 1316.8C1261.4 1318.5 1266.3 1319.7 1270.1 1319.7C1274 1319.7 1279.2 1318.5 1282.2 1316.8C1285.3 1315.1 1287.5 1312 1288.3 1309.5C1289.1 1307 1287.3 1303 1287.1 1301.7M1258 1307.1C1259.2 1307.5 1262.5 1309.3 1265.3 1309.5C1268.1 1309.7 1271.7 1309.5 1275 1308.3C1278.2 1307.1 1283 1303.2 1284.6 1302.2M1271.3 1292.5L1272.5 1301.7L1262.9 1304.6M1520 1336.1C1518.9 1336.5 1513.9 1336.5 1513.5 1338.5C1513 1340.6 1516 1345.8 1517.1 1348.2C1518.2 1350.7 1519.5 1352.3 1520 1353.1" stroke-width="2.7"/>
</g>
<clipPath id="c643"><rect x="1520" y="1140" width="400" height="280"/></clipPath>
<rect x="1520" y="1140" width="400" height="280" fill="#fff" stroke="none"/>
<g clip-path="url(#c643)">
<path d="M1744 1140C1751 1156.1 1773.2 1204.6 1786.3 1236.9C1799.5 1269.1 1812.6 1303.2 1822.7 1333.7C1832.8 1364.2 1842.8 1405.5 1846.9 1419.9M1725.8 1140C1731.9 1154.1 1750 1194.5 1762.1 1224.7C1774.2 1255 1787.6 1289.1 1798.5 1321.6C1809.3 1354.1 1822.7 1403.5 1827.5 1419.9M1696.8 1140C1698.8 1144 1704.4 1154.9 1708.9 1164.2C1713.3 1173.5 1720.4 1187.6 1723.4 1195.7C1726.4 1203.8 1727.4 1208 1727 1212.6C1726.6 1217.3 1724 1221.3 1721 1223.5C1717.9 1225.8 1713.3 1226.2 1708.9 1226C1704.4 1225.8 1707.7 1230.6 1694.3 1222.3C1681 1214.1 1648.9 1190 1629 1176.3C1609 1162.6 1583.6 1146.1 1574.5 1140M1624.1 1140C1631 1144.4 1653.6 1158.8 1665.3 1166.6C1677 1174.5 1687.5 1183 1694.3 1187.2C1701.2 1191.5 1703.2 1192.1 1706.4 1192.1C1709.7 1192.1 1712.3 1189 1713.7 1187.2C1715.1 1185.4 1714.7 1182.2 1714.9 1181.2M1762.1 1288.9C1763.3 1292.3 1767.4 1302.4 1769.4 1309.5C1771.4 1316.6 1773.4 1327.7 1774.2 1331.3M1771.8 1338.5C1773.8 1343.8 1780.1 1360.3 1783.9 1370C1787.8 1379.7 1792.9 1390.2 1794.8 1396.7C1796.8 1403.1 1796.6 1405.3 1795.5 1408.8C1794.5 1412.2 1792.3 1417.4 1788.8 1417.2C1785.2 1417 1776.7 1409.2 1774.2 1407.6" stroke-width="2.7"/>
<ellipse cx="1745.2" cy="1249.4" rx="23" ry="12.1" transform="rotate(48 1745.2 1249.4)" fill="none" stroke="#000" stroke-width="2.7"/>
<path d="M1767 1276.1L1760.9 1285.3L1762.1 1288.9M1730.7 1256.2L1760.9 1285.3M1520 1144.8C1535.3 1158 1587 1205.4 1612 1223.5C1637 1241.7 1657.6 1246.7 1670.1 1253.8C1682.6 1260.9 1675.8 1257 1687.1 1265.9C1698.4 1274.8 1723.6 1296.2 1737.9 1307.1C1752.2 1318 1767.2 1327.2 1773 1331.3M1556.3 1140C1574.5 1152.5 1636.2 1195.7 1665.3 1215.1C1694.3 1234.4 1719.8 1249.4 1730.7 1256.2M1520 1160.6C1528.1 1166.4 1553.5 1185.2 1568.4 1195.7C1583.4 1206.2 1602.7 1218.9 1609.6 1223.5M1612 1224.7C1612.8 1228.8 1614.4 1241.7 1616.9 1249C1619.3 1256.2 1622.5 1262.5 1626.5 1268.3C1630.6 1274.2 1638.6 1281.4 1641.1 1284.1M1643.5 1246.5L1733.1 1321.6L1774.2 1353.1M1520 1204.2C1540.2 1219.3 1597.7 1260.1 1641.1 1295C1684.4 1329.9 1757.1 1393.8 1780.3 1413.6M1520 1217.5C1540.2 1233.6 1600.7 1280.6 1641.1 1314.3C1681.4 1348.1 1742 1402.3 1762.1 1419.9M1520 1336.1L1629 1419.9M1526.1 1348.2L1619.3 1419.9M1520 1351.9C1521.6 1353.9 1515.2 1352.6 1529.7 1364C1544.1 1375.3 1593.8 1410.6 1606.7 1419.9" stroke-width="2.7"/>
<ellipse cx="1829.9" cy="1163" rx="23" ry="15.7" transform="rotate(0 1829.9 1163)" fill="none" stroke="#000" stroke-width="2.7"/>
<path d="M1810.6 1156.9C1811.8 1159 1813.8 1166.8 1817.8 1169.1C1821.9 1171.3 1829.9 1171.3 1834.8 1170.3C1839.6 1169.3 1844.9 1164.2 1846.9 1163M1814.2 1140L1825.1 1164.2L1843.2 1156.9L1834.8 1140M1820.2 1140L1826.3 1163M1856.6 1160.6L1920 1160.6" stroke-width="2.7"/>
</g>
<clipPath id="c652"><rect x="280" y="2360" width="420" height="294"/></clipPath>
<rect x="280" y="2360" width="420" height="294" fill="#fff" stroke="none"/>
<g clip-path="url(#c652)">
<path d="M280 2436.3C285.1 2443.1 301.6 2466.4 310.5 2476.9C319.4 2487.5 317.3 2485.8 333.4 2499.8C349.5 2513.8 382.1 2541.4 407.1 2560.8C432.1 2580.3 462.2 2601.5 483.4 2616.8C504.6 2632 525.8 2646.4 534.2 2652.4M296.5 2360L305.4 2421L315.6 2470.6L313.1 2475.7L309.2 2475.7M280 2390.5L305.4 2421M319.4 2445.2C319.2 2443.7 317.3 2438.4 318.1 2436.3C319 2434.2 322.4 2432.5 324.5 2432.5C326.6 2432.5 323.9 2430.8 330.8 2436.3C337.8 2441.8 360.5 2460.6 366.4 2465.5M366.4 2465.5C365.2 2464 360.5 2461.5 358.8 2456.6C357.1 2451.7 357.1 2447.3 356.3 2436.3C355.4 2425.3 354.4 2400.3 353.7 2390.5C353.1 2380.8 352 2380.8 352.5 2377.8C352.9 2374.7 354.4 2372.8 356.3 2372.2C358.2 2371.6 362.6 2373.7 363.9 2374M363.9 2374C379.6 2383.9 425.3 2413.6 458 2433.7C490.6 2453.9 530 2477.4 559.7 2494.7C589.3 2512.1 615.2 2526.1 635.9 2538C656.7 2549.8 674.3 2559.6 684.2 2565.9C694.2 2572.3 693.3 2572.3 695.7 2576.1C698 2579.9 697.8 2582.5 698.2 2588.8C698.6 2595.2 698.4 2605.8 698.2 2614.2C698 2622.7 698 2633.1 696.9 2639.7C695.9 2646.3 692.7 2651.5 691.9 2653.9M366.4 2465.5C377.5 2473.8 408.8 2498.3 432.5 2515.1C456.3 2531.8 483.4 2550.3 508.8 2565.9C534.2 2581.6 559.7 2596 585.1 2609.2C610.5 2622.3 645.3 2637.3 661.4 2644.7C677.5 2652.2 678.3 2652.4 681.7 2653.9M367.7 2360C374.3 2364.2 387.8 2373.1 407.1 2385.4C426.4 2397.7 458 2418.5 483.4 2433.7C508.8 2449 534.2 2463 559.7 2476.9C585.1 2490.9 612.5 2505.6 635.9 2517.6C659.3 2529.7 689.3 2544.1 700 2549.4M430 2360C438.9 2365.9 461.8 2382.5 483.4 2395.6C505 2408.7 534.2 2424.8 559.7 2438.8C585.1 2452.8 612.5 2467.2 635.9 2479.5C659.3 2491.8 689.3 2507 700 2512.5M562.2 2360L562.2 2361.5" stroke-width="2.7"/>
</g>
<clipPath id="c657"><rect x="1780" y="1980" width="320" height="224"/></clipPath>
<rect x="1780" y="1980" width="320" height="224" fill="#fff" stroke="none"/>
<g clip-path="url(#c657)">
<path d="M1803.2 1980C1802.8 1981.9 1800 1987.7 1800.3 1991.6C1800.7 1995.5 1802.4 2000.3 1805.2 2003.2C1807.9 2006.2 1813.3 2008.7 1816.8 2009.1C1820.4 2009.4 1824.9 2005.8 1826.5 2005.2M1813.9 1980C1813.4 1981.6 1810.8 1986.5 1811 1989.7C1811.2 1992.9 1812.9 1997.4 1814.9 1999.4C1816.8 2001.3 1821.3 2001 1822.6 2001.3" stroke-width="2.7"/>
<ellipse cx="1823.6" cy="1988.7" rx="5.8" ry="7.7" transform="rotate(0 1823.6 1988.7)" fill="none" stroke="#000" stroke-width="2.7"/>
<path d="M1821.6 1983.9L1871 2011M1826.5 2005.2L1863.3 2023.6M1871 2011L1876.9 2020.7L1863.3 2023.6M1825.5 1997.4C1826.3 1996.5 1829.4 1993.2 1830.4 1991.6C1831.3 1990 1831.2 1988.4 1831.3 1987.7M1832.3 2000.3C1833.1 1999.4 1836.2 1996.1 1837.1 1994.5C1838.1 1992.9 1837.9 1991.3 1838.1 1990.7M1838.1 2003.2C1838.9 2002.3 1841.8 1999 1843 1997.4C1844.1 1995.8 1844.6 1994.2 1844.9 1993.6M1844.9 2007.1C1845.7 2006.2 1848.6 2002.9 1849.7 2001.3C1850.9 1999.7 1851.3 1998.1 1851.7 1997.4M1850.7 2011C1851.5 2010 1854.4 2007 1855.5 2005.2C1856.7 2003.4 1857.2 2001.1 1857.5 2000.3M1857.5 2014.9C1858.1 2013.9 1860.2 2010.8 1861.4 2009.1C1862.5 2007.3 1863.8 2005 1864.3 2004.2M1863.3 2018.7C1863.9 2017.8 1866.1 2014.5 1867.2 2012.9C1868.2 2011.3 1869.1 2009.7 1869.5 2009.1M1878.8 2023.6L1890.4 2031.3M1787.7 2038.1L1828.4 2014.9" stroke-width="2.7"/>
<ellipse cx="1869.1" cy="2057.5" rx="5.8" ry="5.8" transform="rotate(0 1869.1 2057.5)" fill="none" stroke="#000" stroke-width="2.7"/>
<path d="M1864.3 2060.4L1844.9 2071M1844.9 2071L1838.1 2069.1L1830.4 2073L1827.5 2076.9L1828.4 2084.6L1836.2 2083.6L1843.9 2078.8Z" stroke-width="2.7"/>
<ellipse cx="1824.2" cy="2084.6" rx="5.4" ry="9.3" transform="rotate(-15 1824.2 2084.6)" fill="none" stroke="#000" stroke-width="2.7"/>
<path d="M1819.7 2077.8L1780 2098.2M1825.5 2092.3L1780 2116.6M1892.3 2061.4C1892.5 2057.5 1892 2044.2 1893.3 2038.1C1894.6 2032 1897.4 2027.6 1900.1 2024.6C1902.8 2021.5 1906.6 2020 1909.8 2019.7C1913 2019.4 1916.6 2021.8 1919.5 2022.6C1922.4 2023.4 1924.6 2024.1 1927.2 2024.6C1929.8 2025 1932.1 2024.2 1935 2025.5C1937.9 2026.8 1942.7 2029.9 1944.6 2032.3C1946.6 2034.7 1945 2037.1 1946.6 2040C1948.2 2043 1953 2048.1 1954.3 2049.7M1890.4 2094.3C1890.1 2091.4 1888.2 2082.3 1888.5 2076.9C1888.8 2071.4 1891.7 2063.9 1892.3 2061.4M1919.5 2022.6C1917.5 2025.2 1911.4 2032.3 1907.8 2038.1C1904.3 2043.9 1900.6 2051 1898.2 2057.5C1895.7 2063.9 1894.1 2073.6 1893.3 2076.9M1927.2 2024.9C1925.3 2027.5 1919.5 2034 1915.6 2040C1911.7 2046.1 1906.7 2055.2 1904 2061.4C1901.2 2067.5 1899.9 2074.3 1899.1 2076.9" stroke-width="2.7"/>
<ellipse cx="1930.1" cy="2047.8" rx="11.6" ry="16.5" transform="rotate(25 1930.1 2047.8)" fill="none" stroke="#000" stroke-width="2.7"/>
<ellipse cx="1929.2" cy="2049.7" rx="4.3" ry="6.2" transform="rotate(25 1929.2 2049.7)" fill="none" stroke="#000" stroke-width="2.7"/>
<ellipse cx="1955.3" cy="2067.2" rx="7.7" ry="11.6" transform="rotate(15 1955.3 2067.2)" fill="none" stroke="#000" stroke-width="2.7"/>
<ellipse cx="1955.3" cy="2067.2" rx="2.9" ry="4.3" transform="rotate(0 1955.3 2067.2)" fill="none" stroke="#000" stroke-width="2.7"/>
<path d="M1954.3 2054.6C1955.6 2054.3 1960 2052.2 1962.1 2052.6C1964.2 2053.1 1966.1 2055.4 1966.9 2057.5C1967.7 2059.6 1966.9 2063.9 1966.9 2065.2M1946.6 2074.9C1946.9 2075.6 1946.7 2078 1948.5 2078.8C1950.3 2079.6 1955.8 2079.6 1957.2 2079.8M1904 2081.7L1926.2 2072.6M1903 2082.7L1947.6 2065.2M1925.3 2065.2L1922.4 2107.8M1891.4 2096.2L1946.6 2070.1M1966.9 2084.6C1965.8 2085.9 1962.9 2090.1 1960.1 2092.3C1957.4 2094.6 1957.2 2094.9 1950.5 2098.2C1943.7 2101.4 1924.6 2109.5 1919.5 2111.7M1861 2104L1887.5 2089.4L1896.2 2094.3L1896.2 2105.9L1874.9 2118.5L1861 2113.7ZM1861 2104L1874.9 2108.8L1874.9 2118.5M1874.9 2108.8L1896.2 2097.2M1861 2107.8L1865.2 2109.4L1865.2 2113.7M1885.6 2113.7L1879.8 2158.2L1881.7 2165L1888.5 2166.3L1923.3 2152.4L1933 2155.3L1940.8 2153.4L1944.3 2125.3L1919.5 2109.8M1896.2 2111.7L1894.3 2140.8L1905.9 2148.5L1919.5 2133L1936.9 2140.8M1911.7 2115.6L1911.7 2127.2L1919.5 2133M1915.6 2127.2L1935 2120.4L1934 2136.9M1896.2 2113.7C1895.6 2117.2 1894.3 2127.5 1892.3 2135C1890.4 2142.4 1885.9 2154.3 1884.6 2158.2M1897.2 2129.2L1907.8 2119.5M1923.3 2152.4L1929.2 2144.6L1936.9 2144.6M1896.2 2170.8L1896.2 2203.9M2046.9 2142.7L2046.9 2196M1987.3 2186.3L1987.3 2203.9M1972.7 1980C1974.2 1984.8 1979.4 1997.1 1981.5 2009.1C1983.6 2021 1984.7 2044.6 1985.3 2051.7M1971.8 2028.4L2051.2 1980M1958.2 2069.1L2005.7 2097.2" stroke-width="2.7"/>
<ellipse cx="2015.4" cy="2109.4" rx="9.3" ry="21.7" transform="rotate(-5 2015.4 2109.4)" fill="none" stroke="#000" stroke-width="2.7"/>
<path d="M2018.3 2089.4C2020.5 2089 2027.9 2086.4 2031.8 2086.5C2035.7 2086.7 2039.6 2087.8 2041.5 2090.4C2043.4 2093 2043.1 2100.1 2043.4 2102M2012.4 2107.8C2012.3 2109.8 2011 2115.9 2011.5 2119.5C2012 2123 2014.7 2127.5 2015.4 2129.2M2023.1 2104C2024.7 2101.7 2029.1 2100.1 2031.8 2100.1C2034.6 2100.1 2034.1 2101.2 2039.6 2104C2045.1 2106.7 2059.9 2113 2064.7 2116.6C2069.6 2120.1 2068.6 2122.5 2068.6 2125.3C2068.6 2128 2067.7 2131.4 2064.7 2133C2061.8 2134.6 2056 2135.6 2051.2 2135C2046.3 2134.3 2040.2 2131.1 2035.7 2129.2C2031.2 2127.2 2026.3 2125.9 2024.1 2123.3C2021.8 2120.8 2022.3 2116.9 2022.1 2113.7C2022 2110.4 2021.5 2106.2 2023.1 2104ZM2025 2116.6C2027.1 2117.4 2032.6 2119.6 2037.6 2121.4C2042.6 2123.2 2050.5 2125.9 2055.1 2127.2C2059.6 2128.5 2063.1 2128.8 2064.7 2129.2" stroke-width="2.7"/>
<ellipse cx="1760.2" cy="2173.1" rx="26.3" ry="35.6" transform="rotate(15 1760.2 2173.1)" fill="none" stroke="#000" stroke-width="2.7"/>
<ellipse cx="1755.6" cy="2173.1" rx="26.3" ry="35.6" transform="rotate(15 1755.6 2173.1)" fill="#fff" stroke="#000" stroke-width="2.7"/>
<circle cx="1763.3" cy="2151.8" r="2.8" fill="#000"/>
<circle cx="1775" cy="2150.7" r="2.8" fill="#000"/>
<circle cx="1744" cy="2173.1" r="2.8" fill="#000"/>
<circle cx="1742" cy="2192.5" r="2.8" fill="#000"/>
<circle cx="1754.8" cy="2201" r="2.8" fill="#000"/>
<circle cx="1756.4" cy="2184" r="2.8" fill="#000"/>
<circle cx="1749.8" cy="2158.4" r="2.8" fill="#000"/>
<circle cx="1768" cy="2200.2" r="2.8" fill="#000"/>
<ellipse cx="1766.4" cy="2175.1" rx="14.7" ry="18.6" transform="rotate(10 1766.4 2175.1)" fill="#fff" stroke="#000" stroke-width="2.7"/>
<ellipse cx="1771.9" cy="2177" rx="14.7" ry="18.6" transform="rotate(10 1771.9 2177)" fill="#fff" stroke="#000" stroke-width="2.7"/>
<ellipse cx="1778.8" cy="2181.6" rx="10.8" ry="13.9" transform="rotate(10 1778.8 2181.6)" fill="#fff" stroke="#000" stroke-width="2.7"/>
<ellipse cx="1787.4" cy="2188.6" rx="7.7" ry="10.5" transform="rotate(10 1787.4 2188.6)" fill="#fff" stroke="#000" stroke-width="2.7"/>
<path d="M1792.4 2178.9C1794.3 2181.2 1802.4 2187 1804 2192.5C1805.6 2198 1805.6 2205.4 1802.1 2211.9C1798.5 2218.3 1791.1 2225.7 1782.7 2231.2C1774.3 2236.7 1760.1 2242.5 1751.7 2244.8C1743.3 2247.1 1737.6 2245.2 1732.3 2244.8C1727.1 2244.3 1722 2242.5 1720 2242.1M1785.8 2199.1C1786.6 2200.6 1792.3 2203.9 1790.5 2208C1788.7 2212.1 1782.1 2219.2 1775 2223.5C1767.9 2227.8 1754.9 2232.1 1747.8 2233.9C1740.7 2235.8 1737 2234.8 1732.3 2234.3C1727.7 2233.9 1722 2231.8 1720 2231.2" stroke-width="2.7"/>
</g>
<clipPath id="c690"><rect x="640" y="1990" width="260" height="182"/></clipPath>
<rect x="640" y="1990" width="260" height="182" fill="#fff" stroke="none"/>
<g clip-path="url(#c690)">
<path d="M685.3 1996.3L685.3 2038.8M834.7 1990L834.7 2046.3M663.6 2037.2L670.7 2037.2L695.9 2053M655.7 2046.7C656.3 2045.6 657.6 2041.9 658.9 2040.4C660.2 2038.8 662.8 2037.7 663.6 2037.2M655.7 2046.7C655.7 2049 655.6 2056.5 655.7 2060.8C655.9 2065.2 656.4 2070.7 656.5 2072.6M656.5 2072.6L670.7 2082.9L679.3 2084.4M680.1 2045.9C679.1 2047.6 675 2051.8 673.8 2056.1C672.7 2060.4 672.4 2067.4 673.1 2071.8C673.7 2076.3 676.3 2080.6 677.8 2082.9C679.2 2085.1 680.3 2085.2 681.7 2085.2C683.1 2085.2 685.6 2083.3 686.4 2082.9M687.2 2050.6C686.3 2052 682.8 2055.7 681.7 2059.2C680.7 2062.8 680.5 2068.2 680.9 2071.8C681.3 2075.5 683.5 2079.7 684.1 2081.3M693.5 2053C692.9 2054.3 690.5 2057.7 689.6 2060.8C688.7 2064 687.9 2068.2 688 2071.8C688.1 2075.5 689.2 2080.6 690.4 2082.9C691.5 2085.1 693 2085 695.1 2085.2C697.2 2085.5 701.6 2084.6 703 2084.4M699 2061.6C698.4 2062.8 695.7 2065.9 695.1 2068.7C694.4 2071.4 694.7 2075.6 695.1 2078.1C695.5 2080.6 697.1 2082.7 697.4 2083.6M695.9 2053C697.1 2054.3 701.4 2058.2 703 2060.8C704.5 2063.4 704.9 2067.4 705.3 2068.7M681.7 2080.5L686.4 2080.5M703 2070.3C705.6 2071.6 713.4 2075.3 718.7 2078.1C723.9 2081 729.7 2085.7 734.4 2087.6C739.2 2089.4 742.8 2089.2 747 2089.2C751.2 2089.2 757.5 2087.8 759.6 2087.6M702.2 2079.7C704.9 2081.3 713.3 2086.3 718.7 2089.2C724.1 2092 729.7 2095.4 734.4 2097C739.2 2098.6 742.6 2099.4 747 2098.6C751.5 2097.8 758.8 2093.3 761.2 2092.3M718.7 2041.9C718.6 2039.8 718.1 2032.4 718.4 2029.3C718.6 2026.3 718.6 2024.9 720.3 2023.8C721.9 2022.8 726 2022.9 728.1 2023.1C730.2 2023.2 732.1 2024.4 732.9 2024.6M732.9 2024.6L740.7 2019.1L740.7 2013.6M740.7 2013.6C741.3 2013 742.3 2010.3 743.9 2009.7C745.4 2009 749.1 2009.7 750.2 2009.7M750.2 2009.7L819.4 2049.8L823.4 2067.9" stroke-width="2.7"/>
<ellipse cx="728.1" cy="2037.2" rx="4.4" ry="7.6" transform="rotate(-10 728.1 2037.2)" fill="none" stroke="#000" stroke-width="2.7"/>
<path d="M737.6 2027C738.1 2025.8 738.6 2021.5 740.7 2019.9C742.8 2018.3 747.8 2017.3 750.2 2017.5C752.5 2017.8 753.8 2019.5 754.9 2021.5C755.9 2023.4 756.2 2028 756.5 2029.3M756.5 2029.3L740.7 2039.6M737.6 2027C737.8 2028.2 738.6 2032 739.2 2034.1C739.7 2036.2 740.5 2038.7 740.7 2039.6M743.9 2016C744.4 2015.6 745.7 2013.7 747 2013.6C748.3 2013.5 750.2 2013.9 751.7 2015.2C753.3 2016.5 755.7 2020.4 756.5 2021.5M761.2 2021.5L762.8 2059.2M764.3 2021.5L764.3 2059.2M718.7 2041.9C719 2043.2 719.2 2047.7 720.3 2049.8C721.3 2051.9 718.2 2048.8 725 2054.5C731.8 2060.3 755.2 2079.4 761.2 2084.4M734.4 2025.4C735.2 2027.4 738.1 2033.9 739.2 2037.2C740.2 2040.5 739.4 2043 740.7 2045.1C742 2047.2 743.9 2047.8 747 2049.8C750.2 2051.8 756.7 2055.3 759.6 2056.9C762.5 2058.5 762.8 2059.4 764.3 2059.2C765.9 2059.1 768.4 2057.9 769.1 2056.1C769.7 2054.3 768.4 2049.5 768.3 2048.2M768.3 2048.2L794.2 2037.2M773.8 2049.8L797.4 2063.2L819.4 2050.6M797.4 2063.2C797.9 2065.7 800 2072.5 800.5 2078.1C801.1 2083.8 799.7 2092.7 800.5 2097C801.3 2101.3 803.7 2103.2 805.3 2104.1C806.8 2105 808.9 2105.8 810 2102.5C811 2099.3 810.8 2088.9 811.5 2084.4C812.3 2080 814.2 2077.2 814.7 2075.8M736.8 2050.6L762.8 2064L764.3 2068.7M736.8 2051.4L737.6 2058.5" stroke-width="2.7"/>
<path d="M738.4 2053L762 2082.9" stroke-width="4"/>
<ellipse cx="779.3" cy="2068.7" rx="5.5" ry="8.7" transform="rotate(-20 779.3 2068.7)" fill="none" stroke="#000" stroke-width="2.7"/>
<path d="M761.2 2084.4L775.4 2098.6M769.1 2089.9C769.8 2089.5 772.5 2087.4 773.8 2087.6C775.1 2087.7 776.7 2089.2 776.9 2090.7C777.2 2092.3 775.1 2094.4 775.4 2097C775.6 2099.6 778 2102.3 778.5 2106.5C779 2110.7 778.5 2119.6 778.5 2122.2" stroke-width="2.7"/>
<ellipse cx="787.9" cy="2097.8" rx="2.8" ry="6.3" transform="rotate(-25 787.9 2097.8)" fill="none" stroke="#000" stroke-width="2.7"/>
<path d="M791.1 2100.2C791.6 2101.2 793.5 2104.5 794.2 2106.5C795 2108.4 795.5 2111.1 795.8 2112M814.7 2075.8L838.3 2061.6L866.6 2079.7L866.6 2141.1L844.6 2153.7L844.6 2090.7L819.4 2075.8M844.6 2090.7L866.6 2079.7M814.7 2075.8C814 2077.2 811.4 2080.4 810.8 2084.4C810.1 2088.5 810.8 2097.5 810.8 2100.2M824.1 2094.7C825.2 2094.3 828.5 2091.6 830.4 2092.3C832.4 2093 835.2 2096.2 835.9 2098.6C836.7 2101 835.7 2104.8 835.2 2106.5C834.6 2108.2 833.2 2108.4 832.8 2108.8M805.3 2117.5L822.6 2108.8" stroke-width="2.7"/>
<ellipse cx="814.7" cy="2129.3" rx="3.9" ry="6.6" transform="rotate(-20 814.7 2129.3)" fill="none" stroke="#000" stroke-width="2.7"/>
<path d="M736 2156.8L793.5 2125.4M736 2156.8L736 2171.9M844.6 2153.7L822.6 2167.8L811.5 2169.4M784.8 2141.1C785.3 2141.9 786.6 2145 787.9 2145.8C789.3 2146.6 792 2147.4 792.7 2145.8C793.3 2144.2 792 2137.9 791.9 2136.4M775.4 2145C776.4 2146.2 778.4 2150 781.6 2152.1C784.9 2154.2 792.8 2156.7 795 2157.6M810.8 2146.6C811.9 2147 816.5 2147.5 817.8 2149C819.2 2150.4 819.7 2153.4 818.6 2155.3C817.6 2157.1 812.7 2159.2 811.5 2160M810.8 2146.6L810.8 2152.1L814.7 2152.9M743.9 2163.1L753.3 2158.4L773.8 2169.4M747 2161.5L765.9 2171.9M640 2092.3L734.4 2146.6M640 2099.4L727.3 2149.7M640 2107.3L725.8 2156M640 2114.3L690.4 2160L703 2160L709.2 2163.1L714 2171.9M640 2128.5L690.4 2160" stroke-width="2.7"/>
<circle cx="641.6" cy="2103.3" r="2.8" fill="#000"/>
<circle cx="655.7" cy="2107.3" r="2.8" fill="#000"/>
<circle cx="651.8" cy="2116.7" r="2.8" fill="#000"/>
<circle cx="668.3" cy="2120.6" r="2.8" fill="#000"/>
<circle cx="679.3" cy="2121.4" r="2.8" fill="#000"/>
<circle cx="680.1" cy="2131.6" r="2.8" fill="#000"/>
<circle cx="691.2" cy="2128.5" r="2.8" fill="#000"/>
<circle cx="695.1" cy="2138.7" r="2.8" fill="#000"/>
<circle cx="705.3" cy="2133.2" r="2.8" fill="#000"/>
<circle cx="710" cy="2147.4" r="2.8" fill="#000"/>
<circle cx="721.1" cy="2145" r="2.8" fill="#000"/>
<circle cx="720.3" cy="2155.3" r="2.8" fill="#000"/>
<path d="M875.3 2123.8L900 2108.8M863.5 2159.2L900 2171.9" stroke-width="2.7"/>
</g>
<clipPath id="c717"><rect x="1360" y="1770" width="200" height="140"/></clipPath>
<rect x="1360" y="1770" width="200" height="140" fill="#fff" stroke="none"/>
<g clip-path="url(#c717)">
<path d="M1372.1 1770C1372.7 1771 1373.7 1774.4 1375.7 1776.1C1377.8 1777.7 1380.8 1779.3 1384.2 1779.7C1387.6 1780.1 1392.9 1779.5 1396.3 1778.5C1399.7 1777.5 1402.8 1775 1404.8 1773.6C1406.8 1772.2 1407.8 1770.6 1408.4 1770M1379.4 1780.9C1380.2 1782.1 1382.2 1786.4 1384.2 1788.2C1386.2 1789.9 1389.1 1791 1391.5 1791.2C1393.9 1791.4 1396.5 1790.5 1398.7 1789.4C1401 1788.3 1403.8 1785.3 1404.8 1784.5M1378.8 1783.3L1377.6 1816M1377.6 1816C1378.1 1817.4 1378.5 1822.2 1380.6 1824.5C1382.7 1826.8 1387 1829.1 1390.3 1829.9C1393.5 1830.7 1396.9 1830.4 1400 1829.3C1403 1828.2 1406.2 1825.5 1408.4 1823.3C1410.6 1821 1412.2 1818.6 1413.3 1816C1414.4 1813.4 1415.3 1810.8 1415.1 1807.5C1414.9 1804.3 1413.2 1800.7 1412.1 1796.6C1410.9 1792.6 1409.6 1786.1 1408.4 1783.3C1407.2 1780.5 1405.4 1780.3 1404.8 1779.7" stroke-width="2.7"/>
<ellipse cx="1405" cy="1814.8" rx="7.3" ry="13.6" transform="rotate(20 1405 1814.8)" fill="none" stroke="#000" stroke-width="2.7"/>
<path d="M1390.3 1796L1390.3 1826.9M1383.6 1785.7C1384.3 1786.4 1385.9 1789.3 1387.8 1790C1389.8 1790.7 1392.9 1790.6 1395.1 1790C1397.3 1789.4 1400.2 1786.9 1401.2 1786.3M1448.4 1826.9C1447.8 1825.7 1446.6 1821.5 1444.7 1819.6C1442.9 1817.8 1439.9 1816.5 1437.5 1816C1435.1 1815.5 1432.4 1815.8 1430.2 1816.6C1428 1817.4 1425.6 1818.9 1424.2 1820.8C1422.8 1822.8 1421.9 1825.5 1421.7 1828.1C1421.5 1830.7 1421.7 1834.2 1423 1836.6C1424.2 1839 1426.6 1841.5 1429 1842.6C1431.4 1843.7 1436.1 1843.1 1437.5 1843.2M1444.7 1825.1C1443.9 1825.6 1441.2 1826.6 1439.9 1828.1C1438.6 1829.6 1437.3 1831.9 1436.9 1834.2C1436.5 1836.4 1437.4 1840.2 1437.5 1841.4M1437.5 1841.4L1447.8 1846.3M1444.7 1825.1L1452 1829.3M1452 1829.3C1453.4 1828.7 1457.7 1827 1460.5 1825.7C1463.3 1824.4 1466.6 1822.1 1469 1821.5C1471.3 1820.8 1473.1 1821.4 1474.4 1822.1C1475.7 1822.8 1476.3 1823.9 1476.8 1825.7C1477.3 1827.5 1476.9 1830.7 1477.4 1833C1477.9 1835.2 1478.4 1837.4 1479.9 1839C1481.3 1840.6 1484.9 1842 1485.9 1842.6M1485.9 1842.6L1502.9 1850.5L1515 1857.2L1527.7 1876.5L1528.3 1891.1L1508.3 1901.4L1505.9 1910M1452 1829.3C1451.4 1830.7 1449.1 1832.8 1448.4 1837.8C1447.7 1842.8 1446.8 1854.3 1447.8 1859.6C1448.8 1864.8 1452.5 1866.9 1454.4 1869.3C1456.3 1871.7 1458.5 1873.3 1459.3 1874.1M1459.3 1874.1L1462.9 1891.1L1467.7 1903.2L1467.7 1910" stroke-width="2.7"/>
<ellipse cx="1463.5" cy="1845.3" rx="7.5" ry="13.1" transform="rotate(25 1463.5 1845.3)" fill="none" stroke="#000" stroke-width="2.7"/>
<path d="M1459.9 1866.9C1460.4 1866.2 1461.6 1863.8 1462.9 1863.2C1464.2 1862.6 1466.6 1862.6 1467.7 1863.2C1468.9 1863.8 1468.6 1863 1469.6 1866.9C1470.6 1870.7 1473.1 1883 1473.8 1886.2M1473.8 1886.2L1487.1 1879.6L1527.1 1891.1M1487.1 1879.6L1486.5 1870.5L1492 1863.2L1486.5 1843.2M1493.8 1863.8L1527.7 1878.4M1472.6 1894.1L1478 1895.9L1477.4 1888M1472.6 1895.3L1507.1 1904.4M1506.5 1774.2L1506.5 1839.6M1550.7 1839L1560 1842.6" stroke-width="2.7"/>
</g>
<clipPath id="c726"><rect x="400" y="2060" width="300" height="210"/></clipPath>
<rect x="400" y="2060" width="300" height="210" fill="#fff" stroke="none"/>
<g clip-path="url(#c726)">
<path d="M400 2078.2L420 2069.1L435.4 2078.2L445.4 2068.2M419.1 2099L419.1 2085.4L436.3 2078.2M400 2090L418.2 2099L452.7 2084.5L452.7 2060M423.6 2101.8C425.1 2103.9 429.7 2109.9 432.7 2114.5C435.7 2119 440.3 2126.6 441.8 2129M449 2090.9C450.8 2093.6 454.5 2101.8 459.9 2107.2C465.4 2112.7 473.5 2116.9 481.7 2123.6C489.9 2130.2 499.9 2139.9 509 2147.2C518 2154.4 527.1 2160.8 536.2 2167.1C545.3 2173.5 555 2180.2 563.4 2185.3C571.9 2190.4 583.1 2195.9 587 2198M459.9 2060C460.5 2061.5 460.8 2066.1 463.6 2069.1C466.3 2072.1 469.9 2073.6 476.3 2078.2C482.6 2082.7 493.2 2090.3 501.7 2096.3C510.2 2102.4 520.5 2109.9 527.1 2114.5C533.8 2119 536.8 2119.3 541.6 2123.6C546.5 2127.8 551 2133.5 556.2 2139.9C561.3 2146.3 567.1 2155 572.5 2161.7C578 2168.4 584 2175 588.9 2179.9C593.7 2184.7 597.6 2187.4 601.6 2190.8C605.5 2194.1 610.7 2198.3 612.5 2199.8M479 2060C479.4 2061.5 479.1 2066.4 481.7 2069.1C484.3 2071.8 488.4 2073.3 494.4 2076.3C500.5 2079.4 510.8 2083.6 518 2087.2C525.3 2090.9 530.4 2092.7 538 2098.1C545.6 2103.6 559.2 2116.3 563.4 2119.9M537.1 2098.1L567.1 2080.9M558.9 2093.1L690.6 2159.5L700 2158.1M566.2 2120.8L588.9 2109L582.5 2132.6M561.6 2127.6C565 2128.4 574.3 2129.7 581.6 2132.6C588.9 2135.6 598.4 2141.4 605.2 2145.4C612 2149.3 618.8 2152.9 622.5 2156.2C626.1 2159.6 625.9 2162.3 627 2165.3C628.1 2168.4 626.7 2171.7 628.8 2174.4C630.9 2177.1 637 2181.4 639.7 2181.7C642.4 2182 643 2177.4 645.2 2176.2C647.3 2175 649.5 2173.5 652.4 2174.4C655.3 2175.3 661.2 2179.6 662.4 2181.7C663.6 2183.8 660.1 2181.7 659.7 2187.1C659.2 2192.6 658.2 2208.9 659.7 2214.4C661.2 2219.8 667.3 2218.9 668.8 2219.8" stroke-width="2.7"/>
<ellipse cx="609.7" cy="2163.1" rx="4.5" ry="7.6" transform="rotate(-10 609.7 2163.1)" fill="none" stroke="#000" stroke-width="2.7"/>
<path d="M661.5 2190.8C663.3 2192 668.2 2197.3 672.4 2198C676.6 2198.8 682.3 2195 686.9 2195.3C691.5 2195.6 697.8 2199.1 700 2199.8M692.4 2208.9C693 2208.6 694.7 2207.2 696 2207.1C697.3 2206.9 699.3 2207.9 700 2208M539.8 2060L690.6 2159.5M558 2062.7L700 2146.8M564.3 2060L700 2137.7M581.6 2060L700 2127.6" stroke-width="2.7"/>
<circle cx="558" cy="2063.6" r="2.8" fill="#000"/>
<circle cx="578" cy="2073.6" r="2.8" fill="#000"/>
<circle cx="596.1" cy="2083.6" r="2.8" fill="#000"/>
<circle cx="625.2" cy="2103.6" r="2.8" fill="#000"/>
<circle cx="652.4" cy="2118.1" r="2.8" fill="#000"/>
<circle cx="679.7" cy="2131.7" r="2.8" fill="#000"/>
<circle cx="592.5" cy="2068.2" r="2.8" fill="#000"/>
<circle cx="610.7" cy="2081.8" r="2.8" fill="#000"/>
<circle cx="619.7" cy="2087.2" r="2.8" fill="#000"/>
<circle cx="634.3" cy="2091.8" r="2.8" fill="#000"/>
<circle cx="641.5" cy="2103.6" r="2.8" fill="#000"/>
<circle cx="656.1" cy="2108.1" r="2.8" fill="#000"/>
<circle cx="668.8" cy="2120.8" r="2.8" fill="#000"/>
<circle cx="679.7" cy="2122.7" r="2.8" fill="#000"/>
<circle cx="691.5" cy="2129" r="2.8" fill="#000"/>
<circle cx="697.8" cy="2139" r="2.8" fill="#000"/>
<path d="M656.1 2060C656.1 2062.1 653.3 2069.1 656.1 2072.7C658.8 2076.3 668.2 2080 672.4 2081.8C676.6 2083.6 680 2083.3 681.5 2083.6M681.5 2083.6L683.3 2078.2M676 2060C675.7 2061.5 674.2 2066.1 674.2 2069.1C674.2 2072.1 675 2076.2 676 2078.2C677.1 2080.1 679.8 2080.4 680.6 2080.9M690.6 2060C690.3 2061.5 688.7 2066.1 688.7 2069.1C688.7 2072.1 690.3 2076.6 690.6 2078.2M697.8 2065.4C697.2 2066.4 694.6 2068.8 694.2 2070.9C693.7 2073 694.1 2076.6 695.1 2078.2C696.1 2079.7 699.2 2079.7 700 2080M400 2127.2C400.6 2126 401.8 2121.6 403.6 2119.9C405.4 2118.3 408.2 2117.8 410.9 2117.2C413.6 2116.6 418.5 2116.4 420 2116.3M400 2106.3L443.6 2130.8M443.6 2130.8C441.5 2131.7 433.6 2133.5 430.9 2136.3C428.1 2139 428 2142.9 427.2 2147.2C426.5 2151.4 426.5 2159.3 426.3 2161.7" stroke-width="2.7"/>
<ellipse cx="434.5" cy="2166.8" rx="8.2" ry="5.1" transform="rotate(0 434.5 2166.8)" fill="none" stroke="#000" stroke-width="2.7"/>
<path d="M423.6 2165.3L423.6 2269.9M433.6 2172.6L433.6 2269.9M436.3 2174.4L453.6 2165.3M443.6 2130.8L659.7 2226.2M441.8 2148.1L651.5 2231.6M453.6 2165.3L634.3 2241.6M459.9 2173.5L618.8 2251M454.5 2178.9L608.8 2256.5M439 2176.2L594.3 2265.2M400 2179.9L419.1 2195.3M400 2204.4L416.3 2215.3M605.2 2269.9L700 2218M678.8 2237.1L700 2235.2M667.9 2242.5L700 2259.8M651.5 2251.6L683.3 2269.9M635.2 2260.7L654.2 2269.9M625.2 2266.1L634.3 2269.9" stroke-width="2.7"/>
</g>
<clipPath id="c752"><rect x="960" y="880" width="240" height="168"/></clipPath>
<rect x="960" y="880" width="240" height="168" fill="#fff" stroke="none"/>
<g clip-path="url(#c752)">
<path d="M961.5 880C962.2 883.9 964.4 896.2 965.8 903.2C967.3 910.3 966.3 915.8 970.2 922.1C974 928.4 982.8 935.7 989.1 941C995.4 946.3 1002.4 950.8 1007.9 954.1C1013.5 957.4 1011.1 957 1022.5 960.6C1033.8 964.3 1057.6 970.9 1076.2 975.9C1094.9 980.8 1122.2 987.7 1134.3 990.4C1146.4 993.1 1143.5 992 1148.9 991.9C1154.2 991.7 1161.9 990.7 1166.3 989.7C1170.7 988.7 1173 987.6 1175 986.1C1177.1 984.5 1178.2 981.9 1178.6 980.2C1179.1 978.5 1178 976.6 1177.9 975.9M989.8 880C990 882.2 988.9 888.2 991.2 893.1C993.5 897.9 998.6 904.9 1003.6 909.1C1008.5 913.2 1008.9 913.2 1021 917.8C1033.1 922.4 1058.5 930.8 1076.2 936.7C1093.9 942.5 1115 949.2 1127.1 952.6C1139.2 956 1145.2 956.3 1148.9 957M960 938.1L978.9 1001.3M978.9 1001.3C984.2 1000.6 999.5 997.8 1010.8 996.9C1022.2 996.1 1037.5 996 1047.2 996.2C1056.9 996.5 1056.9 996.5 1069 998.4C1081.1 1000.3 1104.1 1004.6 1119.8 1007.8C1135.5 1011.1 1156.1 1016.3 1163.4 1018M960 1004.9L971.6 1002M960 1021.6C967.3 1020.3 990.3 1015.2 1003.6 1013.7C1016.9 1012.1 1027.8 1011.8 1039.9 1012.2C1052 1012.6 1064.1 1014.1 1076.2 1015.8C1088.3 1017.5 1100.4 1020.1 1112.5 1022.4C1124.6 1024.7 1142.8 1028.4 1148.9 1029.6" stroke-width="2.7"/>
<ellipse cx="1000" cy="966.4" rx="17.1" ry="7.6" transform="rotate(45 1000 966.4)" fill="none" stroke="#000" stroke-width="2.7"/>
<path d="M1026.1 880C1032 883.1 1046.1 890.4 1061.7 898.9C1077.3 907.4 1101.9 921.3 1119.8 930.8C1137.7 940.4 1161 952 1169.2 956.3M1169.2 956.3L1174.3 962.1L1200 975.2M1038.5 882.2C1049.6 887.4 1078.4 900.7 1105.3 913.4C1132.2 926.1 1184.2 950.9 1200 958.5M1108.2 880L1200 926.5M1140.1 880C1146.4 882.9 1169.7 894 1177.9 897.4C1186.2 900.8 1185.9 900.2 1189.5 900.3C1193.2 900.5 1198.3 898.5 1200 898.2M1200 1000.6L1146.7 1044.2M1181.5 1024.6L1200 1030.4M1167.7 1036.2L1200 1047.1" stroke-width="2.7"/>
</g>
<clipPath id="c759"><rect x="860" y="740" width="240" height="168"/></clipPath>
<rect x="860" y="740" width="240" height="168" fill="#fff" stroke="none"/>
<g clip-path="url(#c759)">
<path d="M862.9 740C864.4 744.8 867.3 753.3 871.6 769.1C876 784.8 883 811.3 889.1 834.4C895.1 857.6 904.8 895.7 907.9 907.9M877.4 740C878.6 744.8 881.5 756.9 884.7 769.1C887.8 781.2 893.2 801.5 896.3 812.6C899.5 823.8 900.4 824.7 903.6 835.9C906.7 847 913.3 872.2 915.2 879.5M915.2 879.5L947.2 896.9L950.1 907.9M888.3 740C889.2 743.6 891.6 754.3 893.4 761.8C895.2 769.3 898.3 781.2 899.2 785M860 771.2C863.6 768.9 875.5 761.4 881.8 757.4C888.1 753.4 892.4 750.2 897.8 747.3C903.1 744.4 911.1 741.2 913.8 740" stroke-width="2.7"/>
<ellipse cx="915.9" cy="759.6" rx="23.2" ry="9" transform="rotate(40 915.9 759.6)" fill="none" stroke="#000" stroke-width="2.7"/>
<path d="M954.4 740C958.3 743.9 966.8 755.5 977.7 763.2C988.6 771 1005.5 779.5 1019.8 786.5C1034.1 793.5 1050 798.7 1063.4 805.4C1076.8 812 1093.9 822.9 1100 826.4M913.8 740C916.9 743.1 922.2 749.9 932.6 758.9C943.1 767.8 961.7 784.3 976.2 793.8C990.8 803.2 1005.3 809 1019.8 815.5C1034.3 822.1 1050 827.5 1063.4 833C1076.8 838.4 1093.9 845.7 1100 848.2M899.2 785L1100 870.8M899.2 785L939.9 837.3M939.9 837.3L1100 907.1" stroke-width="2.7"/>
<path d="M964.6 848.7L1037.2 881.2" stroke-width="5"/>
<path d="M1038.7 883.8L1086.6 907.9M964.6 852.6C963.4 852.7 959.1 852.5 957.3 853.3C955.6 854.2 954.5 855.5 954.1 857.7C953.8 859.9 953.9 860.6 955.2 866.4C956.4 872.2 959.8 885.6 961.7 892.5C963.6 899.5 965.9 905.4 966.8 907.9M987.1 871.5C987.7 873.8 989.9 881.3 990.8 885.3C991.6 889.3 990 891.7 992.2 895.4C994.4 899.2 1001.9 905.9 1003.8 907.9M918.8 907.9C919.7 906.8 922.1 902.7 923.9 901.3C925.7 899.8 927.8 898.8 929.7 899.1C931.7 899.3 934 901.2 935.5 902.7C937.1 904.2 938.6 907.1 939.2 907.9" stroke-width="2.7"/>
</g>
<clipPath id="c768"><rect x="1620" y="2280" width="280" height="196"/></clipPath>
<rect x="1620" y="2280" width="280" height="196" fill="#fff" stroke="none"/>
<g clip-path="url(#c768)">
<ellipse cx="1640" cy="2294.4" rx="12.2" ry="10.5" transform="rotate(-20 1640 2294.4)" fill="none" stroke="#000" stroke-width="2.7"/>
<ellipse cx="1638.6" cy="2295.6" rx="8.1" ry="7.1" transform="rotate(-20 1638.6 2295.6)" fill="none" stroke="#000" stroke-width="2.7"/>
<path d="M1630.2 2302.9L1681.9 2367.3M1651.4 2286.8L1699.7 2358.8M1681.9 2367.3L1699.7 2358.8M1681.9 2367.3L1683.6 2390.2L1708.1 2429.2M1699.7 2358.8L1745.4 2408.8M1687.8 2398.6C1687.4 2396.9 1685.3 2391.3 1685.3 2388.5C1685.3 2385.6 1686 2383.5 1687.8 2381.7C1689.6 2379.9 1693.4 2377.9 1696.3 2377.5C1699.1 2377 1702.5 2377.9 1704.7 2379.2C1707 2380.4 1709 2384.1 1709.8 2385.1M1687.8 2398.6L1711.5 2432.5M1709.8 2385.1L1760.7 2456.3M1691.2 2396.9C1690.8 2395.7 1689 2391.4 1689.2 2389.3C1689.3 2387.2 1690.6 2385.5 1692 2384.2C1693.5 2383 1696 2381.8 1698 2381.7C1699.9 2381.6 1702.9 2383.1 1703.9 2383.4M1691.2 2396.9L1714.9 2430.8M1703.9 2383.4L1757.3 2458M1699.7 2358.8L1721.7 2388.5M1721.7 2390.2C1722.8 2392.1 1725.6 2398.9 1728.5 2402C1731.3 2405.1 1736.9 2407.7 1738.6 2408.8M1745.4 2408.8L1769.2 2437.6M1728.5 2407.1L1755.6 2442.7L1765.8 2459.7M1714.9 2405.4L1753.9 2461.4L1765.8 2463.1L1767.5 2452.9L1762.4 2447.8M1702.2 2425.8L1703.1 2435.9L1712.4 2429.2M1699.7 2441C1700.9 2439.5 1702.2 2437.9 1704.7 2437.6C1707.3 2437.3 1712.7 2438.5 1714.9 2439.3C1717.2 2440.2 1719.4 2441.3 1718.3 2442.7C1717.2 2444.1 1710.4 2445.8 1708.1 2447.8C1705.9 2449.8 1706.3 2453.7 1704.7 2454.6C1703.2 2455.4 1700.1 2454.2 1698.8 2452.9C1697.5 2451.6 1697 2448.9 1697.1 2446.9C1697.3 2445 1698.4 2442.6 1699.7 2441ZM1708.1 2447.8L1759 2474.9M1719.2 2432.5L1723.4 2442.7L1735.3 2452M1745.4 2410.5C1747.7 2411.1 1754.5 2414.2 1759 2413.9C1763.5 2413.6 1768.9 2411.9 1772.5 2408.8C1776.2 2405.7 1777.6 2402 1781 2395.3C1784.4 2388.5 1790.9 2372.7 1792.9 2368.1M1792.9 2368.1L1801.4 2367.3L1825.9 2395.3L1825.1 2398.6M1825.1 2398.6C1824.2 2400.9 1821.7 2408 1820 2412.2C1818.3 2416.4 1817.2 2420.7 1814.9 2424.1C1812.7 2427.5 1810.7 2430 1806.4 2432.5C1802.2 2435.1 1795.7 2438.1 1789.5 2439.3C1783.3 2440.6 1772.5 2440 1769.2 2440.2M1769.2 2440.2C1768.6 2441.4 1765.2 2446.4 1765.8 2447.8C1766.3 2449.2 1768.6 2449.5 1772.5 2448.6C1776.5 2447.8 1783.6 2445.1 1789.5 2442.7C1795.4 2440.3 1803.6 2437.6 1808.1 2434.2C1812.7 2430.8 1814.4 2426.6 1816.6 2422.4C1818.9 2418.1 1820.8 2411.1 1821.7 2408.8" stroke-width="2.7"/>
<path d="M1801.7 2368.5L1825.1 2396.1" stroke-width="6"/>
<path d="M1795.4 2385.1L1808.1 2381.7L1811.5 2390.2L1798 2427.5L1786.1 2413.9Z" stroke-width="2.7"/>
<ellipse cx="1802.7" cy="2388.5" rx="2.5" ry="3.1" transform="rotate(0 1802.7 2388.5)" fill="none" stroke="#000" stroke-width="2.7"/>
<path d="M1796.3 2425.8L1796.3 2417.3L1789.5 2413.9M1620 2358.3L1671.7 2358.3M1622.5 2352.9L1632.7 2346.1M1696.3 2305.4C1703.3 2302.9 1725.9 2294.1 1738.6 2290.2C1751.4 2286.2 1764.1 2283.4 1772.5 2281.7C1781 2280 1786.7 2280.3 1789.5 2280M1804.7 2280C1810.7 2281.1 1828.8 2283.1 1840.3 2286.8C1851.9 2290.5 1864.3 2295 1874.2 2302C1884.2 2309.1 1895.7 2324.6 1900 2329.2M1720.8 2340.2C1726.6 2338.6 1744.2 2332.8 1755.6 2330.8C1767 2328.9 1779.6 2327.7 1789.5 2328.3C1799.4 2328.9 1806.4 2330.7 1814.9 2334.2C1823.4 2337.8 1831.9 2341.6 1840.3 2349.5C1848.8 2357.4 1859 2370.7 1865.8 2381.7C1872.5 2392.7 1877.3 2404.3 1881 2415.6C1884.7 2426.9 1886.7 2439.4 1887.8 2449.5C1888.9 2459.5 1887.8 2471.5 1887.8 2475.9M1759.8 2298.6C1763.4 2300.9 1773.2 2307.4 1781 2312.2C1788.8 2317 1799.4 2322.9 1806.4 2327.5C1813.5 2332 1820.6 2337.3 1823.4 2339.3M1834.4 2429.2L1842.9 2443.6M1620 2408.8L1653.9 2379.2M1620 2475.9L1672.5 2430M1636.1 2475.9L1674.2 2439.3" stroke-width="2.7"/>
</g>
<clipPath id="c779"><rect x="880" y="230" width="240" height="240"/></clipPath>
<rect x="880" y="230" width="240" height="240" fill="#fff" stroke="none"/>
<g clip-path="url(#c779)">
<path d="M999.4 230L999.4 273.6M880 419.3L911.2 419.3M904 257.6L914.9 251.1L928.7 257.6L930.1 262.7L918.5 264.9L906.9 262ZM906.9 262.7C905.8 265.2 902.5 272.7 900.3 277.9C898.2 283.1 895.2 289.3 893.8 293.9C892.4 298.5 891.5 301.9 891.9 305.5C892.3 309.2 893.4 313.2 896 315.7C898.6 318.3 903 320.8 907.6 320.8C912.2 320.8 917.3 318 923.6 315.7C929.9 313.4 938.1 309.9 945.4 307C952.6 304.1 961.1 300 967.2 298.3C973.2 296.6 976.4 296.8 981.7 296.8C987 296.8 996.2 298 999.1 298.3M918.5 265.6C917.7 267.9 915.7 273.5 913.4 279.4C911.1 285.3 906.2 297.6 904.7 301.2M929.4 262.7C928.4 265.2 925.8 272.3 923.6 277.9C921.4 283.6 913.9 295.1 916.3 296.8C918.7 298.5 931.3 290.8 938.1 288.1C944.9 285.4 951.2 282.1 957 280.8C962.8 279.6 966.9 280.4 973 280.8C979 281.3 989.9 283.3 993.3 283.8M904.7 302.6C905.4 303.7 904.7 309.4 909.1 309.2C913.4 308.9 923.6 303.8 930.8 301.2C938.1 298.5 946.1 295.3 952.6 293.2C959.2 291.1 963.8 289.6 970.1 288.8C976.4 288.1 984.8 288.5 990.4 288.8C996 289.2 1001.3 290.7 1003.5 291M895.3 299.7L901.8 302.6L901.8 315.7M968.6 309.2C965.2 310.5 952.4 314.9 948.3 317.2C944.2 319.5 944.5 318.1 943.9 323C943.3 327.8 945.4 341 944.6 346.2C943.9 351.4 945.5 351.8 939.6 354.2C933.6 356.6 915 358.8 909.1 360.8C903.1 362.7 904.1 364 904 365.8C903.8 367.7 902.6 370.9 908.3 371.6C914 372.4 928.3 371.2 938.1 370.2C947.9 369.2 961 367.4 967.2 365.8C973.3 364.3 973.9 362.4 975.2 360.8C976.4 359.1 976.2 356.6 974.4 355.7C972.6 354.7 966.7 356 964.3 354.9C961.8 353.8 960.5 353.2 959.6 349.1C958.8 345 958.5 334.2 959.2 330.2C959.8 326.2 961.2 326.4 963.5 325.2C965.8 323.9 971.4 323.3 973 323M997.7 281.6L1006.4 275L1014.4 275L1019.5 285.2L1025.3 283L1031.8 285.9L1034 302.6M1006.4 275L1013.7 295.4M1014.4 275.8L1019.5 295.4M973 288.1C976.4 288.1 987.5 287.1 993.3 288.1C999.1 289.1 1004.2 291.5 1007.8 293.9C1011.5 296.3 1014.1 299 1015.1 302.6C1016.1 306.3 1013.9 313.5 1013.7 315.7" stroke-width="2.7"/>
<ellipse cx="1023.1" cy="307.7" rx="6.5" ry="10.5" transform="rotate(30 1023.1 307.7)" fill="none" stroke="#000" stroke-width="2.7"/>
<ellipse cx="1023.8" cy="307.7" rx="2.9" ry="5.5" transform="rotate(30 1023.8 307.7)" fill="none" stroke="#000" stroke-width="2.7"/>
<path d="M1015.1 315.7C1015.8 316.2 1017.8 319.1 1019.5 318.6C1021.2 318.1 1023.3 315.2 1025.3 312.8C1027.2 310.4 1030.1 305.5 1031.1 304.1M1032.5 307L1051.4 317.9M970.1 299.7C972 299.5 977.3 298.5 981.7 298.3C986.1 298 992.3 297.6 996.2 298.3C1000.1 299 1002.9 300.5 1004.9 302.6C1007 304.8 1008 309.9 1008.6 311.4M981.7 301.2L990.4 324.4M988.2 300.5L1000.6 330.2M994.8 299.7L1004.9 331.7M973 315C972.3 316.1 968.1 319.5 968.6 321.5C969.1 323.6 972.7 326.1 975.9 327.3C979 328.5 984.8 329.3 987.5 328.8C990.2 328.3 992.3 325.9 991.9 324.4C991.4 323 987.3 320.8 984.6 320.1C981.9 319.3 977.3 320.1 975.9 320.1M983.9 331.7C984.7 333.6 986.7 340.4 989 343.3C991.3 346.2 994.8 348.9 997.7 349.1C1000.6 349.4 1002 347.9 1006.4 344.8C1010.8 341.6 1020.9 334.8 1023.8 330.2C1026.7 325.6 1023.8 319.3 1023.8 317.2M1016.6 335.3L1024.6 339.7M993.3 317.2C995 318.1 999.6 321.8 1003.5 323C1007.4 324.2 1013.2 325.2 1016.6 324.4C1020 323.7 1022.6 319.6 1023.8 318.6M971.5 272.1L997.7 282.3M971.5 272.1L975.9 280.8M1052.9 309.2L1056.5 307L1073.2 314.3L1071.8 320.1L1055.8 315.7ZM1058 312.8C1058 311.7 1061.2 311.4 1063.1 312.1C1064.9 312.8 1068.9 316 1068.9 317.2C1068.9 318.3 1064.9 319.6 1063.1 318.9C1061.2 318.2 1058 313.9 1058 312.8ZM1074.7 312.1L1096.5 293.9M1064.5 320.8L965 401.1M1039.8 327.6L1045.6 323.7M1071.8 315.7L1074.7 327.3L1088.5 333.9L1095 384L1089.9 389.1L1067.4 376.7M1067.4 323C1067.7 324.9 1067.9 331.5 1068.9 334.6C1069.8 337.7 1071 340.7 1073.2 341.9C1075.4 343.1 1079.8 342.6 1081.9 341.9C1084.1 341.1 1085.2 338.8 1086.3 337.5C1087.4 336.2 1088.1 334.5 1088.5 333.9M1061.6 331.7C1062.6 333.6 1065.2 340.9 1067.4 343.3C1069.6 345.7 1072 346 1074.7 346.2C1077.3 346.5 1081.5 344 1083.4 344.8C1085.3 345.5 1087.5 348.9 1086.3 350.6C1085.1 352.3 1077.8 354.2 1076.1 354.9" stroke-width="2.7"/>
<ellipse cx="1081.2" cy="359.3" rx="2.9" ry="6.1" transform="rotate(-20 1081.2 359.3)" fill="none" stroke="#000" stroke-width="2.7"/>
<path d="M1061.6 337.5C1056 337.7 1039.8 353 1034 357.8C1028.2 362.7 1027.8 361.2 1026.7 366.6C1025.6 371.9 1026.7 384.5 1027.5 389.8C1028.2 395.1 1028.5 397.3 1031.1 398.5C1033.6 399.7 1036.9 400.7 1042.7 397.1C1048.5 393.4 1061.1 382.1 1066 376.7C1070.8 371.4 1071.5 368.5 1071.8 365.1C1072 361.7 1069.1 361 1067.4 356.4C1065.7 351.8 1067.2 337.3 1061.6 337.5ZM1048.5 362.2C1043.6 363.5 1036.7 368.5 1034.7 373.1C1032.8 377.7 1035.3 387.4 1036.9 389.8C1038.5 392.2 1040 391 1044.2 387.6C1048.3 384.2 1058.2 373.2 1061.6 369.5C1065 365.7 1066.7 366.3 1064.5 365.1C1062.3 363.9 1053.5 360.9 1048.5 362.2ZM1048.5 362.2L1058.7 366.6M1061.6 353.5L1058.7 366.6" stroke-width="2.7"/>
<path d="M1041.3 350.6L1061.6 336.8" stroke-width="6"/>
<path d="M916.3 408L926.5 400L943.2 400L959.2 417.4L961.4 431.9L951.2 445L938.1 446.5L923.6 442.1L916.3 431.9ZM916.3 417.4L923.6 408L936.7 406.5L943.9 400.7M936.7 406.5L949.7 424.7L960.6 418.9M949.7 424.7L948.3 443.6" stroke-width="2.7"/>
<ellipse cx="930.8" cy="429.8" rx="13.8" ry="15.3" transform="rotate(0 930.8 429.8)" fill="none" stroke="#000" stroke-width="2.7"/>
</g>
<path d="M1097 294L1141 476.7M1145.4 494.9L1151.5 520.2M1155 534.8L1189 676M999.4 212L999.4 232M856 419.3L881 419.3M1720 718C1733.7 710.3 1764.2 692.5 1802 672C1839.8 651.5 1893.8 622.2 1947 595C2000.2 567.8 2092 523.3 2121 509" stroke-width="2.7"/>
</g>
<g>
<text x="973" y="199">12</text>
<text x="795" y="438">13</text>
<text x="522" y="582">14</text>
<text x="567" y="672">31</text>
<text x="566" y="780">30</text>
<text x="1343" y="487">1A</text>
<text x="1288" y="585">1</text>
<text x="1407" y="585">10</text>
<text x="795" y="904">5</text>
<text x="734" y="944">6</text>
<text x="711" y="1212">4</text>
<text x="1026" y="1221">14A</text>
<text x="1225" y="1233">10</text>
<text x="1173" y="1331">8</text>
<text x="1929" y="1178">11</text>
<text x="472" y="1090">2</text>
<text x="584" y="1390">27</text>
<text x="699" y="1433">28</text>
<text x="1095" y="1462">7</text>
<text x="901" y="1284">3</text>
<text x="1175" y="1583">8</text>
<text x="1493" y="1763">9</text>
<text x="1610" y="1578">33</text>
<text x="1721" y="1639">32</text>
<text x="359" y="1701">29</text>
<text x="657" y="1983">17</text>
<text x="723" y="1886">16</text>
<text x="1055" y="2088">18</text>
<text x="1096" y="1950">34</text>
<text x="1164" y="2249">25</text>
<text x="1622" y="2148">26</text>
<text x="1717" y="2076">23</text>
<text x="1862" y="2267">22</text>
<text x="2014" y="2242">24</text>
<text x="129" y="2372">15</text>
<text x="536" y="2407">18</text>
<text x="1071" y="2168">21</text>
<text x="1520" y="2307">20</text>
<text x="1529" y="2375">35</text>
<text x="1891" y="2638">36</text>
</g>
</svg>
<div id="hl"></div>
<div id="footer"><span id="f1" style="left:606px;letter-spacing:-2.2px">VAG - 8E1823531D</span><span id="f2" style="left:1509px;letter-spacing:-1.8px">N - 20</span></div>
</body>
</html>
